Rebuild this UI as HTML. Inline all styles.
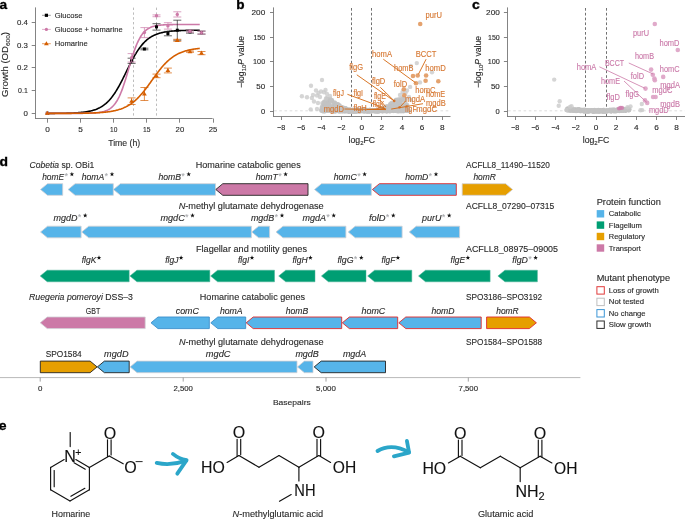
<!DOCTYPE html>
<html><head><meta charset="utf-8"><title>Figure</title>
<style>html,body{margin:0;padding:0;background:#fff;overflow:hidden}svg{display:block;will-change:transform}text{font-family:"Liberation Sans",sans-serif;stroke-width:0.12px}</style>
</head><body>
<svg width="685" height="519" viewBox="0 0 685 519">
<rect width="685" height="519" fill="#fff"/>
<text x="-0.60" y="8.90" font-size="12.2" fill="#000" stroke="#000" font-weight="bold" textLength="7.6" lengthAdjust="spacingAndGlyphs" style="stroke-width:0.3px">a</text>
<line x1="35.50" y1="7.40" x2="35.50" y2="118.90" stroke="#767676" stroke-width="0.9" />
<line x1="35.10" y1="118.50" x2="212.60" y2="118.50" stroke="#767676" stroke-width="0.9" />
<line x1="31.70" y1="113.50" x2="35.50" y2="113.50" stroke="#767676" stroke-width="0.9" />
<text x="27.80" y="115.90" font-size="7" fill="#2a2a2a" stroke="#2a2a2a" text-anchor="end" textLength="4.4" lengthAdjust="spacingAndGlyphs" >0</text>
<line x1="31.70" y1="90.50" x2="35.50" y2="90.50" stroke="#767676" stroke-width="0.9" />
<text x="27.80" y="93.10" font-size="7" fill="#2a2a2a" stroke="#2a2a2a" text-anchor="end" textLength="9.7" lengthAdjust="spacingAndGlyphs" >0.1</text>
<line x1="31.70" y1="67.50" x2="35.50" y2="67.50" stroke="#767676" stroke-width="0.9" />
<text x="27.80" y="70.30" font-size="7" fill="#2a2a2a" stroke="#2a2a2a" text-anchor="end" textLength="10.9" lengthAdjust="spacingAndGlyphs" >0.2</text>
<line x1="31.70" y1="45.50" x2="35.50" y2="45.50" stroke="#767676" stroke-width="0.9" />
<text x="27.80" y="47.50" font-size="7" fill="#2a2a2a" stroke="#2a2a2a" text-anchor="end" textLength="10.9" lengthAdjust="spacingAndGlyphs" >0.3</text>
<line x1="31.70" y1="22.50" x2="35.50" y2="22.50" stroke="#767676" stroke-width="0.9" />
<text x="27.80" y="24.70" font-size="7" fill="#2a2a2a" stroke="#2a2a2a" text-anchor="end" textLength="10.9" lengthAdjust="spacingAndGlyphs" >0.4</text>
<line x1="47.50" y1="118.50" x2="47.50" y2="122.70" stroke="#767676" stroke-width="0.9" />
<text x="47.50" y="132.10" font-size="7" fill="#2a2a2a" stroke="#2a2a2a" text-anchor="middle" textLength="4.6" lengthAdjust="spacingAndGlyphs" >0</text>
<line x1="80.50" y1="118.50" x2="80.50" y2="122.70" stroke="#767676" stroke-width="0.9" />
<text x="80.60" y="132.10" font-size="7" fill="#2a2a2a" stroke="#2a2a2a" text-anchor="middle" textLength="4.6" lengthAdjust="spacingAndGlyphs" >5</text>
<line x1="113.50" y1="118.50" x2="113.50" y2="122.70" stroke="#767676" stroke-width="0.9" />
<text x="113.70" y="132.10" font-size="7" fill="#2a2a2a" stroke="#2a2a2a" text-anchor="middle" textLength="7.3" lengthAdjust="spacingAndGlyphs" >10</text>
<line x1="146.50" y1="118.50" x2="146.50" y2="122.70" stroke="#767676" stroke-width="0.9" />
<text x="146.80" y="132.10" font-size="7" fill="#2a2a2a" stroke="#2a2a2a" text-anchor="middle" textLength="7.5" lengthAdjust="spacingAndGlyphs" >15</text>
<line x1="179.50" y1="118.50" x2="179.50" y2="122.70" stroke="#767676" stroke-width="0.9" />
<text x="179.90" y="132.10" font-size="7" fill="#2a2a2a" stroke="#2a2a2a" text-anchor="middle" textLength="8.6" lengthAdjust="spacingAndGlyphs" >20</text>
<line x1="213.50" y1="118.50" x2="213.50" y2="122.70" stroke="#767676" stroke-width="0.9" />
<text x="213.00" y="132.10" font-size="7" fill="#2a2a2a" stroke="#2a2a2a" text-anchor="middle" textLength="8.6" lengthAdjust="spacingAndGlyphs" >25</text>
<text x="124.20" y="145.90" font-size="8.7" fill="#2a2a2a" stroke="#2a2a2a" text-anchor="middle" textLength="32.1" lengthAdjust="spacingAndGlyphs" >Time (h)</text>
<text transform="translate(7.8,64.5) rotate(-90)" font-size="8.8" fill="#2a2a2a" stroke="#2a2a2a" text-anchor="middle" textLength="65" lengthAdjust="spacingAndGlyphs">Growth (OD<tspan font-size="6" dy="2.2">600</tspan><tspan dy="-2.2">)</tspan></text>
<line x1="133.50" y1="7.60" x2="133.50" y2="118.40" stroke="#a0a0a0" stroke-width="0.7" stroke-dasharray="2.4 2.4"/>
<line x1="156.50" y1="7.60" x2="156.50" y2="118.40" stroke="#a0a0a0" stroke-width="0.7" stroke-dasharray="2.4 2.4"/>
<polyline points="47.50,113.36 48.16,113.36 48.82,113.36 49.49,113.36 50.15,113.35 50.81,113.35 51.47,113.35 52.13,113.34 52.80,113.34 53.46,113.33 54.12,113.33 54.78,113.33 55.44,113.32 56.11,113.32 56.77,113.31 57.43,113.30 58.09,113.30 58.75,113.29 59.42,113.28 60.08,113.28 60.74,113.27 61.40,113.26 62.06,113.25 62.73,113.24 63.39,113.23 64.05,113.22 64.71,113.20 65.37,113.19 66.04,113.18 66.70,113.16 67.36,113.15 68.02,113.13 68.68,113.11 69.35,113.09 70.01,113.07 70.67,113.05 71.33,113.02 71.99,113.00 72.66,112.97 73.32,112.94 73.98,112.91 74.64,112.88 75.30,112.85 75.97,112.81 76.63,112.77 77.29,112.73 77.95,112.68 78.61,112.63 79.28,112.58 79.94,112.53 80.60,112.47 81.26,112.41 81.92,112.34 82.59,112.27 83.25,112.20 83.91,112.12 84.57,112.04 85.23,111.95 85.90,111.85 86.56,111.75 87.22,111.64 87.88,111.52 88.54,111.40 89.21,111.27 89.87,111.13 90.53,110.98 91.19,110.83 91.85,110.66 92.52,110.48 93.18,110.29 93.84,110.09 94.50,109.88 95.16,109.65 95.83,109.42 96.49,109.16 97.15,108.89 97.81,108.61 98.47,108.30 99.14,107.98 99.80,107.65 100.46,107.29 101.12,106.91 101.78,106.51 102.45,106.09 103.11,105.64 103.77,105.17 104.43,104.68 105.09,104.16 105.76,103.61 106.42,103.03 107.08,102.43 107.74,101.80 108.40,101.13 109.07,100.44 109.73,99.71 110.39,98.95 111.05,98.16 111.71,97.33 112.38,96.47 113.04,95.58 113.70,94.65 114.36,93.69 115.02,92.69 115.69,91.67 116.35,90.61 117.01,89.52 117.67,88.39 118.33,87.24 119.00,86.06 119.66,84.86 120.32,83.63 120.98,82.37 121.64,81.10 122.31,79.80 122.97,78.49 123.63,77.17 124.29,75.83 124.95,74.49 125.62,73.14 126.28,71.79 126.94,70.44 127.60,69.09 128.26,67.75 128.93,66.41 129.59,65.09 130.25,63.78 130.91,62.48 131.57,61.21 132.24,59.95 132.90,58.72 133.56,57.52 134.22,56.34 134.88,55.19 135.55,54.06 136.21,52.97 136.87,51.91 137.53,50.89 138.19,49.89 138.86,48.93 139.52,48.00 140.18,47.11 140.84,46.25 141.50,45.42 142.17,44.63 142.83,43.87 143.49,43.14 144.15,42.45 144.81,41.78 145.48,41.15 146.14,40.55 146.80,39.97 147.46,39.42 148.12,38.90 148.79,38.41 149.45,37.94 150.11,37.49 150.77,37.07 151.43,36.67 152.10,36.29 152.76,35.93 153.42,35.60 154.08,35.28 154.74,34.97 155.41,34.69 156.07,34.42 156.73,34.16 157.39,33.93 158.05,33.70 158.72,33.49 159.38,33.29 160.04,33.10 160.70,32.92 161.36,32.75 162.03,32.60 162.69,32.45 163.35,32.31 164.01,32.18 164.67,32.06 165.34,31.94 166.00,31.83 166.66,31.73 167.32,31.63 167.98,31.54 168.65,31.46 169.31,31.38 169.97,31.31 170.63,31.24 171.29,31.17 171.96,31.11 172.62,31.05 173.28,31.00 173.94,30.95 174.60,30.90 175.27,30.85 175.93,30.81 176.59,30.77 177.25,30.73 177.91,30.70 178.58,30.67 179.24,30.64 179.90,30.61 180.56,30.58 181.22,30.56 181.89,30.53 182.55,30.51 183.21,30.49 183.87,30.47 184.53,30.45 185.20,30.43 185.86,30.42 186.52,30.40 187.18,30.39 187.84,30.38 188.51,30.36 189.17,30.35 189.83,30.34 190.49,30.33 191.15,30.32 191.82,30.31 192.48,30.30 193.14,30.30 193.80,30.29 194.46,30.28 195.13,30.28 195.79,30.27 196.45,30.26 197.11,30.26 197.77,30.25 198.44,30.25 199.10,30.25 199.76,30.24" fill="none" stroke="#000" stroke-width="1.6" stroke-linejoin="round"/>
<polyline points="47.50,113.40 48.16,113.40 48.82,113.40 49.49,113.40 50.15,113.40 50.81,113.40 51.47,113.40 52.13,113.40 52.80,113.40 53.46,113.40 54.12,113.40 54.78,113.40 55.44,113.40 56.11,113.40 56.77,113.40 57.43,113.40 58.09,113.40 58.75,113.40 59.42,113.40 60.08,113.40 60.74,113.40 61.40,113.40 62.06,113.40 62.73,113.40 63.39,113.40 64.05,113.40 64.71,113.40 65.37,113.39 66.04,113.39 66.70,113.39 67.36,113.39 68.02,113.39 68.68,113.39 69.35,113.39 70.01,113.39 70.67,113.39 71.33,113.39 71.99,113.39 72.66,113.38 73.32,113.38 73.98,113.38 74.64,113.38 75.30,113.38 75.97,113.37 76.63,113.37 77.29,113.37 77.95,113.36 78.61,113.36 79.28,113.36 79.94,113.35 80.60,113.35 81.26,113.34 81.92,113.33 82.59,113.33 83.25,113.32 83.91,113.31 84.57,113.30 85.23,113.29 85.90,113.28 86.56,113.26 87.22,113.25 87.88,113.23 88.54,113.22 89.21,113.20 89.87,113.18 90.53,113.15 91.19,113.12 91.85,113.09 92.52,113.06 93.18,113.03 93.84,112.99 94.50,112.94 95.16,112.89 95.83,112.84 96.49,112.78 97.15,112.71 97.81,112.64 98.47,112.56 99.14,112.47 99.80,112.37 100.46,112.26 101.12,112.14 101.78,112.01 102.45,111.86 103.11,111.70 103.77,111.52 104.43,111.32 105.09,111.11 105.76,110.87 106.42,110.60 107.08,110.31 107.74,109.99 108.40,109.64 109.07,109.26 109.73,108.84 110.39,108.38 111.05,107.87 111.71,107.32 112.38,106.71 113.04,106.05 113.70,105.34 114.36,104.56 115.02,103.71 115.69,102.79 116.35,101.80 117.01,100.73 117.67,99.59 118.33,98.35 119.00,97.04 119.66,95.63 120.32,94.13 120.98,92.55 121.64,90.88 122.31,89.12 122.97,87.28 123.63,85.36 124.29,83.36 124.95,81.30 125.62,79.18 126.28,77.01 126.94,74.80 127.60,72.56 128.26,70.30 128.93,68.03 129.59,65.77 130.25,63.53 130.91,61.31 131.57,59.13 132.24,57.00 132.90,54.92 133.56,52.91 134.22,50.98 134.88,49.12 135.55,47.35 136.21,45.66 136.87,44.06 137.53,42.54 138.19,41.12 138.86,39.78 139.52,38.53 140.18,37.37 140.84,36.28 141.50,35.28 142.17,34.35 142.83,33.49 143.49,32.70 144.15,31.97 144.81,31.30 145.48,30.68 146.14,30.12 146.80,29.60 147.46,29.13 148.12,28.70 148.79,28.31 149.45,27.95 150.11,27.63 150.77,27.33 151.43,27.06 152.10,26.82 152.76,26.60 153.42,26.40 154.08,26.22 154.74,26.05 155.41,25.90 156.07,25.76 156.73,25.64 157.39,25.53 158.05,25.43 158.72,25.34 159.38,25.26 160.04,25.18 160.70,25.11 161.36,25.05 162.03,25.00 162.69,24.95 163.35,24.90 164.01,24.86 164.67,24.82 165.34,24.79 166.00,24.76 166.66,24.73 167.32,24.71 167.98,24.69 168.65,24.67 169.31,24.65 169.97,24.63 170.63,24.62 171.29,24.60 171.96,24.59 172.62,24.58 173.28,24.57 173.94,24.56 174.60,24.55 175.27,24.55 175.93,24.54 176.59,24.54 177.25,24.53 177.91,24.52 178.58,24.52 179.24,24.52 179.90,24.51 180.56,24.51 181.22,24.51 181.89,24.50 182.55,24.50 183.21,24.50 183.87,24.50 184.53,24.50 185.20,24.49 185.86,24.49 186.52,24.49 187.18,24.49 187.84,24.49 188.51,24.49 189.17,24.49 189.83,24.49 190.49,24.49 191.15,24.49 191.82,24.49 192.48,24.48 193.14,24.48 193.80,24.48 194.46,24.48 195.13,24.48 195.79,24.48 196.45,24.48 197.11,24.48 197.77,24.48 198.44,24.48 199.10,24.48 199.76,24.48" fill="none" stroke="#cc79a7" stroke-width="1.6" stroke-linejoin="round"/>
<polyline points="47.50,113.39 48.16,113.39 48.82,113.39 49.49,113.39 50.15,113.39 50.81,113.39 51.47,113.39 52.13,113.39 52.80,113.38 53.46,113.38 54.12,113.38 54.78,113.38 55.44,113.38 56.11,113.38 56.77,113.38 57.43,113.38 58.09,113.38 58.75,113.38 59.42,113.37 60.08,113.37 60.74,113.37 61.40,113.37 62.06,113.37 62.73,113.37 63.39,113.36 64.05,113.36 64.71,113.36 65.37,113.36 66.04,113.35 66.70,113.35 67.36,113.35 68.02,113.35 68.68,113.34 69.35,113.34 70.01,113.34 70.67,113.33 71.33,113.33 71.99,113.32 72.66,113.32 73.32,113.31 73.98,113.31 74.64,113.30 75.30,113.30 75.97,113.29 76.63,113.29 77.29,113.28 77.95,113.27 78.61,113.27 79.28,113.26 79.94,113.25 80.60,113.24 81.26,113.23 81.92,113.22 82.59,113.21 83.25,113.20 83.91,113.19 84.57,113.18 85.23,113.17 85.90,113.15 86.56,113.14 87.22,113.12 87.88,113.11 88.54,113.09 89.21,113.07 89.87,113.06 90.53,113.04 91.19,113.02 91.85,112.99 92.52,112.97 93.18,112.95 93.84,112.92 94.50,112.89 95.16,112.86 95.83,112.83 96.49,112.80 97.15,112.77 97.81,112.73 98.47,112.69 99.14,112.65 99.80,112.61 100.46,112.56 101.12,112.52 101.78,112.47 102.45,112.41 103.11,112.36 103.77,112.30 104.43,112.23 105.09,112.17 105.76,112.10 106.42,112.03 107.08,111.95 107.74,111.87 108.40,111.78 109.07,111.69 109.73,111.59 110.39,111.49 111.05,111.39 111.71,111.27 112.38,111.16 113.04,111.03 113.70,110.90 114.36,110.76 115.02,110.62 115.69,110.46 116.35,110.30 117.01,110.13 117.67,109.95 118.33,109.77 119.00,109.57 119.66,109.36 120.32,109.14 120.98,108.92 121.64,108.68 122.31,108.42 122.97,108.16 123.63,107.88 124.29,107.59 124.95,107.29 125.62,106.97 126.28,106.64 126.94,106.29 127.60,105.93 128.26,105.55 128.93,105.16 129.59,104.74 130.25,104.31 130.91,103.87 131.57,103.40 132.24,102.91 132.90,102.41 133.56,101.89 134.22,101.35 134.88,100.78 135.55,100.20 136.21,99.60 136.87,98.98 137.53,98.34 138.19,97.68 138.86,97.00 139.52,96.30 140.18,95.58 140.84,94.84 141.50,94.08 142.17,93.31 142.83,92.51 143.49,91.71 144.15,90.88 144.81,90.04 145.48,89.19 146.14,88.33 146.80,87.45 147.46,86.56 148.12,85.66 148.79,84.76 149.45,83.84 150.11,82.93 150.77,82.00 151.43,81.08 152.10,80.15 152.76,79.23 153.42,78.31 154.08,77.39 154.74,76.47 155.41,75.56 156.07,74.66 156.73,73.76 157.39,72.88 158.05,72.01 158.72,71.15 159.38,70.30 160.04,69.47 160.70,68.65 161.36,67.85 162.03,67.06 162.69,66.29 163.35,65.54 164.01,64.81 164.67,64.10 165.34,63.41 166.00,62.74 166.66,62.08 167.32,61.45 167.98,60.84 168.65,60.24 169.31,59.67 169.97,59.11 170.63,58.58 171.29,58.07 171.96,57.57 172.62,57.09 173.28,56.63 173.94,56.19 174.60,55.77 175.27,55.36 175.93,54.97 176.59,54.60 177.25,54.25 177.91,53.90 178.58,53.58 179.24,53.27 179.90,52.97 180.56,52.68 181.22,52.41 181.89,52.15 182.55,51.91 183.21,51.67 183.87,51.45 184.53,51.23 185.20,51.03 185.86,50.84 186.52,50.65 187.18,50.48 187.84,50.31 188.51,50.15 189.17,50.00 189.83,49.86 190.49,49.73 191.15,49.60 191.82,49.48 192.48,49.36 193.14,49.25 193.80,49.15 194.46,49.05 195.13,48.95 195.79,48.86 196.45,48.78 197.11,48.70 197.77,48.62 198.44,48.55 199.10,48.48 199.76,48.42" fill="none" stroke="#d55e00" stroke-width="1.6" stroke-linejoin="round"/>
<rect x="45.80" y="111.70" width="3" height="3" fill="#000"/>
<line x1="131.60" y1="58.20" x2="131.60" y2="63.40" stroke="#222" stroke-width="0.7" />
<line x1="127.60" y1="58.20" x2="135.60" y2="58.20" stroke="#222" stroke-width="0.7" />
<line x1="127.60" y1="63.40" x2="135.60" y2="63.40" stroke="#222" stroke-width="0.7" />
<rect x="130.10" y="59.30" width="3" height="3" fill="#000"/>
<line x1="144.40" y1="48.20" x2="144.40" y2="49.80" stroke="#222" stroke-width="0.7" />
<line x1="140.40" y1="48.20" x2="148.40" y2="48.20" stroke="#222" stroke-width="0.7" />
<line x1="140.40" y1="49.80" x2="148.40" y2="49.80" stroke="#222" stroke-width="0.7" />
<rect x="142.90" y="47.50" width="3" height="3" fill="#000"/>
<line x1="156.50" y1="23.70" x2="156.50" y2="30.10" stroke="#222" stroke-width="0.7" />
<line x1="152.50" y1="23.70" x2="160.50" y2="23.70" stroke="#222" stroke-width="0.7" />
<line x1="152.50" y1="30.10" x2="160.50" y2="30.10" stroke="#222" stroke-width="0.7" />
<rect x="155.00" y="25.40" width="3" height="3" fill="#000"/>
<line x1="167.90" y1="31.40" x2="167.90" y2="35.80" stroke="#222" stroke-width="0.7" />
<line x1="163.90" y1="31.40" x2="171.90" y2="31.40" stroke="#222" stroke-width="0.7" />
<line x1="163.90" y1="35.80" x2="171.90" y2="35.80" stroke="#222" stroke-width="0.7" />
<rect x="166.40" y="32.10" width="3" height="3" fill="#000"/>
<line x1="177.30" y1="20.20" x2="177.30" y2="40.20" stroke="#222" stroke-width="0.7" />
<line x1="173.30" y1="20.20" x2="181.30" y2="20.20" stroke="#222" stroke-width="0.7" />
<line x1="173.30" y1="40.20" x2="181.30" y2="40.20" stroke="#222" stroke-width="0.7" />
<rect x="175.80" y="28.70" width="3" height="3" fill="#000"/>
<line x1="190.00" y1="30.70" x2="190.00" y2="33.10" stroke="#222" stroke-width="0.7" />
<line x1="186.00" y1="30.70" x2="194.00" y2="30.70" stroke="#222" stroke-width="0.7" />
<line x1="186.00" y1="33.10" x2="194.00" y2="33.10" stroke="#222" stroke-width="0.7" />
<rect x="188.50" y="30.40" width="3" height="3" fill="#000"/>
<line x1="201.50" y1="31.10" x2="201.50" y2="34.10" stroke="#222" stroke-width="0.7" />
<line x1="197.50" y1="31.10" x2="205.50" y2="31.10" stroke="#222" stroke-width="0.7" />
<line x1="197.50" y1="34.10" x2="205.50" y2="34.10" stroke="#222" stroke-width="0.7" />
<rect x="200.00" y="31.10" width="3" height="3" fill="#000"/>
<circle cx="47.30" cy="113.20" r="1.7" fill="#cc79a7"/>
<line x1="131.60" y1="53.60" x2="131.60" y2="62.00" stroke="#cc79a7" stroke-width="0.7" />
<line x1="127.60" y1="53.60" x2="135.60" y2="53.60" stroke="#cc79a7" stroke-width="0.7" />
<line x1="127.60" y1="62.00" x2="135.60" y2="62.00" stroke="#cc79a7" stroke-width="0.7" />
<circle cx="131.60" cy="57.80" r="1.7" fill="#cc79a7"/>
<line x1="144.40" y1="27.60" x2="144.40" y2="37.60" stroke="#cc79a7" stroke-width="0.7" />
<line x1="140.40" y1="27.60" x2="148.40" y2="27.60" stroke="#cc79a7" stroke-width="0.7" />
<line x1="140.40" y1="37.60" x2="148.40" y2="37.60" stroke="#cc79a7" stroke-width="0.7" />
<circle cx="144.40" cy="32.60" r="1.7" fill="#cc79a7"/>
<line x1="156.50" y1="14.90" x2="156.50" y2="16.70" stroke="#cc79a7" stroke-width="0.7" />
<line x1="152.50" y1="14.90" x2="160.50" y2="14.90" stroke="#cc79a7" stroke-width="0.7" />
<line x1="152.50" y1="16.70" x2="160.50" y2="16.70" stroke="#cc79a7" stroke-width="0.7" />
<circle cx="156.50" cy="15.80" r="1.7" fill="#cc79a7"/>
<line x1="167.90" y1="22.70" x2="167.90" y2="29.10" stroke="#cc79a7" stroke-width="0.7" />
<line x1="163.90" y1="22.70" x2="171.90" y2="22.70" stroke="#cc79a7" stroke-width="0.7" />
<line x1="163.90" y1="29.10" x2="171.90" y2="29.10" stroke="#cc79a7" stroke-width="0.7" />
<circle cx="167.90" cy="25.90" r="1.7" fill="#cc79a7"/>
<line x1="177.30" y1="11.80" x2="177.30" y2="17.00" stroke="#cc79a7" stroke-width="0.7" />
<line x1="173.30" y1="11.80" x2="181.30" y2="11.80" stroke="#cc79a7" stroke-width="0.7" />
<line x1="173.30" y1="17.00" x2="181.30" y2="17.00" stroke="#cc79a7" stroke-width="0.7" />
<circle cx="177.30" cy="14.40" r="1.7" fill="#cc79a7"/>
<line x1="190.00" y1="30.20" x2="190.00" y2="32.20" stroke="#cc79a7" stroke-width="0.7" />
<line x1="186.00" y1="30.20" x2="194.00" y2="30.20" stroke="#cc79a7" stroke-width="0.7" />
<line x1="186.00" y1="32.20" x2="194.00" y2="32.20" stroke="#cc79a7" stroke-width="0.7" />
<circle cx="190.00" cy="31.20" r="1.7" fill="#cc79a7"/>
<line x1="201.50" y1="31.10" x2="201.50" y2="34.10" stroke="#cc79a7" stroke-width="0.7" />
<line x1="197.50" y1="31.10" x2="205.50" y2="31.10" stroke="#cc79a7" stroke-width="0.7" />
<line x1="197.50" y1="34.10" x2="205.50" y2="34.10" stroke="#cc79a7" stroke-width="0.7" />
<circle cx="201.50" cy="32.60" r="1.7" fill="#cc79a7"/>
<path d="M47.30,110.70 L49.70,114.80 L44.90,114.80Z" fill="#d55e00"/>
<line x1="131.60" y1="97.90" x2="131.60" y2="104.50" stroke="#d55e00" stroke-width="0.7" />
<line x1="127.60" y1="97.90" x2="135.60" y2="97.90" stroke="#d55e00" stroke-width="0.7" />
<line x1="127.60" y1="104.50" x2="135.60" y2="104.50" stroke="#d55e00" stroke-width="0.7" />
<path d="M131.60,98.70 L134.00,102.80 L129.20,102.80Z" fill="#d55e00"/>
<line x1="144.40" y1="87.50" x2="144.40" y2="100.50" stroke="#d55e00" stroke-width="0.7" />
<line x1="140.40" y1="87.50" x2="148.40" y2="87.50" stroke="#d55e00" stroke-width="0.7" />
<line x1="140.40" y1="100.50" x2="148.40" y2="100.50" stroke="#d55e00" stroke-width="0.7" />
<path d="M144.40,91.50 L146.80,95.60 L142.00,95.60Z" fill="#d55e00"/>
<line x1="156.50" y1="74.10" x2="156.50" y2="77.70" stroke="#d55e00" stroke-width="0.7" />
<line x1="152.50" y1="74.10" x2="160.50" y2="74.10" stroke="#d55e00" stroke-width="0.7" />
<line x1="152.50" y1="77.70" x2="160.50" y2="77.70" stroke="#d55e00" stroke-width="0.7" />
<path d="M156.50,73.40 L158.90,77.50 L154.10,77.50Z" fill="#d55e00"/>
<line x1="167.90" y1="68.10" x2="167.90" y2="72.90" stroke="#d55e00" stroke-width="0.7" />
<line x1="163.90" y1="68.10" x2="171.90" y2="68.10" stroke="#d55e00" stroke-width="0.7" />
<line x1="163.90" y1="72.90" x2="171.90" y2="72.90" stroke="#d55e00" stroke-width="0.7" />
<path d="M167.90,68.00 L170.30,72.10 L165.50,72.10Z" fill="#d55e00"/>
<line x1="177.30" y1="39.30" x2="177.30" y2="41.30" stroke="#d55e00" stroke-width="0.7" />
<line x1="173.30" y1="39.30" x2="181.30" y2="39.30" stroke="#d55e00" stroke-width="0.7" />
<line x1="173.30" y1="41.30" x2="181.30" y2="41.30" stroke="#d55e00" stroke-width="0.7" />
<path d="M177.30,37.80 L179.70,41.90 L174.90,41.90Z" fill="#d55e00"/>
<line x1="190.00" y1="51.10" x2="190.00" y2="52.30" stroke="#d55e00" stroke-width="0.7" />
<line x1="186.00" y1="51.10" x2="194.00" y2="51.10" stroke="#d55e00" stroke-width="0.7" />
<line x1="186.00" y1="52.30" x2="194.00" y2="52.30" stroke="#d55e00" stroke-width="0.7" />
<path d="M190.00,49.20 L192.40,53.30 L187.60,53.30Z" fill="#d55e00"/>
<line x1="201.50" y1="51.50" x2="201.50" y2="54.70" stroke="#d55e00" stroke-width="0.7" />
<line x1="197.50" y1="51.50" x2="205.50" y2="51.50" stroke="#d55e00" stroke-width="0.7" />
<line x1="197.50" y1="54.70" x2="205.50" y2="54.70" stroke="#d55e00" stroke-width="0.7" />
<path d="M201.50,50.60 L203.90,54.70 L199.10,54.70Z" fill="#d55e00"/>
<line x1="42.00" y1="15.30" x2="50.80" y2="15.30" stroke="#555" stroke-width="0.6" />
<rect x="44.8" y="13.700000000000001" width="3.2" height="3.2" fill="#000"/>
<text x="54.70" y="17.60" font-size="8.0" fill="#2a2a2a" stroke="#2a2a2a" textLength="27.9" lengthAdjust="spacingAndGlyphs" >Glucose</text>
<line x1="42.00" y1="29.40" x2="50.80" y2="29.40" stroke="#cc79a7" stroke-width="0.6" />
<circle cx="46.4" cy="29.4" r="1.6" fill="#cc79a7"/>
<text x="54.70" y="31.70" font-size="8.0" fill="#2a2a2a" stroke="#2a2a2a" textLength="68.0" lengthAdjust="spacingAndGlyphs" >Glucose + homarine</text>
<line x1="42.00" y1="43.70" x2="50.80" y2="43.70" stroke="#d55e00" stroke-width="0.6" />
<path d="M46.4,41.2 L48.8,45.300000000000004 L44.0,45.300000000000004Z" fill="#d55e00"/>
<text x="54.70" y="46.00" font-size="8.0" fill="#2a2a2a" stroke="#2a2a2a" textLength="33.1" lengthAdjust="spacingAndGlyphs" >Homarine</text>
<text x="236.30" y="9.00" font-size="12.2" fill="#000" stroke="#000" font-weight="bold" textLength="8.3" lengthAdjust="spacingAndGlyphs" style="stroke-width:0.3px">b</text>
<line x1="273.50" y1="7.40" x2="273.50" y2="116.90" stroke="#767676" stroke-width="0.9" />
<line x1="273.20" y1="116.50" x2="450.50" y2="116.50" stroke="#767676" stroke-width="0.9" />
<line x1="270.00" y1="111.50" x2="273.60" y2="111.50" stroke="#767676" stroke-width="0.9" />
<text x="265.20" y="113.80" font-size="7" fill="#2a2a2a" stroke="#2a2a2a" text-anchor="end" textLength="4.2" lengthAdjust="spacingAndGlyphs" >0</text>
<line x1="270.00" y1="86.50" x2="273.60" y2="86.50" stroke="#767676" stroke-width="0.9" />
<text x="265.20" y="89.05" font-size="7" fill="#2a2a2a" stroke="#2a2a2a" text-anchor="end" textLength="8.9" lengthAdjust="spacingAndGlyphs" >50</text>
<line x1="270.00" y1="61.50" x2="273.60" y2="61.50" stroke="#767676" stroke-width="0.9" />
<text x="265.20" y="64.30" font-size="7" fill="#2a2a2a" stroke="#2a2a2a" text-anchor="end" textLength="12.1" lengthAdjust="spacingAndGlyphs" >100</text>
<line x1="270.00" y1="37.50" x2="273.60" y2="37.50" stroke="#767676" stroke-width="0.9" />
<text x="265.20" y="39.55" font-size="7" fill="#2a2a2a" stroke="#2a2a2a" text-anchor="end" textLength="11.8" lengthAdjust="spacingAndGlyphs" >150</text>
<line x1="270.00" y1="12.50" x2="273.60" y2="12.50" stroke="#767676" stroke-width="0.9" />
<text x="265.20" y="14.80" font-size="7" fill="#2a2a2a" stroke="#2a2a2a" text-anchor="end" textLength="13.7" lengthAdjust="spacingAndGlyphs" >200</text>
<line x1="281.50" y1="116.50" x2="281.50" y2="120.00" stroke="#767676" stroke-width="0.9" />
<text x="281.10" y="129.90" font-size="7" fill="#2a2a2a" stroke="#2a2a2a" text-anchor="middle" textLength="8.2" lengthAdjust="spacingAndGlyphs" >−8</text>
<line x1="301.50" y1="116.50" x2="301.50" y2="120.00" stroke="#767676" stroke-width="0.9" />
<text x="301.20" y="129.90" font-size="7" fill="#2a2a2a" stroke="#2a2a2a" text-anchor="middle" textLength="8.2" lengthAdjust="spacingAndGlyphs" >−6</text>
<line x1="321.50" y1="116.50" x2="321.50" y2="120.00" stroke="#767676" stroke-width="0.9" />
<text x="321.30" y="129.90" font-size="7" fill="#2a2a2a" stroke="#2a2a2a" text-anchor="middle" textLength="8.2" lengthAdjust="spacingAndGlyphs" >−4</text>
<line x1="341.50" y1="116.50" x2="341.50" y2="120.00" stroke="#767676" stroke-width="0.9" />
<text x="341.40" y="129.90" font-size="7" fill="#2a2a2a" stroke="#2a2a2a" text-anchor="middle" textLength="8.2" lengthAdjust="spacingAndGlyphs" >−2</text>
<line x1="361.50" y1="116.50" x2="361.50" y2="120.00" stroke="#767676" stroke-width="0.9" />
<text x="361.80" y="129.90" font-size="7" fill="#2a2a2a" stroke="#2a2a2a" text-anchor="middle" textLength="4.6" lengthAdjust="spacingAndGlyphs" >0</text>
<line x1="381.50" y1="116.50" x2="381.50" y2="120.00" stroke="#767676" stroke-width="0.9" />
<text x="381.90" y="129.90" font-size="7" fill="#2a2a2a" stroke="#2a2a2a" text-anchor="middle" textLength="4.6" lengthAdjust="spacingAndGlyphs" >2</text>
<line x1="402.50" y1="116.50" x2="402.50" y2="120.00" stroke="#767676" stroke-width="0.9" />
<text x="402.00" y="129.90" font-size="7" fill="#2a2a2a" stroke="#2a2a2a" text-anchor="middle" textLength="4.6" lengthAdjust="spacingAndGlyphs" >4</text>
<line x1="422.50" y1="116.50" x2="422.50" y2="120.00" stroke="#767676" stroke-width="0.9" />
<text x="422.10" y="129.90" font-size="7" fill="#2a2a2a" stroke="#2a2a2a" text-anchor="middle" textLength="4.6" lengthAdjust="spacingAndGlyphs" >6</text>
<line x1="442.50" y1="116.50" x2="442.50" y2="120.00" stroke="#767676" stroke-width="0.9" />
<text x="442.20" y="129.90" font-size="7" fill="#2a2a2a" stroke="#2a2a2a" text-anchor="middle" textLength="4.6" lengthAdjust="spacingAndGlyphs" >8</text>
<text x="361.8" y="142.7" font-size="8.7" fill="#2a2a2a" stroke="#2a2a2a" text-anchor="middle" textLength="26.5" lengthAdjust="spacingAndGlyphs">log<tspan font-size="6" dy="2">2</tspan><tspan dy="-2">FC</tspan></text>
<text transform="translate(244.3,61.9) rotate(-90)" font-size="8.8" fill="#2a2a2a" stroke="#2a2a2a" text-anchor="middle" textLength="52.2" lengthAdjust="spacingAndGlyphs">−log<tspan font-size="6" dy="2">10</tspan><tspan dy="-2" font-style="italic">P</tspan> value</text>
<line x1="274.10" y1="110.80" x2="450.50" y2="110.80" stroke="#d4d4d4" stroke-width="0.8" stroke-dasharray="2.6 2.6"/>
<line x1="351.50" y1="8.00" x2="351.50" y2="116.20" stroke="#4c4c4c" stroke-width="0.8" stroke-dasharray="2.7 2.1"/>
<line x1="371.50" y1="8.00" x2="371.50" y2="116.20" stroke="#4c4c4c" stroke-width="0.8" stroke-dasharray="2.7 2.1"/>
<g>
<circle cx="349.5" cy="110.3" r="2.1" fill="#c3c3c3" fill-opacity="0.8"/>
<circle cx="327.4" cy="105.1" r="2.1" fill="#c3c3c3" fill-opacity="0.8"/>
<circle cx="353.2" cy="110.7" r="2.1" fill="#c3c3c3" fill-opacity="0.8"/>
<circle cx="324.3" cy="107.1" r="2.1" fill="#c3c3c3" fill-opacity="0.8"/>
<circle cx="327.1" cy="110.9" r="2.1" fill="#c3c3c3" fill-opacity="0.8"/>
<circle cx="358.4" cy="111.5" r="2.1" fill="#c3c3c3" fill-opacity="0.8"/>
<circle cx="340.6" cy="108.4" r="2.1" fill="#c3c3c3" fill-opacity="0.8"/>
<circle cx="404.4" cy="104.7" r="2.1" fill="#c3c3c3" fill-opacity="0.8"/>
<circle cx="355.9" cy="111.6" r="2.1" fill="#c3c3c3" fill-opacity="0.8"/>
<circle cx="396.5" cy="109.0" r="2.1" fill="#c3c3c3" fill-opacity="0.8"/>
<circle cx="333.7" cy="110.8" r="2.1" fill="#c3c3c3" fill-opacity="0.8"/>
<circle cx="348.1" cy="111.3" r="2.1" fill="#c3c3c3" fill-opacity="0.8"/>
<circle cx="372.2" cy="111.0" r="2.1" fill="#c3c3c3" fill-opacity="0.8"/>
<circle cx="369.2" cy="111.5" r="2.1" fill="#c3c3c3" fill-opacity="0.8"/>
<circle cx="339.1" cy="107.4" r="2.1" fill="#c3c3c3" fill-opacity="0.8"/>
<circle cx="358.6" cy="110.6" r="2.1" fill="#c3c3c3" fill-opacity="0.8"/>
<circle cx="360.9" cy="110.1" r="2.1" fill="#c3c3c3" fill-opacity="0.8"/>
<circle cx="382.5" cy="111.0" r="2.1" fill="#c3c3c3" fill-opacity="0.8"/>
<circle cx="371.5" cy="110.0" r="2.1" fill="#c3c3c3" fill-opacity="0.8"/>
<circle cx="385.2" cy="110.6" r="2.1" fill="#c3c3c3" fill-opacity="0.8"/>
<circle cx="407.3" cy="111.0" r="2.1" fill="#c3c3c3" fill-opacity="0.8"/>
<circle cx="357.8" cy="111.4" r="2.1" fill="#c3c3c3" fill-opacity="0.8"/>
<circle cx="364.0" cy="110.4" r="2.1" fill="#c3c3c3" fill-opacity="0.8"/>
<circle cx="388.3" cy="108.2" r="2.1" fill="#c3c3c3" fill-opacity="0.8"/>
<circle cx="398.0" cy="108.6" r="2.1" fill="#c3c3c3" fill-opacity="0.8"/>
<circle cx="382.2" cy="109.8" r="2.1" fill="#c3c3c3" fill-opacity="0.8"/>
<circle cx="372.0" cy="110.0" r="2.1" fill="#c3c3c3" fill-opacity="0.8"/>
<circle cx="404.1" cy="106.1" r="2.1" fill="#c3c3c3" fill-opacity="0.8"/>
<circle cx="379.4" cy="110.0" r="2.1" fill="#c3c3c3" fill-opacity="0.8"/>
<circle cx="377.9" cy="110.1" r="2.1" fill="#c3c3c3" fill-opacity="0.8"/>
<circle cx="346.0" cy="109.6" r="2.1" fill="#c3c3c3" fill-opacity="0.8"/>
<circle cx="323.0" cy="107.7" r="2.1" fill="#c3c3c3" fill-opacity="0.8"/>
<circle cx="335.8" cy="111.0" r="2.1" fill="#c3c3c3" fill-opacity="0.8"/>
<circle cx="326.2" cy="101.7" r="2.1" fill="#c3c3c3" fill-opacity="0.8"/>
<circle cx="332.4" cy="109.5" r="2.1" fill="#c3c3c3" fill-opacity="0.8"/>
<circle cx="355.4" cy="111.5" r="2.1" fill="#c3c3c3" fill-opacity="0.8"/>
<circle cx="360.5" cy="109.9" r="2.1" fill="#c3c3c3" fill-opacity="0.8"/>
<circle cx="393.1" cy="103.2" r="2.1" fill="#c3c3c3" fill-opacity="0.8"/>
<circle cx="345.5" cy="110.7" r="2.1" fill="#c3c3c3" fill-opacity="0.8"/>
<circle cx="398.8" cy="99.1" r="2.1" fill="#c3c3c3" fill-opacity="0.8"/>
<circle cx="334.3" cy="110.4" r="2.1" fill="#c3c3c3" fill-opacity="0.8"/>
<circle cx="341.4" cy="110.8" r="2.1" fill="#c3c3c3" fill-opacity="0.8"/>
<circle cx="363.7" cy="111.2" r="2.1" fill="#c3c3c3" fill-opacity="0.8"/>
<circle cx="321.4" cy="110.5" r="2.1" fill="#c3c3c3" fill-opacity="0.8"/>
<circle cx="353.5" cy="109.6" r="2.1" fill="#c3c3c3" fill-opacity="0.8"/>
<circle cx="381.8" cy="110.2" r="2.1" fill="#c3c3c3" fill-opacity="0.8"/>
<circle cx="375.3" cy="111.6" r="2.1" fill="#c3c3c3" fill-opacity="0.8"/>
<circle cx="400.2" cy="101.5" r="2.1" fill="#c3c3c3" fill-opacity="0.8"/>
<circle cx="398.0" cy="101.9" r="2.1" fill="#c3c3c3" fill-opacity="0.8"/>
<circle cx="355.5" cy="111.5" r="2.1" fill="#c3c3c3" fill-opacity="0.8"/>
<circle cx="376.8" cy="111.5" r="2.1" fill="#c3c3c3" fill-opacity="0.8"/>
<circle cx="339.4" cy="110.9" r="2.1" fill="#c3c3c3" fill-opacity="0.8"/>
<circle cx="350.9" cy="111.6" r="2.1" fill="#c3c3c3" fill-opacity="0.8"/>
<circle cx="334.3" cy="111.0" r="2.1" fill="#c3c3c3" fill-opacity="0.8"/>
<circle cx="353.0" cy="109.8" r="2.1" fill="#c3c3c3" fill-opacity="0.8"/>
<circle cx="375.0" cy="111.3" r="2.1" fill="#c3c3c3" fill-opacity="0.8"/>
<circle cx="351.6" cy="111.4" r="2.1" fill="#c3c3c3" fill-opacity="0.8"/>
<circle cx="395.7" cy="100.1" r="2.1" fill="#c3c3c3" fill-opacity="0.8"/>
<circle cx="362.0" cy="111.5" r="2.1" fill="#c3c3c3" fill-opacity="0.8"/>
<circle cx="330.0" cy="108.1" r="2.1" fill="#c3c3c3" fill-opacity="0.8"/>
<circle cx="344.3" cy="108.7" r="2.1" fill="#c3c3c3" fill-opacity="0.8"/>
<circle cx="335.2" cy="111.5" r="2.1" fill="#c3c3c3" fill-opacity="0.8"/>
<circle cx="404.7" cy="105.5" r="2.1" fill="#c3c3c3" fill-opacity="0.8"/>
<circle cx="333.9" cy="106.5" r="2.1" fill="#c3c3c3" fill-opacity="0.8"/>
<circle cx="323.4" cy="106.7" r="2.1" fill="#c3c3c3" fill-opacity="0.8"/>
<circle cx="407.1" cy="104.5" r="2.1" fill="#c3c3c3" fill-opacity="0.8"/>
<circle cx="382.3" cy="111.0" r="2.1" fill="#c3c3c3" fill-opacity="0.8"/>
<circle cx="353.3" cy="110.1" r="2.1" fill="#c3c3c3" fill-opacity="0.8"/>
<circle cx="367.9" cy="111.1" r="2.1" fill="#c3c3c3" fill-opacity="0.8"/>
<circle cx="340.6" cy="107.2" r="2.1" fill="#c3c3c3" fill-opacity="0.8"/>
<circle cx="407.7" cy="106.2" r="2.1" fill="#c3c3c3" fill-opacity="0.8"/>
<circle cx="391.9" cy="104.3" r="2.1" fill="#c3c3c3" fill-opacity="0.8"/>
<circle cx="386.1" cy="110.8" r="2.1" fill="#c3c3c3" fill-opacity="0.8"/>
<circle cx="366.6" cy="111.6" r="2.1" fill="#c3c3c3" fill-opacity="0.8"/>
<circle cx="323.5" cy="109.3" r="2.1" fill="#c3c3c3" fill-opacity="0.8"/>
<circle cx="343.8" cy="109.2" r="2.1" fill="#c3c3c3" fill-opacity="0.8"/>
<circle cx="405.2" cy="106.8" r="2.1" fill="#c3c3c3" fill-opacity="0.8"/>
<circle cx="403.5" cy="97.3" r="2.1" fill="#c3c3c3" fill-opacity="0.8"/>
<circle cx="405.0" cy="107.9" r="2.1" fill="#c3c3c3" fill-opacity="0.8"/>
<circle cx="340.4" cy="110.7" r="2.1" fill="#c3c3c3" fill-opacity="0.8"/>
<circle cx="338.3" cy="110.6" r="2.1" fill="#c3c3c3" fill-opacity="0.8"/>
<circle cx="375.9" cy="110.1" r="2.1" fill="#c3c3c3" fill-opacity="0.8"/>
<circle cx="363.2" cy="110.1" r="2.1" fill="#c3c3c3" fill-opacity="0.8"/>
<circle cx="328.5" cy="103.2" r="2.1" fill="#c3c3c3" fill-opacity="0.8"/>
<circle cx="401.1" cy="101.2" r="2.1" fill="#c3c3c3" fill-opacity="0.8"/>
<circle cx="387.0" cy="109.3" r="2.1" fill="#c3c3c3" fill-opacity="0.8"/>
<circle cx="336.7" cy="105.2" r="2.1" fill="#c3c3c3" fill-opacity="0.8"/>
<circle cx="350.3" cy="109.6" r="2.1" fill="#c3c3c3" fill-opacity="0.8"/>
<circle cx="355.8" cy="109.7" r="2.1" fill="#c3c3c3" fill-opacity="0.8"/>
<circle cx="384.8" cy="111.1" r="2.1" fill="#c3c3c3" fill-opacity="0.8"/>
<circle cx="332.2" cy="110.5" r="2.1" fill="#c3c3c3" fill-opacity="0.8"/>
<circle cx="400.6" cy="100.9" r="2.1" fill="#c3c3c3" fill-opacity="0.8"/>
<circle cx="333.9" cy="103.0" r="2.1" fill="#c3c3c3" fill-opacity="0.8"/>
<circle cx="407.3" cy="106.9" r="2.1" fill="#c3c3c3" fill-opacity="0.8"/>
<circle cx="351.8" cy="111.4" r="2.1" fill="#c3c3c3" fill-opacity="0.8"/>
<circle cx="322.3" cy="103.0" r="2.1" fill="#c3c3c3" fill-opacity="0.8"/>
<circle cx="378.2" cy="109.8" r="2.1" fill="#c3c3c3" fill-opacity="0.8"/>
<circle cx="359.2" cy="110.0" r="2.1" fill="#c3c3c3" fill-opacity="0.8"/>
<circle cx="339.6" cy="110.4" r="2.1" fill="#c3c3c3" fill-opacity="0.8"/>
<circle cx="346.8" cy="110.1" r="2.1" fill="#c3c3c3" fill-opacity="0.8"/>
<circle cx="343.8" cy="110.3" r="2.1" fill="#c3c3c3" fill-opacity="0.8"/>
<circle cx="332.5" cy="101.1" r="2.1" fill="#c3c3c3" fill-opacity="0.8"/>
<circle cx="352.1" cy="110.5" r="2.1" fill="#c3c3c3" fill-opacity="0.8"/>
<circle cx="400.6" cy="106.9" r="2.1" fill="#c3c3c3" fill-opacity="0.8"/>
<circle cx="401.8" cy="105.5" r="2.1" fill="#c3c3c3" fill-opacity="0.8"/>
<circle cx="367.8" cy="111.6" r="2.1" fill="#c3c3c3" fill-opacity="0.8"/>
<circle cx="359.7" cy="111.6" r="2.1" fill="#c3c3c3" fill-opacity="0.8"/>
<circle cx="391.3" cy="110.6" r="2.1" fill="#c3c3c3" fill-opacity="0.8"/>
<circle cx="362.7" cy="110.6" r="2.1" fill="#c3c3c3" fill-opacity="0.8"/>
<circle cx="349.7" cy="110.6" r="2.1" fill="#c3c3c3" fill-opacity="0.8"/>
<circle cx="390.0" cy="111.1" r="2.1" fill="#c3c3c3" fill-opacity="0.8"/>
<circle cx="370.3" cy="111.2" r="2.1" fill="#c3c3c3" fill-opacity="0.8"/>
<circle cx="389.0" cy="108.5" r="2.1" fill="#c3c3c3" fill-opacity="0.8"/>
<circle cx="370.4" cy="109.9" r="2.1" fill="#c3c3c3" fill-opacity="0.8"/>
<circle cx="360.0" cy="110.7" r="2.1" fill="#c3c3c3" fill-opacity="0.8"/>
<circle cx="366.1" cy="110.9" r="2.1" fill="#c3c3c3" fill-opacity="0.8"/>
<circle cx="367.9" cy="109.8" r="2.1" fill="#c3c3c3" fill-opacity="0.8"/>
<circle cx="382.5" cy="108.6" r="2.1" fill="#c3c3c3" fill-opacity="0.8"/>
<circle cx="403.9" cy="109.0" r="2.1" fill="#c3c3c3" fill-opacity="0.8"/>
<circle cx="370.2" cy="110.0" r="2.1" fill="#c3c3c3" fill-opacity="0.8"/>
<circle cx="333.1" cy="110.8" r="2.1" fill="#c3c3c3" fill-opacity="0.8"/>
<circle cx="359.9" cy="111.3" r="2.1" fill="#c3c3c3" fill-opacity="0.8"/>
<circle cx="327.4" cy="103.0" r="2.1" fill="#c3c3c3" fill-opacity="0.8"/>
<circle cx="390.0" cy="104.6" r="2.1" fill="#c3c3c3" fill-opacity="0.8"/>
<circle cx="334.6" cy="104.8" r="2.1" fill="#c3c3c3" fill-opacity="0.8"/>
<circle cx="379.1" cy="109.6" r="2.1" fill="#c3c3c3" fill-opacity="0.8"/>
<circle cx="406.1" cy="109.8" r="2.1" fill="#c3c3c3" fill-opacity="0.8"/>
<circle cx="404.8" cy="107.4" r="2.1" fill="#c3c3c3" fill-opacity="0.8"/>
<circle cx="363.9" cy="110.0" r="2.1" fill="#c3c3c3" fill-opacity="0.8"/>
<circle cx="335.2" cy="108.2" r="2.1" fill="#c3c3c3" fill-opacity="0.8"/>
<circle cx="366.4" cy="111.3" r="2.1" fill="#c3c3c3" fill-opacity="0.8"/>
<circle cx="349.0" cy="111.6" r="2.1" fill="#c3c3c3" fill-opacity="0.8"/>
<circle cx="369.8" cy="111.6" r="2.1" fill="#c3c3c3" fill-opacity="0.8"/>
<circle cx="350.2" cy="110.7" r="2.1" fill="#c3c3c3" fill-opacity="0.8"/>
<circle cx="326.7" cy="98.0" r="2.1" fill="#c3c3c3" fill-opacity="0.8"/>
<circle cx="390.4" cy="103.7" r="2.1" fill="#c3c3c3" fill-opacity="0.8"/>
<circle cx="330.2" cy="109.1" r="2.1" fill="#c3c3c3" fill-opacity="0.8"/>
<circle cx="324.5" cy="102.0" r="2.1" fill="#c3c3c3" fill-opacity="0.8"/>
<circle cx="344.8" cy="111.3" r="2.1" fill="#c3c3c3" fill-opacity="0.8"/>
<circle cx="358.2" cy="110.0" r="2.1" fill="#c3c3c3" fill-opacity="0.8"/>
<circle cx="343.8" cy="111.2" r="2.1" fill="#c3c3c3" fill-opacity="0.8"/>
<circle cx="401.9" cy="104.4" r="2.1" fill="#c3c3c3" fill-opacity="0.8"/>
<circle cx="382.6" cy="111.4" r="2.1" fill="#c3c3c3" fill-opacity="0.8"/>
<circle cx="326.1" cy="103.0" r="2.1" fill="#c3c3c3" fill-opacity="0.8"/>
<circle cx="358.4" cy="109.7" r="2.1" fill="#c3c3c3" fill-opacity="0.8"/>
<circle cx="376.8" cy="111.5" r="2.1" fill="#c3c3c3" fill-opacity="0.8"/>
<circle cx="396.3" cy="111.2" r="2.1" fill="#c3c3c3" fill-opacity="0.8"/>
<circle cx="396.9" cy="107.0" r="2.1" fill="#c3c3c3" fill-opacity="0.8"/>
<circle cx="350.8" cy="109.7" r="2.1" fill="#c3c3c3" fill-opacity="0.8"/>
<circle cx="344.6" cy="111.3" r="2.1" fill="#c3c3c3" fill-opacity="0.8"/>
<circle cx="367.4" cy="111.5" r="2.1" fill="#c3c3c3" fill-opacity="0.8"/>
<circle cx="335.2" cy="111.4" r="2.1" fill="#c3c3c3" fill-opacity="0.8"/>
<circle cx="338.8" cy="110.0" r="2.1" fill="#c3c3c3" fill-opacity="0.8"/>
<circle cx="347.8" cy="111.0" r="2.1" fill="#c3c3c3" fill-opacity="0.8"/>
<circle cx="365.0" cy="111.1" r="2.1" fill="#c3c3c3" fill-opacity="0.8"/>
<circle cx="322.6" cy="109.9" r="2.1" fill="#c3c3c3" fill-opacity="0.8"/>
<circle cx="322.4" cy="105.5" r="2.1" fill="#c3c3c3" fill-opacity="0.8"/>
<circle cx="369.5" cy="110.8" r="2.1" fill="#c3c3c3" fill-opacity="0.8"/>
<circle cx="403.2" cy="110.7" r="2.1" fill="#c3c3c3" fill-opacity="0.8"/>
<circle cx="393.1" cy="108.1" r="2.1" fill="#c3c3c3" fill-opacity="0.8"/>
<circle cx="364.6" cy="111.0" r="2.1" fill="#c3c3c3" fill-opacity="0.8"/>
<circle cx="365.6" cy="109.7" r="2.1" fill="#c3c3c3" fill-opacity="0.8"/>
<circle cx="351.2" cy="110.2" r="2.1" fill="#c3c3c3" fill-opacity="0.8"/>
<circle cx="377.0" cy="111.1" r="2.1" fill="#c3c3c3" fill-opacity="0.8"/>
<circle cx="325.8" cy="110.5" r="2.1" fill="#c3c3c3" fill-opacity="0.8"/>
<circle cx="327.2" cy="101.9" r="2.1" fill="#c3c3c3" fill-opacity="0.8"/>
<circle cx="343.5" cy="111.2" r="2.1" fill="#c3c3c3" fill-opacity="0.8"/>
<circle cx="328.4" cy="100.2" r="2.1" fill="#c3c3c3" fill-opacity="0.8"/>
<circle cx="397.6" cy="103.9" r="2.1" fill="#c3c3c3" fill-opacity="0.8"/>
<circle cx="345.8" cy="110.9" r="2.1" fill="#c3c3c3" fill-opacity="0.8"/>
<circle cx="361.4" cy="110.9" r="2.1" fill="#c3c3c3" fill-opacity="0.8"/>
<circle cx="344.2" cy="108.0" r="2.1" fill="#c3c3c3" fill-opacity="0.8"/>
<circle cx="406.6" cy="106.7" r="2.1" fill="#c3c3c3" fill-opacity="0.8"/>
<circle cx="342.5" cy="107.3" r="2.1" fill="#c3c3c3" fill-opacity="0.8"/>
<circle cx="348.2" cy="111.6" r="2.1" fill="#c3c3c3" fill-opacity="0.8"/>
<circle cx="354.6" cy="110.7" r="2.1" fill="#c3c3c3" fill-opacity="0.8"/>
<circle cx="338.7" cy="108.6" r="2.1" fill="#c3c3c3" fill-opacity="0.8"/>
<circle cx="321.4" cy="110.9" r="2.1" fill="#c3c3c3" fill-opacity="0.8"/>
<circle cx="328.9" cy="107.2" r="2.1" fill="#c3c3c3" fill-opacity="0.8"/>
<circle cx="324.7" cy="111.5" r="2.1" fill="#c3c3c3" fill-opacity="0.8"/>
<circle cx="347.8" cy="110.2" r="2.1" fill="#c3c3c3" fill-opacity="0.8"/>
<circle cx="367.6" cy="110.4" r="2.1" fill="#c3c3c3" fill-opacity="0.8"/>
<circle cx="384.0" cy="108.2" r="2.1" fill="#c3c3c3" fill-opacity="0.8"/>
<circle cx="355.3" cy="109.6" r="2.1" fill="#c3c3c3" fill-opacity="0.8"/>
<circle cx="334.2" cy="104.5" r="2.1" fill="#c3c3c3" fill-opacity="0.8"/>
<circle cx="377.6" cy="110.1" r="2.1" fill="#c3c3c3" fill-opacity="0.8"/>
<circle cx="399.5" cy="104.1" r="2.1" fill="#c3c3c3" fill-opacity="0.8"/>
<circle cx="385.6" cy="107.9" r="2.1" fill="#c3c3c3" fill-opacity="0.8"/>
<circle cx="333.3" cy="106.5" r="2.1" fill="#c3c3c3" fill-opacity="0.8"/>
<circle cx="365.4" cy="110.1" r="2.1" fill="#c3c3c3" fill-opacity="0.8"/>
<circle cx="393.7" cy="106.3" r="2.1" fill="#c3c3c3" fill-opacity="0.8"/>
<circle cx="399.6" cy="103.2" r="2.1" fill="#c3c3c3" fill-opacity="0.8"/>
<circle cx="382.0" cy="111.1" r="2.1" fill="#c3c3c3" fill-opacity="0.8"/>
<circle cx="323.7" cy="110.7" r="2.1" fill="#c3c3c3" fill-opacity="0.8"/>
<circle cx="352.7" cy="109.9" r="2.1" fill="#c3c3c3" fill-opacity="0.8"/>
<circle cx="370.2" cy="110.5" r="2.1" fill="#c3c3c3" fill-opacity="0.8"/>
<circle cx="380.9" cy="110.4" r="2.1" fill="#c3c3c3" fill-opacity="0.8"/>
<circle cx="321.3" cy="109.5" r="2.1" fill="#c3c3c3" fill-opacity="0.8"/>
<circle cx="386.8" cy="109.2" r="2.1" fill="#c3c3c3" fill-opacity="0.8"/>
<circle cx="368.1" cy="111.5" r="2.1" fill="#c3c3c3" fill-opacity="0.8"/>
<circle cx="385.8" cy="110.7" r="2.1" fill="#c3c3c3" fill-opacity="0.8"/>
<circle cx="327.6" cy="108.9" r="2.1" fill="#c3c3c3" fill-opacity="0.8"/>
<circle cx="385.2" cy="111.0" r="2.1" fill="#c3c3c3" fill-opacity="0.8"/>
<circle cx="386.1" cy="106.6" r="2.1" fill="#c3c3c3" fill-opacity="0.8"/>
<circle cx="364.5" cy="110.8" r="2.1" fill="#c3c3c3" fill-opacity="0.8"/>
<circle cx="381.2" cy="109.4" r="2.1" fill="#c3c3c3" fill-opacity="0.8"/>
<circle cx="375.3" cy="111.5" r="2.1" fill="#c3c3c3" fill-opacity="0.8"/>
<circle cx="334.0" cy="109.6" r="2.1" fill="#c3c3c3" fill-opacity="0.8"/>
<circle cx="386.4" cy="110.4" r="2.1" fill="#c3c3c3" fill-opacity="0.8"/>
<circle cx="371.0" cy="111.5" r="2.1" fill="#c3c3c3" fill-opacity="0.8"/>
<circle cx="344.7" cy="109.4" r="2.1" fill="#c3c3c3" fill-opacity="0.8"/>
<circle cx="381.9" cy="109.6" r="2.1" fill="#c3c3c3" fill-opacity="0.8"/>
<circle cx="346.6" cy="110.4" r="2.1" fill="#c3c3c3" fill-opacity="0.8"/>
<circle cx="362.0" cy="109.9" r="2.1" fill="#c3c3c3" fill-opacity="0.8"/>
<circle cx="338.5" cy="104.6" r="2.1" fill="#c3c3c3" fill-opacity="0.8"/>
<circle cx="403.4" cy="111.5" r="2.1" fill="#c3c3c3" fill-opacity="0.8"/>
<circle cx="361.4" cy="109.7" r="2.1" fill="#c3c3c3" fill-opacity="0.8"/>
<circle cx="360.6" cy="111.3" r="2.1" fill="#c3c3c3" fill-opacity="0.8"/>
<circle cx="404.2" cy="109.6" r="2.1" fill="#c3c3c3" fill-opacity="0.8"/>
<circle cx="372.2" cy="110.7" r="2.1" fill="#c3c3c3" fill-opacity="0.8"/>
<circle cx="404.8" cy="110.5" r="2.1" fill="#c3c3c3" fill-opacity="0.8"/>
<circle cx="393.2" cy="107.3" r="2.1" fill="#c3c3c3" fill-opacity="0.8"/>
<circle cx="399.0" cy="103.0" r="2.1" fill="#c3c3c3" fill-opacity="0.8"/>
<circle cx="341.4" cy="107.0" r="2.1" fill="#c3c3c3" fill-opacity="0.8"/>
<circle cx="363.8" cy="111.6" r="2.1" fill="#c3c3c3" fill-opacity="0.8"/>
<circle cx="364.3" cy="111.2" r="2.1" fill="#c3c3c3" fill-opacity="0.8"/>
<circle cx="333.4" cy="108.6" r="2.1" fill="#c3c3c3" fill-opacity="0.8"/>
<circle cx="348.8" cy="111.6" r="2.1" fill="#c3c3c3" fill-opacity="0.8"/>
<circle cx="387.1" cy="106.9" r="2.1" fill="#c3c3c3" fill-opacity="0.8"/>
<circle cx="331.6" cy="100.3" r="2.1" fill="#c3c3c3" fill-opacity="0.8"/>
<circle cx="383.7" cy="108.1" r="2.1" fill="#c3c3c3" fill-opacity="0.8"/>
<circle cx="346.5" cy="110.6" r="2.1" fill="#c3c3c3" fill-opacity="0.8"/>
<circle cx="408.9" cy="111.1" r="2.1" fill="#c3c3c3" fill-opacity="0.8"/>
<circle cx="352.7" cy="111.2" r="2.1" fill="#c3c3c3" fill-opacity="0.8"/>
<circle cx="325.2" cy="110.8" r="2.1" fill="#c3c3c3" fill-opacity="0.8"/>
<circle cx="394.5" cy="109.3" r="2.1" fill="#c3c3c3" fill-opacity="0.8"/>
<circle cx="403.3" cy="109.0" r="2.1" fill="#c3c3c3" fill-opacity="0.8"/>
<circle cx="344.4" cy="110.0" r="2.1" fill="#c3c3c3" fill-opacity="0.8"/>
<circle cx="337.7" cy="109.3" r="2.1" fill="#c3c3c3" fill-opacity="0.8"/>
<circle cx="405.1" cy="100.4" r="2.1" fill="#c3c3c3" fill-opacity="0.8"/>
<circle cx="392.5" cy="106.2" r="2.1" fill="#c3c3c3" fill-opacity="0.8"/>
<circle cx="401.4" cy="98.4" r="2.1" fill="#c3c3c3" fill-opacity="0.8"/>
<circle cx="369.3" cy="111.6" r="2.1" fill="#c3c3c3" fill-opacity="0.8"/>
<circle cx="385.4" cy="109.9" r="2.1" fill="#c3c3c3" fill-opacity="0.8"/>
<circle cx="387.2" cy="108.1" r="2.1" fill="#c3c3c3" fill-opacity="0.8"/>
<circle cx="346.2" cy="108.7" r="2.1" fill="#c3c3c3" fill-opacity="0.8"/>
<circle cx="332.2" cy="106.9" r="2.1" fill="#c3c3c3" fill-opacity="0.8"/>
<circle cx="351.2" cy="110.2" r="2.1" fill="#c3c3c3" fill-opacity="0.8"/>
<circle cx="406.9" cy="109.9" r="2.1" fill="#c3c3c3" fill-opacity="0.8"/>
<circle cx="378.7" cy="110.6" r="2.1" fill="#c3c3c3" fill-opacity="0.8"/>
<circle cx="355.7" cy="111.4" r="2.1" fill="#c3c3c3" fill-opacity="0.8"/>
<circle cx="339.3" cy="105.7" r="2.1" fill="#c3c3c3" fill-opacity="0.8"/>
<circle cx="364.7" cy="109.8" r="2.1" fill="#c3c3c3" fill-opacity="0.8"/>
<circle cx="408.7" cy="110.9" r="2.1" fill="#c3c3c3" fill-opacity="0.8"/>
<circle cx="333.3" cy="110.2" r="2.1" fill="#c3c3c3" fill-opacity="0.8"/>
<circle cx="329.0" cy="108.0" r="2.1" fill="#c3c3c3" fill-opacity="0.8"/>
<circle cx="329.0" cy="109.3" r="2.1" fill="#c3c3c3" fill-opacity="0.8"/>
<circle cx="343.7" cy="109.7" r="2.1" fill="#c3c3c3" fill-opacity="0.8"/>
<circle cx="399.1" cy="102.3" r="2.1" fill="#c3c3c3" fill-opacity="0.8"/>
<circle cx="357.3" cy="110.7" r="2.1" fill="#c3c3c3" fill-opacity="0.8"/>
<circle cx="354.2" cy="111.5" r="2.1" fill="#c3c3c3" fill-opacity="0.8"/>
<circle cx="345.4" cy="111.3" r="2.1" fill="#c3c3c3" fill-opacity="0.8"/>
<circle cx="365.3" cy="109.9" r="2.1" fill="#c3c3c3" fill-opacity="0.8"/>
<circle cx="340.0" cy="110.4" r="2.1" fill="#c3c3c3" fill-opacity="0.8"/>
<circle cx="342.9" cy="110.3" r="2.1" fill="#c3c3c3" fill-opacity="0.8"/>
<circle cx="360.2" cy="109.9" r="2.1" fill="#c3c3c3" fill-opacity="0.8"/>
<circle cx="397.8" cy="111.5" r="2.1" fill="#c3c3c3" fill-opacity="0.8"/>
<circle cx="323.8" cy="103.9" r="2.1" fill="#c3c3c3" fill-opacity="0.8"/>
<circle cx="399.8" cy="106.3" r="2.1" fill="#c3c3c3" fill-opacity="0.8"/>
<circle cx="372.7" cy="111.0" r="2.1" fill="#c3c3c3" fill-opacity="0.8"/>
<circle cx="402.6" cy="100.0" r="2.1" fill="#c3c3c3" fill-opacity="0.8"/>
<circle cx="396.3" cy="100.1" r="2.1" fill="#c3c3c3" fill-opacity="0.8"/>
<circle cx="342.9" cy="111.3" r="2.1" fill="#c3c3c3" fill-opacity="0.8"/>
<circle cx="334.6" cy="107.0" r="2.1" fill="#c3c3c3" fill-opacity="0.8"/>
<circle cx="381.0" cy="108.8" r="2.1" fill="#c3c3c3" fill-opacity="0.8"/>
<circle cx="384.5" cy="109.1" r="2.1" fill="#c3c3c3" fill-opacity="0.8"/>
<circle cx="388.3" cy="109.1" r="2.1" fill="#c3c3c3" fill-opacity="0.8"/>
<circle cx="369.5" cy="110.2" r="2.1" fill="#c3c3c3" fill-opacity="0.8"/>
<circle cx="341.5" cy="106.9" r="2.1" fill="#c3c3c3" fill-opacity="0.8"/>
<circle cx="377.8" cy="111.5" r="2.1" fill="#c3c3c3" fill-opacity="0.8"/>
<circle cx="343.2" cy="109.3" r="2.1" fill="#c3c3c3" fill-opacity="0.8"/>
<circle cx="382.5" cy="111.4" r="2.1" fill="#c3c3c3" fill-opacity="0.8"/>
<circle cx="327.2" cy="105.3" r="2.1" fill="#c3c3c3" fill-opacity="0.8"/>
<circle cx="372.3" cy="111.3" r="2.1" fill="#c3c3c3" fill-opacity="0.8"/>
<circle cx="373.9" cy="111.2" r="2.1" fill="#c3c3c3" fill-opacity="0.8"/>
<circle cx="361.5" cy="110.4" r="2.1" fill="#c3c3c3" fill-opacity="0.8"/>
<circle cx="398.8" cy="106.4" r="2.1" fill="#c3c3c3" fill-opacity="0.8"/>
<circle cx="341.7" cy="110.7" r="2.1" fill="#c3c3c3" fill-opacity="0.8"/>
<circle cx="405.5" cy="103.3" r="2.1" fill="#c3c3c3" fill-opacity="0.8"/>
<circle cx="348.1" cy="110.5" r="2.1" fill="#c3c3c3" fill-opacity="0.8"/>
<circle cx="380.4" cy="110.7" r="2.1" fill="#c3c3c3" fill-opacity="0.8"/>
<circle cx="343.6" cy="109.2" r="2.1" fill="#c3c3c3" fill-opacity="0.8"/>
<circle cx="402.4" cy="109.3" r="2.1" fill="#c3c3c3" fill-opacity="0.8"/>
<circle cx="324.0" cy="108.5" r="2.1" fill="#c3c3c3" fill-opacity="0.8"/>
<circle cx="358.0" cy="111.3" r="2.1" fill="#c3c3c3" fill-opacity="0.8"/>
<circle cx="391.1" cy="105.6" r="2.1" fill="#c3c3c3" fill-opacity="0.8"/>
<circle cx="365.4" cy="109.7" r="2.1" fill="#c3c3c3" fill-opacity="0.8"/>
<circle cx="348.4" cy="111.2" r="2.1" fill="#c3c3c3" fill-opacity="0.8"/>
<circle cx="340.5" cy="107.4" r="2.1" fill="#c3c3c3" fill-opacity="0.8"/>
<circle cx="347.0" cy="110.4" r="2.1" fill="#c3c3c3" fill-opacity="0.8"/>
<circle cx="337.5" cy="110.4" r="2.1" fill="#c3c3c3" fill-opacity="0.8"/>
<circle cx="357.7" cy="109.7" r="2.1" fill="#c3c3c3" fill-opacity="0.8"/>
<circle cx="333.9" cy="108.2" r="2.1" fill="#c3c3c3" fill-opacity="0.8"/>
<circle cx="339.7" cy="105.4" r="2.1" fill="#c3c3c3" fill-opacity="0.8"/>
<circle cx="333.5" cy="111.3" r="2.1" fill="#c3c3c3" fill-opacity="0.8"/>
<circle cx="326.3" cy="107.3" r="2.1" fill="#c3c3c3" fill-opacity="0.8"/>
<circle cx="400.0" cy="99.9" r="2.1" fill="#c3c3c3" fill-opacity="0.8"/>
<circle cx="385.5" cy="106.9" r="2.1" fill="#c3c3c3" fill-opacity="0.8"/>
<circle cx="403.0" cy="107.9" r="2.1" fill="#c3c3c3" fill-opacity="0.8"/>
<circle cx="337.3" cy="104.1" r="2.1" fill="#c3c3c3" fill-opacity="0.8"/>
<circle cx="386.7" cy="111.5" r="2.1" fill="#c3c3c3" fill-opacity="0.8"/>
<circle cx="379.5" cy="110.9" r="2.1" fill="#c3c3c3" fill-opacity="0.8"/>
<circle cx="350.2" cy="111.6" r="2.1" fill="#c3c3c3" fill-opacity="0.8"/>
<circle cx="345.6" cy="108.4" r="2.1" fill="#c3c3c3" fill-opacity="0.8"/>
<circle cx="331.9" cy="99.9" r="2.1" fill="#c3c3c3" fill-opacity="0.8"/>
<circle cx="339.3" cy="109.7" r="2.1" fill="#c3c3c3" fill-opacity="0.8"/>
<circle cx="393.3" cy="103.6" r="2.1" fill="#c3c3c3" fill-opacity="0.8"/>
<circle cx="359.1" cy="110.8" r="2.1" fill="#c3c3c3" fill-opacity="0.8"/>
<circle cx="353.8" cy="111.3" r="2.1" fill="#c3c3c3" fill-opacity="0.8"/>
<circle cx="353.1" cy="111.6" r="2.1" fill="#c3c3c3" fill-opacity="0.8"/>
<circle cx="357.2" cy="110.1" r="2.1" fill="#c3c3c3" fill-opacity="0.8"/>
<circle cx="324.6" cy="111.4" r="2.1" fill="#c3c3c3" fill-opacity="0.8"/>
<circle cx="326.5" cy="99.1" r="2.1" fill="#c3c3c3" fill-opacity="0.8"/>
<circle cx="343.6" cy="108.9" r="2.1" fill="#c3c3c3" fill-opacity="0.8"/>
<circle cx="400.1" cy="108.0" r="2.1" fill="#c3c3c3" fill-opacity="0.8"/>
<circle cx="345.0" cy="108.2" r="2.1" fill="#c3c3c3" fill-opacity="0.8"/>
<circle cx="375.3" cy="110.3" r="2.1" fill="#c3c3c3" fill-opacity="0.8"/>
<circle cx="348.9" cy="111.6" r="2.1" fill="#c3c3c3" fill-opacity="0.8"/>
<circle cx="387.5" cy="106.1" r="2.1" fill="#c3c3c3" fill-opacity="0.8"/>
<circle cx="376.8" cy="111.6" r="2.1" fill="#c3c3c3" fill-opacity="0.8"/>
<circle cx="341.6" cy="109.6" r="2.1" fill="#c3c3c3" fill-opacity="0.8"/>
<circle cx="405.2" cy="99.3" r="2.1" fill="#c3c3c3" fill-opacity="0.8"/>
<circle cx="355.0" cy="110.9" r="2.1" fill="#c3c3c3" fill-opacity="0.8"/>
<circle cx="364.4" cy="111.4" r="2.1" fill="#c3c3c3" fill-opacity="0.8"/>
<circle cx="391.6" cy="105.3" r="2.1" fill="#c3c3c3" fill-opacity="0.8"/>
<circle cx="393.4" cy="104.2" r="2.1" fill="#c3c3c3" fill-opacity="0.8"/>
<circle cx="374.4" cy="111.1" r="2.1" fill="#c3c3c3" fill-opacity="0.8"/>
<circle cx="352.8" cy="111.5" r="2.1" fill="#c3c3c3" fill-opacity="0.8"/>
<circle cx="338.4" cy="106.4" r="2.1" fill="#c3c3c3" fill-opacity="0.8"/>
<circle cx="342.8" cy="111.5" r="2.1" fill="#c3c3c3" fill-opacity="0.8"/>
<circle cx="324.0" cy="105.8" r="2.1" fill="#c3c3c3" fill-opacity="0.8"/>
<circle cx="349.7" cy="109.7" r="2.1" fill="#c3c3c3" fill-opacity="0.8"/>
<circle cx="407.9" cy="110.5" r="2.1" fill="#c3c3c3" fill-opacity="0.8"/>
<circle cx="328.4" cy="110.8" r="2.1" fill="#c3c3c3" fill-opacity="0.8"/>
<circle cx="364.9" cy="110.9" r="2.1" fill="#c3c3c3" fill-opacity="0.8"/>
<circle cx="341.6" cy="109.9" r="2.1" fill="#c3c3c3" fill-opacity="0.8"/>
<circle cx="375.6" cy="110.3" r="2.1" fill="#c3c3c3" fill-opacity="0.8"/>
<circle cx="395.5" cy="104.7" r="2.1" fill="#c3c3c3" fill-opacity="0.8"/>
<circle cx="331.7" cy="101.7" r="2.1" fill="#c3c3c3" fill-opacity="0.8"/>
<circle cx="346.9" cy="110.7" r="2.1" fill="#c3c3c3" fill-opacity="0.8"/>
<circle cx="385.9" cy="110.9" r="2.1" fill="#c3c3c3" fill-opacity="0.8"/>
<circle cx="342.8" cy="110.9" r="2.1" fill="#c3c3c3" fill-opacity="0.8"/>
<circle cx="334.5" cy="102.7" r="2.1" fill="#c3c3c3" fill-opacity="0.8"/>
<circle cx="371.9" cy="111.0" r="2.1" fill="#c3c3c3" fill-opacity="0.8"/>
<circle cx="408.3" cy="110.0" r="2.1" fill="#c3c3c3" fill-opacity="0.8"/>
<circle cx="341.4" cy="107.6" r="2.1" fill="#c3c3c3" fill-opacity="0.8"/>
<circle cx="378.5" cy="111.5" r="2.1" fill="#c3c3c3" fill-opacity="0.8"/>
<circle cx="362.8" cy="110.0" r="2.1" fill="#c3c3c3" fill-opacity="0.8"/>
<circle cx="401.5" cy="111.3" r="2.1" fill="#c3c3c3" fill-opacity="0.8"/>
<circle cx="346.8" cy="111.2" r="2.1" fill="#c3c3c3" fill-opacity="0.8"/>
<circle cx="406.6" cy="106.4" r="2.1" fill="#c3c3c3" fill-opacity="0.8"/>
<circle cx="402.9" cy="107.3" r="2.1" fill="#c3c3c3" fill-opacity="0.8"/>
<circle cx="397.2" cy="107.0" r="2.1" fill="#c3c3c3" fill-opacity="0.8"/>
<circle cx="343.9" cy="108.8" r="2.1" fill="#c3c3c3" fill-opacity="0.8"/>
<circle cx="404.2" cy="110.8" r="2.1" fill="#c3c3c3" fill-opacity="0.8"/>
<circle cx="373.5" cy="111.3" r="2.1" fill="#c3c3c3" fill-opacity="0.8"/>
<circle cx="353.4" cy="111.3" r="2.1" fill="#c3c3c3" fill-opacity="0.8"/>
<circle cx="343.4" cy="109.5" r="2.1" fill="#c3c3c3" fill-opacity="0.8"/>
<circle cx="378.3" cy="111.6" r="2.1" fill="#c3c3c3" fill-opacity="0.8"/>
<circle cx="349.8" cy="111.3" r="2.1" fill="#c3c3c3" fill-opacity="0.8"/>
<circle cx="348.5" cy="109.7" r="2.1" fill="#c3c3c3" fill-opacity="0.8"/>
<circle cx="369.2" cy="111.5" r="2.1" fill="#c3c3c3" fill-opacity="0.8"/>
<circle cx="355.8" cy="110.4" r="2.1" fill="#c3c3c3" fill-opacity="0.8"/>
<circle cx="329.0" cy="110.2" r="2.1" fill="#c3c3c3" fill-opacity="0.8"/>
<circle cx="382.2" cy="110.5" r="2.1" fill="#c3c3c3" fill-opacity="0.8"/>
<circle cx="345.9" cy="108.5" r="2.1" fill="#c3c3c3" fill-opacity="0.8"/>
<circle cx="348.5" cy="110.9" r="2.1" fill="#c3c3c3" fill-opacity="0.8"/>
<circle cx="357.6" cy="109.6" r="2.1" fill="#c3c3c3" fill-opacity="0.8"/>
<circle cx="353.0" cy="110.2" r="2.1" fill="#c3c3c3" fill-opacity="0.8"/>
<circle cx="338.9" cy="111.6" r="2.1" fill="#c3c3c3" fill-opacity="0.8"/>
<circle cx="400.3" cy="106.9" r="2.1" fill="#c3c3c3" fill-opacity="0.8"/>
<circle cx="393.2" cy="108.3" r="2.1" fill="#c3c3c3" fill-opacity="0.8"/>
<circle cx="398.7" cy="106.6" r="2.1" fill="#c3c3c3" fill-opacity="0.8"/>
<circle cx="335.3" cy="111.5" r="2.1" fill="#c3c3c3" fill-opacity="0.8"/>
<circle cx="369.5" cy="109.9" r="2.1" fill="#c3c3c3" fill-opacity="0.8"/>
<circle cx="328.8" cy="103.9" r="2.1" fill="#c3c3c3" fill-opacity="0.8"/>
<circle cx="353.6" cy="111.4" r="2.1" fill="#c3c3c3" fill-opacity="0.8"/>
<circle cx="345.9" cy="108.6" r="2.1" fill="#c3c3c3" fill-opacity="0.8"/>
<circle cx="330.6" cy="106.3" r="2.1" fill="#c3c3c3" fill-opacity="0.8"/>
<circle cx="391.8" cy="102.7" r="2.1" fill="#c3c3c3" fill-opacity="0.8"/>
<circle cx="338.4" cy="111.0" r="2.1" fill="#c3c3c3" fill-opacity="0.8"/>
<circle cx="404.0" cy="98.0" r="2.1" fill="#c3c3c3" fill-opacity="0.8"/>
<circle cx="363.5" cy="109.8" r="2.1" fill="#c3c3c3" fill-opacity="0.8"/>
<circle cx="355.1" cy="110.5" r="2.1" fill="#c3c3c3" fill-opacity="0.8"/>
<circle cx="393.6" cy="110.6" r="2.1" fill="#c3c3c3" fill-opacity="0.8"/>
<circle cx="390.2" cy="110.4" r="2.1" fill="#c3c3c3" fill-opacity="0.8"/>
<circle cx="356.6" cy="110.0" r="2.1" fill="#c3c3c3" fill-opacity="0.8"/>
<circle cx="337.1" cy="110.4" r="2.1" fill="#c3c3c3" fill-opacity="0.8"/>
<circle cx="356.2" cy="111.0" r="2.1" fill="#c3c3c3" fill-opacity="0.8"/>
<circle cx="331.8" cy="109.5" r="2.1" fill="#c3c3c3" fill-opacity="0.8"/>
<circle cx="384.8" cy="107.8" r="2.1" fill="#c3c3c3" fill-opacity="0.8"/>
<circle cx="324.6" cy="105.2" r="2.1" fill="#c3c3c3" fill-opacity="0.8"/>
<circle cx="387.7" cy="111.5" r="2.1" fill="#c3c3c3" fill-opacity="0.8"/>
<circle cx="394.8" cy="110.8" r="2.1" fill="#c3c3c3" fill-opacity="0.8"/>
<circle cx="373.8" cy="110.5" r="2.1" fill="#c3c3c3" fill-opacity="0.8"/>
<circle cx="347.9" cy="110.2" r="2.1" fill="#c3c3c3" fill-opacity="0.8"/>
<circle cx="358.5" cy="110.9" r="2.1" fill="#c3c3c3" fill-opacity="0.8"/>
<circle cx="359.6" cy="110.5" r="2.1" fill="#c3c3c3" fill-opacity="0.8"/>
<circle cx="364.1" cy="110.2" r="2.1" fill="#c3c3c3" fill-opacity="0.8"/>
<circle cx="389.6" cy="108.7" r="2.1" fill="#c3c3c3" fill-opacity="0.8"/>
<circle cx="336.8" cy="108.2" r="2.1" fill="#c3c3c3" fill-opacity="0.8"/>
<circle cx="330.4" cy="110.6" r="2.1" fill="#c3c3c3" fill-opacity="0.8"/>
<circle cx="358.9" cy="110.9" r="2.1" fill="#c3c3c3" fill-opacity="0.8"/>
<circle cx="365.9" cy="110.5" r="2.1" fill="#c3c3c3" fill-opacity="0.8"/>
<circle cx="328.2" cy="101.9" r="2.1" fill="#c3c3c3" fill-opacity="0.8"/>
<circle cx="389.4" cy="108.3" r="2.1" fill="#c3c3c3" fill-opacity="0.8"/>
<circle cx="325.8" cy="105.8" r="2.1" fill="#c3c3c3" fill-opacity="0.8"/>
<circle cx="354.3" cy="111.4" r="2.1" fill="#c3c3c3" fill-opacity="0.8"/>
<circle cx="396.4" cy="99.7" r="2.1" fill="#c3c3c3" fill-opacity="0.8"/>
<circle cx="385.4" cy="108.0" r="2.1" fill="#c3c3c3" fill-opacity="0.8"/>
<circle cx="338.0" cy="104.2" r="2.1" fill="#c3c3c3" fill-opacity="0.8"/>
<circle cx="364.3" cy="109.8" r="2.1" fill="#c3c3c3" fill-opacity="0.8"/>
<circle cx="335.5" cy="104.5" r="2.1" fill="#c3c3c3" fill-opacity="0.8"/>
<circle cx="402.9" cy="111.1" r="2.1" fill="#c3c3c3" fill-opacity="0.8"/>
<circle cx="351.9" cy="111.4" r="2.1" fill="#c3c3c3" fill-opacity="0.8"/>
<circle cx="399.9" cy="108.9" r="2.1" fill="#c3c3c3" fill-opacity="0.8"/>
<circle cx="392.8" cy="110.7" r="2.1" fill="#c3c3c3" fill-opacity="0.8"/>
<circle cx="365.2" cy="111.3" r="2.1" fill="#c3c3c3" fill-opacity="0.8"/>
<circle cx="344.1" cy="110.0" r="2.1" fill="#c3c3c3" fill-opacity="0.8"/>
<circle cx="349.1" cy="111.3" r="2.1" fill="#c3c3c3" fill-opacity="0.8"/>
<circle cx="335.2" cy="102.5" r="2.1" fill="#c3c3c3" fill-opacity="0.8"/>
<circle cx="380.8" cy="109.1" r="2.1" fill="#c3c3c3" fill-opacity="0.8"/>
<circle cx="335.8" cy="104.7" r="2.1" fill="#c3c3c3" fill-opacity="0.8"/>
<circle cx="331.1" cy="105.9" r="2.1" fill="#c3c3c3" fill-opacity="0.8"/>
<circle cx="377.0" cy="110.0" r="2.1" fill="#c3c3c3" fill-opacity="0.8"/>
<circle cx="369.9" cy="109.9" r="2.1" fill="#c3c3c3" fill-opacity="0.8"/>
<circle cx="330.2" cy="98.6" r="2.1" fill="#c3c3c3" fill-opacity="0.8"/>
<circle cx="376.4" cy="110.2" r="2.1" fill="#c3c3c3" fill-opacity="0.8"/>
<circle cx="344.3" cy="107.9" r="2.1" fill="#c3c3c3" fill-opacity="0.8"/>
<circle cx="371.8" cy="110.2" r="2.1" fill="#c3c3c3" fill-opacity="0.8"/>
<circle cx="359.9" cy="110.2" r="2.1" fill="#c3c3c3" fill-opacity="0.8"/>
<circle cx="325.2" cy="101.2" r="2.1" fill="#c3c3c3" fill-opacity="0.8"/>
<circle cx="343.3" cy="109.3" r="2.1" fill="#c3c3c3" fill-opacity="0.8"/>
<circle cx="407.6" cy="108.1" r="2.1" fill="#c3c3c3" fill-opacity="0.8"/>
<circle cx="379.4" cy="111.6" r="2.1" fill="#c3c3c3" fill-opacity="0.8"/>
<circle cx="324.0" cy="110.5" r="2.1" fill="#c3c3c3" fill-opacity="0.8"/>
<circle cx="375.2" cy="110.8" r="2.1" fill="#c3c3c3" fill-opacity="0.8"/>
<circle cx="399.8" cy="110.5" r="2.1" fill="#c3c3c3" fill-opacity="0.8"/>
<circle cx="341.0" cy="108.4" r="2.1" fill="#c3c3c3" fill-opacity="0.8"/>
<circle cx="323.0" cy="111.6" r="2.1" fill="#c3c3c3" fill-opacity="0.8"/>
<circle cx="352.2" cy="111.0" r="2.1" fill="#c3c3c3" fill-opacity="0.8"/>
<circle cx="340.7" cy="108.7" r="2.1" fill="#c3c3c3" fill-opacity="0.8"/>
<circle cx="372.8" cy="110.5" r="2.1" fill="#c3c3c3" fill-opacity="0.8"/>
<circle cx="362.8" cy="109.7" r="2.1" fill="#c3c3c3" fill-opacity="0.8"/>
<circle cx="342.4" cy="111.2" r="2.1" fill="#c3c3c3" fill-opacity="0.8"/>
<circle cx="329.4" cy="103.8" r="2.1" fill="#c3c3c3" fill-opacity="0.8"/>
<circle cx="397.7" cy="102.3" r="2.1" fill="#c3c3c3" fill-opacity="0.8"/>
<circle cx="356.4" cy="111.6" r="2.1" fill="#c3c3c3" fill-opacity="0.8"/>
<circle cx="377.8" cy="111.1" r="2.1" fill="#c3c3c3" fill-opacity="0.8"/>
<circle cx="377.8" cy="109.8" r="2.1" fill="#c3c3c3" fill-opacity="0.8"/>
<circle cx="385.5" cy="110.8" r="2.1" fill="#c3c3c3" fill-opacity="0.8"/>
<circle cx="400.5" cy="111.3" r="2.1" fill="#c3c3c3" fill-opacity="0.8"/>
<circle cx="367.8" cy="111.3" r="2.1" fill="#c3c3c3" fill-opacity="0.8"/>
<circle cx="326.1" cy="101.6" r="2.1" fill="#c3c3c3" fill-opacity="0.8"/>
<circle cx="322.1" cy="107.5" r="2.1" fill="#c3c3c3" fill-opacity="0.8"/>
<circle cx="403.8" cy="110.4" r="2.1" fill="#c3c3c3" fill-opacity="0.8"/>
<circle cx="338.6" cy="107.7" r="2.1" fill="#c3c3c3" fill-opacity="0.8"/>
<circle cx="365.6" cy="110.1" r="2.1" fill="#c3c3c3" fill-opacity="0.8"/>
<circle cx="336.4" cy="109.5" r="2.1" fill="#c3c3c3" fill-opacity="0.8"/>
<circle cx="347.4" cy="109.2" r="2.1" fill="#c3c3c3" fill-opacity="0.8"/>
<circle cx="389.9" cy="106.4" r="2.1" fill="#c3c3c3" fill-opacity="0.8"/>
<circle cx="321.6" cy="107.7" r="2.1" fill="#c3c3c3" fill-opacity="0.8"/>
<circle cx="386.6" cy="109.5" r="2.1" fill="#c3c3c3" fill-opacity="0.8"/>
<circle cx="386.3" cy="109.6" r="2.1" fill="#c3c3c3" fill-opacity="0.8"/>
<circle cx="340.9" cy="111.3" r="2.1" fill="#c3c3c3" fill-opacity="0.8"/>
<circle cx="341.4" cy="111.5" r="2.1" fill="#c3c3c3" fill-opacity="0.8"/>
<circle cx="350.5" cy="110.3" r="2.1" fill="#c3c3c3" fill-opacity="0.8"/>
<circle cx="395.4" cy="104.2" r="2.1" fill="#c3c3c3" fill-opacity="0.8"/>
<circle cx="344.4" cy="109.8" r="2.1" fill="#c3c3c3" fill-opacity="0.8"/>
<circle cx="359.4" cy="110.7" r="2.1" fill="#c3c3c3" fill-opacity="0.8"/>
<circle cx="344.3" cy="109.5" r="2.1" fill="#c3c3c3" fill-opacity="0.8"/>
<circle cx="405.9" cy="109.8" r="2.1" fill="#c3c3c3" fill-opacity="0.8"/>
<circle cx="398.4" cy="111.5" r="2.1" fill="#c3c3c3" fill-opacity="0.8"/>
<circle cx="343.9" cy="111.0" r="2.1" fill="#c3c3c3" fill-opacity="0.8"/>
<circle cx="386.5" cy="106.5" r="2.1" fill="#c3c3c3" fill-opacity="0.8"/>
<circle cx="386.7" cy="110.2" r="2.1" fill="#c3c3c3" fill-opacity="0.8"/>
<circle cx="398.5" cy="108.3" r="2.1" fill="#c3c3c3" fill-opacity="0.8"/>
<circle cx="342.0" cy="107.4" r="2.1" fill="#c3c3c3" fill-opacity="0.8"/>
<circle cx="376.5" cy="110.5" r="2.1" fill="#c3c3c3" fill-opacity="0.8"/>
<circle cx="407.2" cy="108.3" r="2.1" fill="#c3c3c3" fill-opacity="0.8"/>
<circle cx="394.9" cy="104.5" r="2.1" fill="#c3c3c3" fill-opacity="0.8"/>
<circle cx="396.5" cy="107.3" r="2.1" fill="#c3c3c3" fill-opacity="0.8"/>
<circle cx="384.8" cy="109.5" r="2.1" fill="#c3c3c3" fill-opacity="0.8"/>
<circle cx="348.1" cy="110.1" r="2.1" fill="#c3c3c3" fill-opacity="0.8"/>
<circle cx="327.8" cy="98.8" r="2.1" fill="#c3c3c3" fill-opacity="0.8"/>
<circle cx="333.7" cy="111.5" r="2.1" fill="#c3c3c3" fill-opacity="0.8"/>
<circle cx="330.4" cy="99.7" r="2.1" fill="#c3c3c3" fill-opacity="0.8"/>
<circle cx="351.3" cy="111.6" r="2.1" fill="#c3c3c3" fill-opacity="0.8"/>
<circle cx="324.7" cy="103.3" r="2.1" fill="#c3c3c3" fill-opacity="0.8"/>
<circle cx="376.8" cy="110.3" r="2.1" fill="#c3c3c3" fill-opacity="0.8"/>
<circle cx="326.8" cy="104.4" r="2.1" fill="#c3c3c3" fill-opacity="0.8"/>
<circle cx="353.0" cy="110.0" r="2.1" fill="#c3c3c3" fill-opacity="0.8"/>
<circle cx="399.4" cy="111.1" r="2.1" fill="#c3c3c3" fill-opacity="0.8"/>
<circle cx="397.4" cy="100.4" r="2.1" fill="#c3c3c3" fill-opacity="0.8"/>
<circle cx="404.1" cy="110.7" r="2.1" fill="#c3c3c3" fill-opacity="0.8"/>
<circle cx="339.1" cy="111.2" r="2.1" fill="#c3c3c3" fill-opacity="0.8"/>
<circle cx="324.0" cy="101.7" r="2.1" fill="#c3c3c3" fill-opacity="0.8"/>
<circle cx="392.5" cy="106.1" r="2.1" fill="#c3c3c3" fill-opacity="0.8"/>
<circle cx="393.6" cy="105.8" r="2.1" fill="#c3c3c3" fill-opacity="0.8"/>
<circle cx="346.3" cy="111.4" r="2.1" fill="#c3c3c3" fill-opacity="0.8"/>
<circle cx="387.6" cy="110.7" r="2.1" fill="#c3c3c3" fill-opacity="0.8"/>
<circle cx="349.1" cy="111.6" r="2.1" fill="#c3c3c3" fill-opacity="0.8"/>
<circle cx="343.6" cy="110.8" r="2.1" fill="#c3c3c3" fill-opacity="0.8"/>
<circle cx="384.0" cy="110.4" r="2.1" fill="#c3c3c3" fill-opacity="0.8"/>
<circle cx="349.2" cy="110.6" r="2.1" fill="#c3c3c3" fill-opacity="0.8"/>
<circle cx="395.9" cy="105.2" r="2.1" fill="#c3c3c3" fill-opacity="0.8"/>
<circle cx="323.7" cy="107.7" r="2.1" fill="#c3c3c3" fill-opacity="0.8"/>
<circle cx="359.4" cy="111.1" r="2.1" fill="#c3c3c3" fill-opacity="0.8"/>
<circle cx="383.0" cy="109.9" r="2.1" fill="#c3c3c3" fill-opacity="0.8"/>
<circle cx="340.1" cy="106.5" r="2.1" fill="#c3c3c3" fill-opacity="0.8"/>
<circle cx="331.6" cy="111.1" r="2.1" fill="#c3c3c3" fill-opacity="0.8"/>
<circle cx="338.3" cy="109.8" r="2.1" fill="#c3c3c3" fill-opacity="0.8"/>
<circle cx="341.0" cy="111.0" r="2.1" fill="#c3c3c3" fill-opacity="0.8"/>
<circle cx="406.1" cy="109.8" r="2.1" fill="#c3c3c3" fill-opacity="0.8"/>
<circle cx="365.2" cy="110.6" r="2.1" fill="#c3c3c3" fill-opacity="0.8"/>
<circle cx="390.9" cy="110.1" r="2.1" fill="#c3c3c3" fill-opacity="0.8"/>
<circle cx="365.5" cy="110.4" r="2.1" fill="#c3c3c3" fill-opacity="0.8"/>
<circle cx="393.9" cy="110.2" r="2.1" fill="#c3c3c3" fill-opacity="0.8"/>
<circle cx="403.3" cy="110.3" r="2.1" fill="#c3c3c3" fill-opacity="0.8"/>
<circle cx="342.0" cy="110.9" r="2.1" fill="#c3c3c3" fill-opacity="0.8"/>
<circle cx="365.9" cy="110.0" r="2.1" fill="#c3c3c3" fill-opacity="0.8"/>
<circle cx="377.5" cy="109.9" r="2.1" fill="#c3c3c3" fill-opacity="0.8"/>
<circle cx="390.2" cy="110.9" r="2.1" fill="#c3c3c3" fill-opacity="0.8"/>
<circle cx="390.1" cy="110.8" r="2.1" fill="#c3c3c3" fill-opacity="0.8"/>
<circle cx="353.9" cy="110.4" r="2.1" fill="#c3c3c3" fill-opacity="0.8"/>
<circle cx="357.1" cy="111.2" r="2.1" fill="#c3c3c3" fill-opacity="0.8"/>
<circle cx="331.2" cy="111.2" r="2.1" fill="#c3c3c3" fill-opacity="0.8"/>
<circle cx="326.1" cy="110.1" r="2.1" fill="#c3c3c3" fill-opacity="0.8"/>
<circle cx="346.1" cy="111.2" r="2.1" fill="#c3c3c3" fill-opacity="0.8"/>
<circle cx="366.1" cy="110.4" r="2.1" fill="#c3c3c3" fill-opacity="0.8"/>
<circle cx="398.3" cy="110.2" r="2.1" fill="#c3c3c3" fill-opacity="0.8"/>
<circle cx="362.7" cy="110.7" r="2.1" fill="#c3c3c3" fill-opacity="0.8"/>
<circle cx="387.4" cy="111.0" r="2.1" fill="#c3c3c3" fill-opacity="0.8"/>
<circle cx="378.3" cy="110.4" r="2.1" fill="#c3c3c3" fill-opacity="0.8"/>
<circle cx="351.4" cy="110.0" r="2.1" fill="#c3c3c3" fill-opacity="0.8"/>
<circle cx="394.8" cy="110.9" r="2.1" fill="#c3c3c3" fill-opacity="0.8"/>
<circle cx="386.3" cy="110.1" r="2.1" fill="#c3c3c3" fill-opacity="0.8"/>
<circle cx="360.9" cy="111.0" r="2.1" fill="#c3c3c3" fill-opacity="0.8"/>
<circle cx="372.7" cy="110.0" r="2.1" fill="#c3c3c3" fill-opacity="0.8"/>
<circle cx="362.8" cy="111.2" r="2.1" fill="#c3c3c3" fill-opacity="0.8"/>
<circle cx="344.0" cy="110.1" r="2.1" fill="#c3c3c3" fill-opacity="0.8"/>
<circle cx="349.3" cy="110.9" r="2.1" fill="#c3c3c3" fill-opacity="0.8"/>
<circle cx="394.9" cy="110.0" r="2.1" fill="#c3c3c3" fill-opacity="0.8"/>
<circle cx="337.1" cy="110.2" r="2.1" fill="#c3c3c3" fill-opacity="0.8"/>
<circle cx="351.4" cy="110.6" r="2.1" fill="#c3c3c3" fill-opacity="0.8"/>
<circle cx="337.5" cy="110.3" r="2.1" fill="#c3c3c3" fill-opacity="0.8"/>
<circle cx="339.9" cy="111.4" r="2.1" fill="#c3c3c3" fill-opacity="0.8"/>
<circle cx="385.2" cy="110.0" r="2.1" fill="#c3c3c3" fill-opacity="0.8"/>
<circle cx="404.8" cy="110.0" r="2.1" fill="#c3c3c3" fill-opacity="0.8"/>
<circle cx="356.3" cy="111.4" r="2.1" fill="#c3c3c3" fill-opacity="0.8"/>
<circle cx="390.8" cy="111.0" r="2.1" fill="#c3c3c3" fill-opacity="0.8"/>
<circle cx="360.5" cy="110.1" r="2.1" fill="#c3c3c3" fill-opacity="0.8"/>
<circle cx="377.6" cy="110.0" r="2.1" fill="#c3c3c3" fill-opacity="0.8"/>
<circle cx="341.3" cy="110.4" r="2.1" fill="#c3c3c3" fill-opacity="0.8"/>
<circle cx="326.9" cy="110.4" r="2.1" fill="#c3c3c3" fill-opacity="0.8"/>
<circle cx="390.4" cy="110.9" r="2.1" fill="#c3c3c3" fill-opacity="0.8"/>
<circle cx="366.0" cy="110.8" r="2.1" fill="#c3c3c3" fill-opacity="0.8"/>
<circle cx="362.9" cy="110.0" r="2.1" fill="#c3c3c3" fill-opacity="0.8"/>
<circle cx="374.7" cy="110.4" r="2.1" fill="#c3c3c3" fill-opacity="0.8"/>
<circle cx="386.2" cy="111.3" r="2.1" fill="#c3c3c3" fill-opacity="0.8"/>
<circle cx="360.1" cy="110.7" r="2.1" fill="#c3c3c3" fill-opacity="0.8"/>
<circle cx="386.9" cy="110.5" r="2.1" fill="#c3c3c3" fill-opacity="0.8"/>
<circle cx="343.2" cy="111.0" r="2.1" fill="#c3c3c3" fill-opacity="0.8"/>
<circle cx="397.9" cy="111.0" r="2.1" fill="#c3c3c3" fill-opacity="0.8"/>
<circle cx="382.8" cy="111.2" r="2.1" fill="#c3c3c3" fill-opacity="0.8"/>
<circle cx="381.1" cy="110.8" r="2.1" fill="#c3c3c3" fill-opacity="0.8"/>
<circle cx="362.1" cy="110.3" r="2.1" fill="#c3c3c3" fill-opacity="0.8"/>
<circle cx="376.8" cy="110.0" r="2.1" fill="#c3c3c3" fill-opacity="0.8"/>
<circle cx="359.2" cy="111.1" r="2.1" fill="#c3c3c3" fill-opacity="0.8"/>
<circle cx="383.9" cy="110.8" r="2.1" fill="#c3c3c3" fill-opacity="0.8"/>
<circle cx="345.0" cy="110.5" r="2.1" fill="#c3c3c3" fill-opacity="0.8"/>
<circle cx="362.2" cy="110.8" r="2.1" fill="#c3c3c3" fill-opacity="0.8"/>
<circle cx="358.4" cy="110.9" r="2.1" fill="#c3c3c3" fill-opacity="0.8"/>
<circle cx="402.1" cy="110.1" r="2.1" fill="#c3c3c3" fill-opacity="0.8"/>
<circle cx="379.0" cy="111.0" r="2.1" fill="#c3c3c3" fill-opacity="0.8"/>
<circle cx="356.7" cy="110.6" r="2.1" fill="#c3c3c3" fill-opacity="0.8"/>
<circle cx="405.9" cy="109.9" r="2.1" fill="#c3c3c3" fill-opacity="0.8"/>
<circle cx="369.6" cy="110.1" r="2.1" fill="#c3c3c3" fill-opacity="0.8"/>
<circle cx="389.7" cy="111.3" r="2.1" fill="#c3c3c3" fill-opacity="0.8"/>
<circle cx="367.6" cy="110.0" r="2.1" fill="#c3c3c3" fill-opacity="0.8"/>
<circle cx="372.3" cy="110.7" r="2.1" fill="#c3c3c3" fill-opacity="0.8"/>
<circle cx="384.3" cy="110.6" r="2.1" fill="#c3c3c3" fill-opacity="0.8"/>
<circle cx="377.7" cy="111.1" r="2.1" fill="#c3c3c3" fill-opacity="0.8"/>
<circle cx="367.8" cy="110.5" r="2.1" fill="#c3c3c3" fill-opacity="0.8"/>
<circle cx="403.6" cy="110.1" r="2.1" fill="#c3c3c3" fill-opacity="0.8"/>
<circle cx="381.5" cy="110.4" r="2.1" fill="#c3c3c3" fill-opacity="0.8"/>
<circle cx="388.1" cy="110.0" r="2.1" fill="#c3c3c3" fill-opacity="0.8"/>
<circle cx="406.7" cy="110.4" r="2.1" fill="#c3c3c3" fill-opacity="0.8"/>
<circle cx="328.8" cy="110.2" r="2.1" fill="#c3c3c3" fill-opacity="0.8"/>
<circle cx="357.6" cy="109.8" r="2.1" fill="#c3c3c3" fill-opacity="0.8"/>
<circle cx="359.2" cy="110.5" r="2.1" fill="#c3c3c3" fill-opacity="0.8"/>
<circle cx="382.7" cy="110.4" r="2.1" fill="#c3c3c3" fill-opacity="0.8"/>
<circle cx="346.3" cy="110.2" r="2.1" fill="#c3c3c3" fill-opacity="0.8"/>
<circle cx="386.3" cy="111.3" r="2.1" fill="#c3c3c3" fill-opacity="0.8"/>
<circle cx="368.3" cy="110.2" r="2.1" fill="#c3c3c3" fill-opacity="0.8"/>
<circle cx="391.3" cy="110.4" r="2.1" fill="#c3c3c3" fill-opacity="0.8"/>
<circle cx="341.8" cy="110.0" r="2.1" fill="#c3c3c3" fill-opacity="0.8"/>
<circle cx="389.2" cy="111.1" r="2.1" fill="#c3c3c3" fill-opacity="0.8"/>
<circle cx="377.3" cy="110.6" r="2.1" fill="#c3c3c3" fill-opacity="0.8"/>
<circle cx="371.2" cy="110.2" r="2.1" fill="#c3c3c3" fill-opacity="0.8"/>
<circle cx="405.0" cy="110.4" r="2.1" fill="#c3c3c3" fill-opacity="0.8"/>
<circle cx="377.7" cy="111.1" r="2.1" fill="#c3c3c3" fill-opacity="0.8"/>
<circle cx="392.6" cy="110.5" r="2.1" fill="#c3c3c3" fill-opacity="0.8"/>
<circle cx="348.7" cy="110.7" r="2.1" fill="#c3c3c3" fill-opacity="0.8"/>
<circle cx="334.5" cy="111.1" r="2.1" fill="#c3c3c3" fill-opacity="0.8"/>
<circle cx="353.8" cy="111.2" r="2.1" fill="#c3c3c3" fill-opacity="0.8"/>
<circle cx="346.5" cy="110.4" r="2.1" fill="#c3c3c3" fill-opacity="0.8"/>
<circle cx="345.3" cy="110.5" r="2.1" fill="#c3c3c3" fill-opacity="0.8"/>
<circle cx="339.6" cy="109.8" r="2.1" fill="#c3c3c3" fill-opacity="0.8"/>
<circle cx="384.6" cy="110.2" r="2.1" fill="#c3c3c3" fill-opacity="0.8"/>
<circle cx="344.6" cy="110.3" r="2.1" fill="#c3c3c3" fill-opacity="0.8"/>
<circle cx="364.3" cy="110.5" r="2.1" fill="#c3c3c3" fill-opacity="0.8"/>
<circle cx="377.5" cy="110.9" r="2.1" fill="#c3c3c3" fill-opacity="0.8"/>
<circle cx="354.4" cy="111.3" r="2.1" fill="#c3c3c3" fill-opacity="0.8"/>
<circle cx="395.8" cy="109.9" r="2.1" fill="#c3c3c3" fill-opacity="0.8"/>
<circle cx="393.5" cy="111.2" r="2.1" fill="#c3c3c3" fill-opacity="0.8"/>
<circle cx="389.9" cy="110.0" r="2.1" fill="#c3c3c3" fill-opacity="0.8"/>
<circle cx="393.8" cy="110.8" r="2.1" fill="#c3c3c3" fill-opacity="0.8"/>
<circle cx="325.3" cy="109.8" r="2.1" fill="#c3c3c3" fill-opacity="0.8"/>
<circle cx="403.9" cy="110.8" r="2.1" fill="#c3c3c3" fill-opacity="0.8"/>
<circle cx="345.0" cy="110.0" r="2.1" fill="#c3c3c3" fill-opacity="0.8"/>
<circle cx="336.0" cy="110.2" r="2.1" fill="#c3c3c3" fill-opacity="0.8"/>
<circle cx="389.2" cy="110.4" r="2.1" fill="#c3c3c3" fill-opacity="0.8"/>
<circle cx="336.8" cy="111.2" r="2.1" fill="#c3c3c3" fill-opacity="0.8"/>
<circle cx="390.5" cy="110.1" r="2.1" fill="#c3c3c3" fill-opacity="0.8"/>
<circle cx="398.9" cy="110.8" r="2.1" fill="#c3c3c3" fill-opacity="0.8"/>
<circle cx="389.6" cy="110.9" r="2.1" fill="#c3c3c3" fill-opacity="0.8"/>
<circle cx="399.1" cy="111.1" r="2.1" fill="#c3c3c3" fill-opacity="0.8"/>
<circle cx="394.5" cy="110.1" r="2.1" fill="#c3c3c3" fill-opacity="0.8"/>
<circle cx="382.2" cy="110.6" r="2.1" fill="#c3c3c3" fill-opacity="0.8"/>
<circle cx="386.3" cy="110.5" r="2.1" fill="#c3c3c3" fill-opacity="0.8"/>
<circle cx="398.1" cy="110.7" r="2.1" fill="#c3c3c3" fill-opacity="0.8"/>
<circle cx="346.2" cy="110.2" r="2.1" fill="#c3c3c3" fill-opacity="0.8"/>
<circle cx="335.7" cy="110.6" r="2.1" fill="#c3c3c3" fill-opacity="0.8"/>
<circle cx="328.9" cy="110.5" r="2.1" fill="#c3c3c3" fill-opacity="0.8"/>
<circle cx="336.1" cy="110.6" r="2.1" fill="#c3c3c3" fill-opacity="0.8"/>
<circle cx="365.8" cy="110.7" r="2.1" fill="#c3c3c3" fill-opacity="0.8"/>
<circle cx="396.5" cy="109.8" r="2.1" fill="#c3c3c3" fill-opacity="0.8"/>
<circle cx="394.6" cy="110.5" r="2.1" fill="#c3c3c3" fill-opacity="0.8"/>
<circle cx="371.3" cy="110.9" r="2.1" fill="#c3c3c3" fill-opacity="0.8"/>
<circle cx="394.6" cy="110.4" r="2.1" fill="#c3c3c3" fill-opacity="0.8"/>
<circle cx="359.2" cy="111.3" r="2.1" fill="#c3c3c3" fill-opacity="0.8"/>
<circle cx="330.3" cy="110.8" r="2.1" fill="#c3c3c3" fill-opacity="0.8"/>
<circle cx="377.4" cy="109.8" r="2.1" fill="#c3c3c3" fill-opacity="0.8"/>
<circle cx="375.2" cy="110.9" r="2.1" fill="#c3c3c3" fill-opacity="0.8"/>
<circle cx="402.2" cy="110.3" r="2.1" fill="#c3c3c3" fill-opacity="0.8"/>
<circle cx="406.5" cy="110.6" r="2.1" fill="#c3c3c3" fill-opacity="0.8"/>
<circle cx="364.7" cy="111.2" r="2.1" fill="#c3c3c3" fill-opacity="0.8"/>
<circle cx="326.8" cy="110.9" r="2.1" fill="#c3c3c3" fill-opacity="0.8"/>
<circle cx="376.5" cy="110.3" r="2.1" fill="#c3c3c3" fill-opacity="0.8"/>
<circle cx="396.4" cy="110.4" r="2.1" fill="#c3c3c3" fill-opacity="0.8"/>
<circle cx="363.9" cy="110.6" r="2.1" fill="#c3c3c3" fill-opacity="0.8"/>
<circle cx="388.7" cy="110.1" r="2.1" fill="#c3c3c3" fill-opacity="0.8"/>
<circle cx="360.6" cy="110.5" r="2.1" fill="#c3c3c3" fill-opacity="0.8"/>
<circle cx="370.5" cy="111.1" r="2.1" fill="#c3c3c3" fill-opacity="0.8"/>
<circle cx="348.6" cy="111.1" r="2.1" fill="#c3c3c3" fill-opacity="0.8"/>
<circle cx="357.9" cy="110.6" r="2.1" fill="#c3c3c3" fill-opacity="0.8"/>
<circle cx="346.8" cy="110.6" r="2.1" fill="#c3c3c3" fill-opacity="0.8"/>
<circle cx="405.9" cy="110.8" r="2.1" fill="#c3c3c3" fill-opacity="0.8"/>
<circle cx="390.5" cy="110.3" r="2.1" fill="#c3c3c3" fill-opacity="0.8"/>
<circle cx="350.6" cy="110.3" r="2.1" fill="#c3c3c3" fill-opacity="0.8"/>
<circle cx="373.3" cy="110.8" r="2.1" fill="#c3c3c3" fill-opacity="0.8"/>
<circle cx="389.9" cy="109.9" r="2.1" fill="#c3c3c3" fill-opacity="0.8"/>
<circle cx="384.7" cy="111.2" r="2.1" fill="#c3c3c3" fill-opacity="0.8"/>
<circle cx="369.8" cy="109.9" r="2.1" fill="#c3c3c3" fill-opacity="0.8"/>
<circle cx="349.2" cy="109.8" r="2.1" fill="#c3c3c3" fill-opacity="0.8"/>
<circle cx="340.0" cy="111.3" r="2.1" fill="#c3c3c3" fill-opacity="0.8"/>
<circle cx="375.1" cy="110.9" r="2.1" fill="#c3c3c3" fill-opacity="0.8"/>
<circle cx="390.3" cy="111.3" r="2.1" fill="#c3c3c3" fill-opacity="0.8"/>
<circle cx="375.4" cy="110.8" r="2.1" fill="#c3c3c3" fill-opacity="0.8"/>
<circle cx="322.0" cy="80.0" r="2.2" fill="#cbcbcb" fill-opacity="0.8"/>
<circle cx="311.0" cy="85.8" r="2.2" fill="#cbcbcb" fill-opacity="0.8"/>
<circle cx="301.9" cy="96.3" r="2.2" fill="#cbcbcb" fill-opacity="0.8"/>
<circle cx="307.0" cy="97.2" r="2.2" fill="#cbcbcb" fill-opacity="0.8"/>
<circle cx="316.0" cy="90.5" r="2.2" fill="#cbcbcb" fill-opacity="0.8"/>
<circle cx="318.5" cy="93.0" r="2.2" fill="#cbcbcb" fill-opacity="0.8"/>
<circle cx="321.0" cy="91.5" r="2.2" fill="#cbcbcb" fill-opacity="0.8"/>
<circle cx="324.0" cy="92.3" r="2.2" fill="#cbcbcb" fill-opacity="0.8"/>
<circle cx="325.5" cy="90.0" r="2.2" fill="#cbcbcb" fill-opacity="0.8"/>
<circle cx="317.0" cy="95.5" r="2.2" fill="#cbcbcb" fill-opacity="0.8"/>
<circle cx="320.0" cy="97.0" r="2.2" fill="#cbcbcb" fill-opacity="0.8"/>
<circle cx="311.9" cy="98.0" r="2.2" fill="#cbcbcb" fill-opacity="0.8"/>
<circle cx="314.0" cy="101.5" r="2.2" fill="#cbcbcb" fill-opacity="0.8"/>
<circle cx="318.0" cy="103.0" r="2.2" fill="#cbcbcb" fill-opacity="0.8"/>
<circle cx="310.7" cy="109.4" r="2.2" fill="#cbcbcb" fill-opacity="0.8"/>
<circle cx="317.0" cy="108.9" r="2.2" fill="#cbcbcb" fill-opacity="0.8"/>
<circle cx="313.0" cy="95.0" r="2.2" fill="#cbcbcb" fill-opacity="0.8"/>
<circle cx="327.0" cy="94.0" r="2.2" fill="#cbcbcb" fill-opacity="0.8"/>
<circle cx="330.0" cy="96.0" r="2.2" fill="#cbcbcb" fill-opacity="0.8"/>
<circle cx="326.0" cy="98.5" r="2.2" fill="#cbcbcb" fill-opacity="0.8"/>
<circle cx="416.8" cy="63.1" r="2.2" fill="#cbcbcb" fill-opacity="0.8"/>
<circle cx="410.8" cy="66.0" r="2.2" fill="#cbcbcb" fill-opacity="0.8"/>
<circle cx="432.0" cy="72.2" r="2.2" fill="#cbcbcb" fill-opacity="0.8"/>
<circle cx="420.0" cy="82.4" r="2.2" fill="#cbcbcb" fill-opacity="0.8"/>
<circle cx="410.1" cy="86.9" r="2.2" fill="#cbcbcb" fill-opacity="0.8"/>
<circle cx="407.0" cy="90.5" r="2.2" fill="#cbcbcb" fill-opacity="0.8"/>
<circle cx="405.5" cy="93.0" r="2.2" fill="#cbcbcb" fill-opacity="0.8"/>
<circle cx="402.5" cy="92.0" r="2.2" fill="#cbcbcb" fill-opacity="0.8"/>
<circle cx="400.0" cy="95.0" r="2.2" fill="#cbcbcb" fill-opacity="0.8"/>
<circle cx="409.0" cy="97.0" r="2.2" fill="#cbcbcb" fill-opacity="0.8"/>
<circle cx="411.0" cy="100.0" r="2.2" fill="#cbcbcb" fill-opacity="0.8"/>
</g>
<circle cx="420.2" cy="24" r="2.3" fill="#e29a62" fill-opacity="0.92"/>
<circle cx="413" cy="76" r="2.3" fill="#e29a62" fill-opacity="0.92"/>
<circle cx="417.7" cy="75.5" r="2.3" fill="#e29a62" fill-opacity="0.92"/>
<circle cx="426.1" cy="75.5" r="2.3" fill="#e29a62" fill-opacity="0.92"/>
<circle cx="425.6" cy="80.7" r="2.3" fill="#e29a62" fill-opacity="0.92"/>
<circle cx="438.3" cy="81.2" r="2.3" fill="#e29a62" fill-opacity="0.92"/>
<circle cx="416" cy="83.2" r="2.3" fill="#e29a62" fill-opacity="0.92"/>
<circle cx="403.8" cy="89.3" r="2.3" fill="#e29a62" fill-opacity="0.92"/>
<circle cx="404.3" cy="95.3" r="2.3" fill="#e29a62" fill-opacity="0.92"/>
<circle cx="399.6" cy="107.2" r="1.3" fill="#d4702a" fill-opacity="0.9"/>
<circle cx="394.2" cy="100.9" r="1.3" fill="#d4702a" fill-opacity="0.9"/>
<line x1="383.30" y1="59.20" x2="415.50" y2="82.70" stroke="#d4660f" stroke-width="0.9" />
<line x1="426.10" y1="59.20" x2="418.40" y2="74.30" stroke="#d4660f" stroke-width="0.9" />
<line x1="356.80" y1="74.80" x2="394.50" y2="101.20" stroke="#d4660f" stroke-width="0.9" />
<line x1="380.30" y1="87.30" x2="393.70" y2="100.40" stroke="#d4660f" stroke-width="0.9" />
<line x1="347.40" y1="94.30" x2="384.40" y2="107.90" stroke="#d4660f" stroke-width="0.9" />
<line x1="344.50" y1="109.00" x2="386.00" y2="109.60" stroke="#d4660f" stroke-width="0.9" />
<line x1="423.00" y1="103.70" x2="391.20" y2="109.10" stroke="#d4660f" stroke-width="0.9" />
<line x1="380.00" y1="100.00" x2="386.00" y2="107.00" stroke="#d4660f" stroke-width="0.9" />
<line x1="405.50" y1="101.00" x2="400.50" y2="106.50" stroke="#d4660f" stroke-width="0.9" />
<line x1="367.00" y1="109.50" x2="385.00" y2="108.80" stroke="#d4660f" stroke-width="0.9" />
<line x1="378.00" y1="107.00" x2="386.00" y2="109.00" stroke="#d4660f" stroke-width="0.9" />
<text x="425.60" y="18.20" font-size="8.2" fill="#d67630" stroke="#d67630" textLength="16.4" lengthAdjust="spacingAndGlyphs" >purU</text>
<text x="372.00" y="57.30" font-size="8.2" fill="#d67630" stroke="#d67630" textLength="20.0" lengthAdjust="spacingAndGlyphs" >homA</text>
<text x="415.80" y="57.30" font-size="8.2" fill="#d67630" stroke="#d67630" textLength="20.7" lengthAdjust="spacingAndGlyphs" >BCCT</text>
<text x="394.00" y="70.90" font-size="8.2" fill="#d67630" stroke="#d67630" textLength="19.5" lengthAdjust="spacingAndGlyphs" >homB</text>
<text x="425.20" y="70.90" font-size="8.2" fill="#d67630" stroke="#d67630" textLength="20.5" lengthAdjust="spacingAndGlyphs" >homD</text>
<text x="349.20" y="70.40" font-size="8.2" fill="#d67630" stroke="#d67630" textLength="13.8" lengthAdjust="spacingAndGlyphs" >flgG</text>
<text x="371.90" y="83.50" font-size="8.2" fill="#d67630" stroke="#d67630" textLength="13.4" lengthAdjust="spacingAndGlyphs" >flgD</text>
<text x="393.70" y="87.20" font-size="8.2" fill="#d67630" stroke="#d67630" textLength="13.4" lengthAdjust="spacingAndGlyphs" >folD</text>
<text x="415.20" y="92.80" font-size="8.2" fill="#d67630" stroke="#d67630" textLength="20.4" lengthAdjust="spacingAndGlyphs" >homC</text>
<text x="426.00" y="97.30" font-size="8.2" fill="#d67630" stroke="#d67630" textLength="19.2" lengthAdjust="spacingAndGlyphs" >homE</text>
<text x="353.40" y="96.10" font-size="8.2" fill="#d67630" stroke="#d67630" textLength="9.6" lengthAdjust="spacingAndGlyphs" >flgI</text>
<text x="373.90" y="99.00" font-size="8.2" fill="#d67630" stroke="#d67630" textLength="11.9" lengthAdjust="spacingAndGlyphs" >flgE</text>
<text x="405.10" y="101.50" font-size="8.2" fill="#d67630" stroke="#d67630" textLength="20.1" lengthAdjust="spacingAndGlyphs" >mgdA</text>
<text x="426.00" y="105.70" font-size="8.2" fill="#d67630" stroke="#d67630" textLength="19.7" lengthAdjust="spacingAndGlyphs" >mgdB</text>
<text x="372.70" y="107.40" font-size="8.2" fill="#d67630" stroke="#d67630" textLength="11.7" lengthAdjust="spacingAndGlyphs" >flgK</text>
<text x="353.40" y="110.70" font-size="8.2" fill="#d67630" stroke="#d67630" textLength="13.4" lengthAdjust="spacingAndGlyphs" >flgH</text>
<text x="405.10" y="111.60" font-size="8.2" fill="#d67630" stroke="#d67630" textLength="11.5" lengthAdjust="spacingAndGlyphs" >flgF</text>
<text x="416.30" y="111.60" font-size="8.2" fill="#d67630" stroke="#d67630" textLength="20.7" lengthAdjust="spacingAndGlyphs" >mgdC</text>
<text x="333.00" y="96.00" font-size="8.2" fill="#d67630" stroke="#d67630" textLength="10.9" lengthAdjust="spacingAndGlyphs" >flgJ</text>
<text x="323.70" y="111.50" font-size="8.2" fill="#d67630" stroke="#d67630" textLength="20.2" lengthAdjust="spacingAndGlyphs" >mgdD</text>
<text x="471.90" y="9.00" font-size="12.2" fill="#000" stroke="#000" font-weight="bold" textLength="7.8" lengthAdjust="spacingAndGlyphs" style="stroke-width:0.3px">c</text>
<line x1="507.50" y1="7.40" x2="507.50" y2="116.90" stroke="#767676" stroke-width="0.9" />
<line x1="507.10" y1="116.50" x2="685.00" y2="116.50" stroke="#767676" stroke-width="0.9" />
<line x1="503.90" y1="111.50" x2="507.50" y2="111.50" stroke="#767676" stroke-width="0.9" />
<text x="499.80" y="113.80" font-size="7" fill="#2a2a2a" stroke="#2a2a2a" text-anchor="end" textLength="4.2" lengthAdjust="spacingAndGlyphs" >0</text>
<line x1="503.90" y1="86.50" x2="507.50" y2="86.50" stroke="#767676" stroke-width="0.9" />
<text x="499.80" y="89.05" font-size="7" fill="#2a2a2a" stroke="#2a2a2a" text-anchor="end" textLength="8.9" lengthAdjust="spacingAndGlyphs" >50</text>
<line x1="503.90" y1="61.50" x2="507.50" y2="61.50" stroke="#767676" stroke-width="0.9" />
<text x="499.80" y="64.30" font-size="7" fill="#2a2a2a" stroke="#2a2a2a" text-anchor="end" textLength="12.1" lengthAdjust="spacingAndGlyphs" >100</text>
<line x1="503.90" y1="37.50" x2="507.50" y2="37.50" stroke="#767676" stroke-width="0.9" />
<text x="499.80" y="39.55" font-size="7" fill="#2a2a2a" stroke="#2a2a2a" text-anchor="end" textLength="11.8" lengthAdjust="spacingAndGlyphs" >150</text>
<line x1="503.90" y1="12.50" x2="507.50" y2="12.50" stroke="#767676" stroke-width="0.9" />
<text x="499.80" y="14.80" font-size="7" fill="#2a2a2a" stroke="#2a2a2a" text-anchor="end" textLength="13.7" lengthAdjust="spacingAndGlyphs" >200</text>
<line x1="515.50" y1="116.50" x2="515.50" y2="120.00" stroke="#767676" stroke-width="0.9" />
<text x="515.10" y="129.90" font-size="7" fill="#2a2a2a" stroke="#2a2a2a" text-anchor="middle" textLength="8.2" lengthAdjust="spacingAndGlyphs" >−8</text>
<line x1="535.50" y1="116.50" x2="535.50" y2="120.00" stroke="#767676" stroke-width="0.9" />
<text x="535.25" y="129.90" font-size="7" fill="#2a2a2a" stroke="#2a2a2a" text-anchor="middle" textLength="8.2" lengthAdjust="spacingAndGlyphs" >−6</text>
<line x1="555.50" y1="116.50" x2="555.50" y2="120.00" stroke="#767676" stroke-width="0.9" />
<text x="555.40" y="129.90" font-size="7" fill="#2a2a2a" stroke="#2a2a2a" text-anchor="middle" textLength="8.2" lengthAdjust="spacingAndGlyphs" >−4</text>
<line x1="575.50" y1="116.50" x2="575.50" y2="120.00" stroke="#767676" stroke-width="0.9" />
<text x="575.55" y="129.90" font-size="7" fill="#2a2a2a" stroke="#2a2a2a" text-anchor="middle" textLength="8.2" lengthAdjust="spacingAndGlyphs" >−2</text>
<line x1="596.50" y1="116.50" x2="596.50" y2="120.00" stroke="#767676" stroke-width="0.9" />
<text x="596.00" y="129.90" font-size="7" fill="#2a2a2a" stroke="#2a2a2a" text-anchor="middle" textLength="4.6" lengthAdjust="spacingAndGlyphs" >0</text>
<line x1="616.50" y1="116.50" x2="616.50" y2="120.00" stroke="#767676" stroke-width="0.9" />
<text x="616.15" y="129.90" font-size="7" fill="#2a2a2a" stroke="#2a2a2a" text-anchor="middle" textLength="4.6" lengthAdjust="spacingAndGlyphs" >2</text>
<line x1="636.50" y1="116.50" x2="636.50" y2="120.00" stroke="#767676" stroke-width="0.9" />
<text x="636.30" y="129.90" font-size="7" fill="#2a2a2a" stroke="#2a2a2a" text-anchor="middle" textLength="4.6" lengthAdjust="spacingAndGlyphs" >4</text>
<line x1="656.50" y1="116.50" x2="656.50" y2="120.00" stroke="#767676" stroke-width="0.9" />
<text x="656.45" y="129.90" font-size="7" fill="#2a2a2a" stroke="#2a2a2a" text-anchor="middle" textLength="4.6" lengthAdjust="spacingAndGlyphs" >6</text>
<line x1="676.50" y1="116.50" x2="676.50" y2="120.00" stroke="#767676" stroke-width="0.9" />
<text x="676.60" y="129.90" font-size="7" fill="#2a2a2a" stroke="#2a2a2a" text-anchor="middle" textLength="4.6" lengthAdjust="spacingAndGlyphs" >8</text>
<text x="596.0" y="142.7" font-size="8.7" fill="#2a2a2a" stroke="#2a2a2a" text-anchor="middle" textLength="26.5" lengthAdjust="spacingAndGlyphs">log<tspan font-size="6" dy="2">2</tspan><tspan dy="-2">FC</tspan></text>
<text transform="translate(480.8,61.9) rotate(-90)" font-size="8.8" fill="#2a2a2a" stroke="#2a2a2a" text-anchor="middle" textLength="52.2" lengthAdjust="spacingAndGlyphs">−log<tspan font-size="6" dy="2">10</tspan><tspan dy="-2" font-style="italic">P</tspan> value</text>
<line x1="508.00" y1="110.80" x2="685.00" y2="110.80" stroke="#d4d4d4" stroke-width="0.8" stroke-dasharray="2.6 2.6"/>
<line x1="585.50" y1="8.00" x2="585.50" y2="116.20" stroke="#4c4c4c" stroke-width="0.8" stroke-dasharray="2.7 2.1"/>
<line x1="606.50" y1="8.00" x2="606.50" y2="116.20" stroke="#4c4c4c" stroke-width="0.8" stroke-dasharray="2.7 2.1"/>
<g>
<circle cx="606.0" cy="111.3" r="2.1" fill="#c3c3c3" fill-opacity="0.8"/>
<circle cx="604.1" cy="111.3" r="2.1" fill="#c3c3c3" fill-opacity="0.8"/>
<circle cx="579.9" cy="110.8" r="2.1" fill="#c3c3c3" fill-opacity="0.8"/>
<circle cx="595.3" cy="111.5" r="2.1" fill="#c3c3c3" fill-opacity="0.8"/>
<circle cx="572.9" cy="109.3" r="2.1" fill="#c3c3c3" fill-opacity="0.8"/>
<circle cx="568.8" cy="110.2" r="2.1" fill="#c3c3c3" fill-opacity="0.8"/>
<circle cx="624.1" cy="110.2" r="2.1" fill="#c3c3c3" fill-opacity="0.8"/>
<circle cx="589.7" cy="111.5" r="2.1" fill="#c3c3c3" fill-opacity="0.8"/>
<circle cx="616.1" cy="110.6" r="2.1" fill="#c3c3c3" fill-opacity="0.8"/>
<circle cx="582.8" cy="110.2" r="2.1" fill="#c3c3c3" fill-opacity="0.8"/>
<circle cx="593.1" cy="110.5" r="2.1" fill="#c3c3c3" fill-opacity="0.8"/>
<circle cx="593.6" cy="111.2" r="2.1" fill="#c3c3c3" fill-opacity="0.8"/>
<circle cx="625.3" cy="108.8" r="2.1" fill="#c3c3c3" fill-opacity="0.8"/>
<circle cx="602.3" cy="110.0" r="2.1" fill="#c3c3c3" fill-opacity="0.8"/>
<circle cx="574.0" cy="110.7" r="2.1" fill="#c3c3c3" fill-opacity="0.8"/>
<circle cx="602.7" cy="111.8" r="2.1" fill="#c3c3c3" fill-opacity="0.8"/>
<circle cx="594.6" cy="109.9" r="2.1" fill="#c3c3c3" fill-opacity="0.8"/>
<circle cx="590.9" cy="111.1" r="2.1" fill="#c3c3c3" fill-opacity="0.8"/>
<circle cx="625.6" cy="110.8" r="2.1" fill="#c3c3c3" fill-opacity="0.8"/>
<circle cx="596.5" cy="110.8" r="2.1" fill="#c3c3c3" fill-opacity="0.8"/>
<circle cx="572.9" cy="110.3" r="2.1" fill="#c3c3c3" fill-opacity="0.8"/>
<circle cx="579.9" cy="109.7" r="2.1" fill="#c3c3c3" fill-opacity="0.8"/>
<circle cx="567.5" cy="108.5" r="2.1" fill="#c3c3c3" fill-opacity="0.8"/>
<circle cx="609.6" cy="109.9" r="2.1" fill="#c3c3c3" fill-opacity="0.8"/>
<circle cx="627.4" cy="108.7" r="2.1" fill="#c3c3c3" fill-opacity="0.8"/>
<circle cx="621.3" cy="109.3" r="2.1" fill="#c3c3c3" fill-opacity="0.8"/>
<circle cx="567.6" cy="110.0" r="2.1" fill="#c3c3c3" fill-opacity="0.8"/>
<circle cx="581.8" cy="111.0" r="2.1" fill="#c3c3c3" fill-opacity="0.8"/>
<circle cx="578.3" cy="109.4" r="2.1" fill="#c3c3c3" fill-opacity="0.8"/>
<circle cx="615.3" cy="110.9" r="2.1" fill="#c3c3c3" fill-opacity="0.8"/>
<circle cx="620.4" cy="110.6" r="2.1" fill="#c3c3c3" fill-opacity="0.8"/>
<circle cx="571.8" cy="110.1" r="2.1" fill="#c3c3c3" fill-opacity="0.8"/>
<circle cx="611.2" cy="110.6" r="2.1" fill="#c3c3c3" fill-opacity="0.8"/>
<circle cx="625.2" cy="109.3" r="2.1" fill="#c3c3c3" fill-opacity="0.8"/>
<circle cx="627.3" cy="110.1" r="2.1" fill="#c3c3c3" fill-opacity="0.8"/>
<circle cx="567.2" cy="108.5" r="2.1" fill="#c3c3c3" fill-opacity="0.8"/>
<circle cx="607.5" cy="111.5" r="2.1" fill="#c3c3c3" fill-opacity="0.8"/>
<circle cx="571.5" cy="109.5" r="2.1" fill="#c3c3c3" fill-opacity="0.8"/>
<circle cx="612.5" cy="109.9" r="2.1" fill="#c3c3c3" fill-opacity="0.8"/>
<circle cx="620.7" cy="110.1" r="2.1" fill="#c3c3c3" fill-opacity="0.8"/>
<circle cx="570.3" cy="109.5" r="2.1" fill="#c3c3c3" fill-opacity="0.8"/>
<circle cx="602.7" cy="110.8" r="2.1" fill="#c3c3c3" fill-opacity="0.8"/>
<circle cx="609.1" cy="110.0" r="2.1" fill="#c3c3c3" fill-opacity="0.8"/>
<circle cx="616.7" cy="110.1" r="2.1" fill="#c3c3c3" fill-opacity="0.8"/>
<circle cx="607.1" cy="111.1" r="2.1" fill="#c3c3c3" fill-opacity="0.8"/>
<circle cx="592.8" cy="110.7" r="2.1" fill="#c3c3c3" fill-opacity="0.8"/>
<circle cx="616.0" cy="111.4" r="2.1" fill="#c3c3c3" fill-opacity="0.8"/>
<circle cx="615.9" cy="110.6" r="2.1" fill="#c3c3c3" fill-opacity="0.8"/>
<circle cx="584.9" cy="109.8" r="2.1" fill="#c3c3c3" fill-opacity="0.8"/>
<circle cx="627.9" cy="110.0" r="2.1" fill="#c3c3c3" fill-opacity="0.8"/>
<circle cx="618.6" cy="109.9" r="2.1" fill="#c3c3c3" fill-opacity="0.8"/>
<circle cx="604.7" cy="111.9" r="2.1" fill="#c3c3c3" fill-opacity="0.8"/>
<circle cx="618.9" cy="110.5" r="2.1" fill="#c3c3c3" fill-opacity="0.8"/>
<circle cx="585.9" cy="110.6" r="2.1" fill="#c3c3c3" fill-opacity="0.8"/>
<circle cx="622.5" cy="109.8" r="2.1" fill="#c3c3c3" fill-opacity="0.8"/>
<circle cx="609.6" cy="111.0" r="2.1" fill="#c3c3c3" fill-opacity="0.8"/>
<circle cx="623.0" cy="110.6" r="2.1" fill="#c3c3c3" fill-opacity="0.8"/>
<circle cx="584.3" cy="109.6" r="2.1" fill="#c3c3c3" fill-opacity="0.8"/>
<circle cx="583.1" cy="110.4" r="2.1" fill="#c3c3c3" fill-opacity="0.8"/>
<circle cx="603.5" cy="111.6" r="2.1" fill="#c3c3c3" fill-opacity="0.8"/>
<circle cx="622.4" cy="109.1" r="2.1" fill="#c3c3c3" fill-opacity="0.8"/>
<circle cx="619.0" cy="110.9" r="2.1" fill="#c3c3c3" fill-opacity="0.8"/>
<circle cx="621.1" cy="110.3" r="2.1" fill="#c3c3c3" fill-opacity="0.8"/>
<circle cx="583.8" cy="111.4" r="2.1" fill="#c3c3c3" fill-opacity="0.8"/>
<circle cx="617.3" cy="110.8" r="2.1" fill="#c3c3c3" fill-opacity="0.8"/>
<circle cx="624.1" cy="109.6" r="2.1" fill="#c3c3c3" fill-opacity="0.8"/>
<circle cx="571.9" cy="110.0" r="2.1" fill="#c3c3c3" fill-opacity="0.8"/>
<circle cx="616.7" cy="109.8" r="2.1" fill="#c3c3c3" fill-opacity="0.8"/>
<circle cx="613.8" cy="111.5" r="2.1" fill="#c3c3c3" fill-opacity="0.8"/>
<circle cx="581.2" cy="110.7" r="2.1" fill="#c3c3c3" fill-opacity="0.8"/>
<circle cx="609.2" cy="110.7" r="2.1" fill="#c3c3c3" fill-opacity="0.8"/>
<circle cx="579.5" cy="109.9" r="2.1" fill="#c3c3c3" fill-opacity="0.8"/>
<circle cx="613.8" cy="111.2" r="2.1" fill="#c3c3c3" fill-opacity="0.8"/>
<circle cx="595.5" cy="110.1" r="2.1" fill="#c3c3c3" fill-opacity="0.8"/>
<circle cx="617.3" cy="110.9" r="2.1" fill="#c3c3c3" fill-opacity="0.8"/>
<circle cx="581.2" cy="110.7" r="2.1" fill="#c3c3c3" fill-opacity="0.8"/>
<circle cx="623.0" cy="110.8" r="2.1" fill="#c3c3c3" fill-opacity="0.8"/>
<circle cx="599.4" cy="110.9" r="2.1" fill="#c3c3c3" fill-opacity="0.8"/>
<circle cx="603.6" cy="110.2" r="2.1" fill="#c3c3c3" fill-opacity="0.8"/>
<circle cx="578.6" cy="109.7" r="2.1" fill="#c3c3c3" fill-opacity="0.8"/>
<circle cx="610.7" cy="110.4" r="2.1" fill="#c3c3c3" fill-opacity="0.8"/>
<circle cx="602.1" cy="110.7" r="2.1" fill="#c3c3c3" fill-opacity="0.8"/>
<circle cx="599.1" cy="110.2" r="2.1" fill="#c3c3c3" fill-opacity="0.8"/>
<circle cx="569.3" cy="110.7" r="2.1" fill="#c3c3c3" fill-opacity="0.8"/>
<circle cx="590.1" cy="110.0" r="2.1" fill="#c3c3c3" fill-opacity="0.8"/>
<circle cx="606.4" cy="111.4" r="2.1" fill="#c3c3c3" fill-opacity="0.8"/>
<circle cx="576.3" cy="110.4" r="2.1" fill="#c3c3c3" fill-opacity="0.8"/>
<circle cx="588.2" cy="110.8" r="2.1" fill="#c3c3c3" fill-opacity="0.8"/>
<circle cx="567.8" cy="108.5" r="2.1" fill="#c3c3c3" fill-opacity="0.8"/>
<circle cx="628.9" cy="110.2" r="2.1" fill="#c3c3c3" fill-opacity="0.8"/>
<circle cx="597.1" cy="111.1" r="2.1" fill="#c3c3c3" fill-opacity="0.8"/>
<circle cx="583.0" cy="111.2" r="2.1" fill="#c3c3c3" fill-opacity="0.8"/>
<circle cx="593.3" cy="111.9" r="2.1" fill="#c3c3c3" fill-opacity="0.8"/>
<circle cx="614.8" cy="111.2" r="2.1" fill="#c3c3c3" fill-opacity="0.8"/>
<circle cx="627.2" cy="109.1" r="2.1" fill="#c3c3c3" fill-opacity="0.8"/>
<circle cx="568.9" cy="109.0" r="2.1" fill="#c3c3c3" fill-opacity="0.8"/>
<circle cx="577.9" cy="109.4" r="2.1" fill="#c3c3c3" fill-opacity="0.8"/>
<circle cx="569.7" cy="109.8" r="2.1" fill="#c3c3c3" fill-opacity="0.8"/>
<circle cx="621.4" cy="110.0" r="2.1" fill="#c3c3c3" fill-opacity="0.8"/>
<circle cx="626.2" cy="110.6" r="2.1" fill="#c3c3c3" fill-opacity="0.8"/>
<circle cx="570.5" cy="110.0" r="2.1" fill="#c3c3c3" fill-opacity="0.8"/>
<circle cx="591.5" cy="110.1" r="2.1" fill="#c3c3c3" fill-opacity="0.8"/>
<circle cx="626.9" cy="109.1" r="2.1" fill="#c3c3c3" fill-opacity="0.8"/>
<circle cx="602.1" cy="111.2" r="2.1" fill="#c3c3c3" fill-opacity="0.8"/>
<circle cx="626.8" cy="110.0" r="2.1" fill="#c3c3c3" fill-opacity="0.8"/>
<circle cx="591.3" cy="110.8" r="2.1" fill="#c3c3c3" fill-opacity="0.8"/>
<circle cx="576.6" cy="111.2" r="2.1" fill="#c3c3c3" fill-opacity="0.8"/>
<circle cx="629.0" cy="108.9" r="2.1" fill="#c3c3c3" fill-opacity="0.8"/>
<circle cx="568.9" cy="109.1" r="2.1" fill="#c3c3c3" fill-opacity="0.8"/>
<circle cx="588.7" cy="111.7" r="2.1" fill="#c3c3c3" fill-opacity="0.8"/>
<circle cx="623.5" cy="110.6" r="2.1" fill="#c3c3c3" fill-opacity="0.8"/>
<circle cx="569.5" cy="110.3" r="2.1" fill="#c3c3c3" fill-opacity="0.8"/>
<circle cx="611.2" cy="111.0" r="2.1" fill="#c3c3c3" fill-opacity="0.8"/>
<circle cx="628.6" cy="108.6" r="2.1" fill="#c3c3c3" fill-opacity="0.8"/>
<circle cx="575.6" cy="110.7" r="2.1" fill="#c3c3c3" fill-opacity="0.8"/>
<circle cx="625.7" cy="110.1" r="2.1" fill="#c3c3c3" fill-opacity="0.8"/>
<circle cx="585.3" cy="110.9" r="2.1" fill="#c3c3c3" fill-opacity="0.8"/>
<circle cx="614.2" cy="109.7" r="2.1" fill="#c3c3c3" fill-opacity="0.8"/>
<circle cx="586.9" cy="110.2" r="2.1" fill="#c3c3c3" fill-opacity="0.8"/>
<circle cx="574.3" cy="110.0" r="2.1" fill="#c3c3c3" fill-opacity="0.8"/>
<circle cx="577.1" cy="109.7" r="2.1" fill="#c3c3c3" fill-opacity="0.8"/>
<circle cx="575.5" cy="110.5" r="2.1" fill="#c3c3c3" fill-opacity="0.8"/>
<circle cx="567.3" cy="109.9" r="2.1" fill="#c3c3c3" fill-opacity="0.8"/>
<circle cx="578.8" cy="109.4" r="2.1" fill="#c3c3c3" fill-opacity="0.8"/>
<circle cx="624.9" cy="109.2" r="2.1" fill="#c3c3c3" fill-opacity="0.8"/>
<circle cx="625.3" cy="110.6" r="2.1" fill="#c3c3c3" fill-opacity="0.8"/>
<circle cx="622.5" cy="109.3" r="2.1" fill="#c3c3c3" fill-opacity="0.8"/>
<circle cx="594.7" cy="110.1" r="2.1" fill="#c3c3c3" fill-opacity="0.8"/>
<circle cx="625.0" cy="110.5" r="2.1" fill="#c3c3c3" fill-opacity="0.8"/>
<circle cx="606.1" cy="110.7" r="2.1" fill="#c3c3c3" fill-opacity="0.8"/>
<circle cx="587.9" cy="111.5" r="2.1" fill="#c3c3c3" fill-opacity="0.8"/>
<circle cx="596.6" cy="111.2" r="2.1" fill="#c3c3c3" fill-opacity="0.8"/>
<circle cx="575.5" cy="109.6" r="2.1" fill="#c3c3c3" fill-opacity="0.8"/>
<circle cx="570.1" cy="110.2" r="2.1" fill="#c3c3c3" fill-opacity="0.8"/>
<circle cx="601.4" cy="110.2" r="2.1" fill="#c3c3c3" fill-opacity="0.8"/>
<circle cx="621.4" cy="109.6" r="2.1" fill="#c3c3c3" fill-opacity="0.8"/>
<circle cx="592.4" cy="110.2" r="2.1" fill="#c3c3c3" fill-opacity="0.8"/>
<circle cx="583.6" cy="111.3" r="2.1" fill="#c3c3c3" fill-opacity="0.8"/>
<circle cx="587.6" cy="110.1" r="2.1" fill="#c3c3c3" fill-opacity="0.8"/>
<circle cx="597.4" cy="110.6" r="2.1" fill="#c3c3c3" fill-opacity="0.8"/>
<circle cx="623.4" cy="109.1" r="2.1" fill="#c3c3c3" fill-opacity="0.8"/>
<circle cx="628.2" cy="108.6" r="2.1" fill="#c3c3c3" fill-opacity="0.8"/>
<circle cx="622.9" cy="110.3" r="2.1" fill="#c3c3c3" fill-opacity="0.8"/>
<circle cx="579.8" cy="110.4" r="2.1" fill="#c3c3c3" fill-opacity="0.8"/>
<circle cx="584.5" cy="110.2" r="2.1" fill="#c3c3c3" fill-opacity="0.8"/>
<circle cx="579.2" cy="110.1" r="2.1" fill="#c3c3c3" fill-opacity="0.8"/>
<circle cx="628.9" cy="110.5" r="2.1" fill="#c3c3c3" fill-opacity="0.8"/>
<circle cx="624.8" cy="109.0" r="2.1" fill="#c3c3c3" fill-opacity="0.8"/>
<circle cx="584.7" cy="111.5" r="2.1" fill="#c3c3c3" fill-opacity="0.8"/>
<circle cx="570.1" cy="110.2" r="2.1" fill="#c3c3c3" fill-opacity="0.8"/>
<circle cx="585.0" cy="111.7" r="2.1" fill="#c3c3c3" fill-opacity="0.8"/>
<circle cx="567.5" cy="110.1" r="2.1" fill="#c3c3c3" fill-opacity="0.8"/>
<circle cx="588.0" cy="110.0" r="2.1" fill="#c3c3c3" fill-opacity="0.8"/>
<circle cx="566.6" cy="110.1" r="2.1" fill="#c3c3c3" fill-opacity="0.8"/>
<circle cx="599.7" cy="110.3" r="2.1" fill="#c3c3c3" fill-opacity="0.8"/>
<circle cx="593.9" cy="111.8" r="2.1" fill="#c3c3c3" fill-opacity="0.8"/>
<circle cx="580.3" cy="110.6" r="2.1" fill="#c3c3c3" fill-opacity="0.8"/>
<circle cx="575.2" cy="109.5" r="2.1" fill="#c3c3c3" fill-opacity="0.8"/>
<circle cx="615.0" cy="110.9" r="2.1" fill="#c3c3c3" fill-opacity="0.8"/>
<circle cx="578.9" cy="109.5" r="2.1" fill="#c3c3c3" fill-opacity="0.8"/>
<circle cx="572.0" cy="110.1" r="2.1" fill="#c3c3c3" fill-opacity="0.8"/>
<circle cx="597.7" cy="110.5" r="2.1" fill="#c3c3c3" fill-opacity="0.8"/>
<circle cx="579.5" cy="110.7" r="2.1" fill="#c3c3c3" fill-opacity="0.8"/>
<circle cx="611.1" cy="111.3" r="2.1" fill="#c3c3c3" fill-opacity="0.8"/>
<circle cx="603.2" cy="110.3" r="2.1" fill="#c3c3c3" fill-opacity="0.8"/>
<circle cx="570.6" cy="110.3" r="2.1" fill="#c3c3c3" fill-opacity="0.8"/>
<circle cx="592.2" cy="111.4" r="2.1" fill="#c3c3c3" fill-opacity="0.8"/>
<circle cx="570.0" cy="110.4" r="2.1" fill="#c3c3c3" fill-opacity="0.8"/>
<circle cx="587.6" cy="111.5" r="2.1" fill="#c3c3c3" fill-opacity="0.8"/>
<circle cx="621.0" cy="110.1" r="2.1" fill="#c3c3c3" fill-opacity="0.8"/>
<circle cx="567.5" cy="110.4" r="2.1" fill="#c3c3c3" fill-opacity="0.8"/>
<circle cx="596.5" cy="111.7" r="2.1" fill="#c3c3c3" fill-opacity="0.8"/>
<circle cx="583.3" cy="110.0" r="2.1" fill="#c3c3c3" fill-opacity="0.8"/>
<circle cx="618.9" cy="110.0" r="2.1" fill="#c3c3c3" fill-opacity="0.8"/>
<circle cx="576.8" cy="110.0" r="2.1" fill="#c3c3c3" fill-opacity="0.8"/>
<circle cx="604.0" cy="109.9" r="2.1" fill="#c3c3c3" fill-opacity="0.8"/>
<circle cx="599.2" cy="110.8" r="2.1" fill="#c3c3c3" fill-opacity="0.8"/>
<circle cx="599.0" cy="110.2" r="2.1" fill="#c3c3c3" fill-opacity="0.8"/>
<circle cx="611.5" cy="111.3" r="2.1" fill="#c3c3c3" fill-opacity="0.8"/>
<circle cx="621.0" cy="109.7" r="2.1" fill="#c3c3c3" fill-opacity="0.8"/>
<circle cx="611.3" cy="110.4" r="2.1" fill="#c3c3c3" fill-opacity="0.8"/>
<circle cx="613.8" cy="109.6" r="2.1" fill="#c3c3c3" fill-opacity="0.8"/>
<circle cx="621.5" cy="111.0" r="2.1" fill="#c3c3c3" fill-opacity="0.8"/>
<circle cx="597.7" cy="111.0" r="2.1" fill="#c3c3c3" fill-opacity="0.8"/>
<circle cx="599.9" cy="111.0" r="2.1" fill="#c3c3c3" fill-opacity="0.8"/>
<circle cx="567.8" cy="110.5" r="2.1" fill="#c3c3c3" fill-opacity="0.8"/>
<circle cx="580.6" cy="109.8" r="2.1" fill="#c3c3c3" fill-opacity="0.8"/>
<circle cx="573.0" cy="109.4" r="2.1" fill="#c3c3c3" fill-opacity="0.8"/>
<circle cx="618.0" cy="109.3" r="2.1" fill="#c3c3c3" fill-opacity="0.8"/>
<circle cx="572.6" cy="110.4" r="2.1" fill="#c3c3c3" fill-opacity="0.8"/>
<circle cx="578.8" cy="109.4" r="2.1" fill="#c3c3c3" fill-opacity="0.8"/>
<circle cx="604.3" cy="111.0" r="2.1" fill="#c3c3c3" fill-opacity="0.8"/>
<circle cx="599.4" cy="111.4" r="2.1" fill="#c3c3c3" fill-opacity="0.8"/>
<circle cx="573.0" cy="110.7" r="2.1" fill="#c3c3c3" fill-opacity="0.8"/>
<circle cx="611.7" cy="109.7" r="2.1" fill="#c3c3c3" fill-opacity="0.8"/>
<circle cx="574.3" cy="110.1" r="2.1" fill="#c3c3c3" fill-opacity="0.8"/>
<circle cx="598.0" cy="110.5" r="2.1" fill="#c3c3c3" fill-opacity="0.8"/>
<circle cx="574.2" cy="109.9" r="2.1" fill="#c3c3c3" fill-opacity="0.8"/>
<circle cx="575.1" cy="110.3" r="2.1" fill="#c3c3c3" fill-opacity="0.8"/>
<circle cx="620.7" cy="109.4" r="2.1" fill="#c3c3c3" fill-opacity="0.8"/>
<circle cx="602.6" cy="111.4" r="2.1" fill="#c3c3c3" fill-opacity="0.8"/>
<circle cx="576.9" cy="110.9" r="2.1" fill="#c3c3c3" fill-opacity="0.8"/>
<circle cx="625.6" cy="109.5" r="2.1" fill="#c3c3c3" fill-opacity="0.8"/>
<circle cx="593.0" cy="111.6" r="2.1" fill="#c3c3c3" fill-opacity="0.8"/>
<circle cx="599.6" cy="110.7" r="2.1" fill="#c3c3c3" fill-opacity="0.8"/>
<circle cx="625.8" cy="110.3" r="2.1" fill="#c3c3c3" fill-opacity="0.8"/>
<circle cx="587.8" cy="110.2" r="2.1" fill="#c3c3c3" fill-opacity="0.8"/>
<circle cx="587.6" cy="110.6" r="2.1" fill="#c3c3c3" fill-opacity="0.8"/>
<circle cx="628.3" cy="110.2" r="2.1" fill="#c3c3c3" fill-opacity="0.8"/>
<circle cx="624.0" cy="110.6" r="2.1" fill="#c3c3c3" fill-opacity="0.8"/>
<circle cx="619.9" cy="109.3" r="2.1" fill="#c3c3c3" fill-opacity="0.8"/>
<circle cx="599.1" cy="111.9" r="2.1" fill="#c3c3c3" fill-opacity="0.8"/>
<circle cx="625.4" cy="109.3" r="2.1" fill="#c3c3c3" fill-opacity="0.8"/>
<circle cx="593.1" cy="111.2" r="2.1" fill="#c3c3c3" fill-opacity="0.8"/>
<circle cx="589.5" cy="110.9" r="2.1" fill="#c3c3c3" fill-opacity="0.8"/>
<circle cx="570.9" cy="109.7" r="2.1" fill="#c3c3c3" fill-opacity="0.8"/>
<circle cx="598.3" cy="109.9" r="2.1" fill="#c3c3c3" fill-opacity="0.8"/>
<circle cx="575.3" cy="111.1" r="2.1" fill="#c3c3c3" fill-opacity="0.8"/>
<circle cx="615.4" cy="111.4" r="2.1" fill="#c3c3c3" fill-opacity="0.8"/>
<circle cx="606.4" cy="111.5" r="2.1" fill="#c3c3c3" fill-opacity="0.8"/>
<circle cx="622.2" cy="110.8" r="2.1" fill="#c3c3c3" fill-opacity="0.8"/>
<circle cx="568.7" cy="109.9" r="2.1" fill="#c3c3c3" fill-opacity="0.8"/>
<circle cx="583.2" cy="111.0" r="2.1" fill="#c3c3c3" fill-opacity="0.8"/>
<circle cx="583.7" cy="110.7" r="2.1" fill="#c3c3c3" fill-opacity="0.8"/>
<circle cx="624.7" cy="110.1" r="2.1" fill="#c3c3c3" fill-opacity="0.8"/>
<circle cx="582.3" cy="110.6" r="2.1" fill="#c3c3c3" fill-opacity="0.8"/>
<circle cx="593.8" cy="111.9" r="2.1" fill="#c3c3c3" fill-opacity="0.8"/>
<circle cx="584.6" cy="110.3" r="2.1" fill="#c3c3c3" fill-opacity="0.8"/>
<circle cx="607.3" cy="110.0" r="2.1" fill="#c3c3c3" fill-opacity="0.8"/>
<circle cx="603.9" cy="111.9" r="2.1" fill="#c3c3c3" fill-opacity="0.8"/>
<circle cx="598.9" cy="110.5" r="2.1" fill="#c3c3c3" fill-opacity="0.8"/>
<circle cx="595.9" cy="111.0" r="2.1" fill="#c3c3c3" fill-opacity="0.8"/>
<circle cx="575.8" cy="109.4" r="2.1" fill="#c3c3c3" fill-opacity="0.8"/>
<circle cx="574.8" cy="109.7" r="2.1" fill="#c3c3c3" fill-opacity="0.8"/>
<circle cx="592.1" cy="110.5" r="2.1" fill="#c3c3c3" fill-opacity="0.8"/>
<circle cx="581.8" cy="109.7" r="2.1" fill="#c3c3c3" fill-opacity="0.8"/>
<circle cx="600.9" cy="111.7" r="2.1" fill="#c3c3c3" fill-opacity="0.8"/>
<circle cx="604.9" cy="111.0" r="2.1" fill="#c3c3c3" fill-opacity="0.8"/>
<circle cx="607.5" cy="110.2" r="2.1" fill="#c3c3c3" fill-opacity="0.8"/>
<circle cx="611.3" cy="110.6" r="2.1" fill="#c3c3c3" fill-opacity="0.8"/>
<circle cx="601.0" cy="111.2" r="2.1" fill="#c3c3c3" fill-opacity="0.8"/>
<circle cx="596.0" cy="110.5" r="2.1" fill="#c3c3c3" fill-opacity="0.8"/>
<circle cx="581.8" cy="110.0" r="2.1" fill="#c3c3c3" fill-opacity="0.8"/>
<circle cx="598.8" cy="110.7" r="2.1" fill="#c3c3c3" fill-opacity="0.8"/>
<circle cx="603.4" cy="109.9" r="2.1" fill="#c3c3c3" fill-opacity="0.8"/>
<circle cx="588.7" cy="111.6" r="2.1" fill="#c3c3c3" fill-opacity="0.8"/>
<circle cx="581.5" cy="110.6" r="2.1" fill="#c3c3c3" fill-opacity="0.8"/>
<circle cx="597.5" cy="110.5" r="2.1" fill="#c3c3c3" fill-opacity="0.8"/>
<circle cx="628.7" cy="109.0" r="2.1" fill="#c3c3c3" fill-opacity="0.8"/>
<circle cx="615.1" cy="109.8" r="2.1" fill="#c3c3c3" fill-opacity="0.8"/>
<circle cx="570.7" cy="110.6" r="2.1" fill="#c3c3c3" fill-opacity="0.8"/>
<circle cx="594.2" cy="110.0" r="2.1" fill="#c3c3c3" fill-opacity="0.8"/>
<circle cx="590.9" cy="110.7" r="2.1" fill="#c3c3c3" fill-opacity="0.8"/>
<circle cx="612.8" cy="109.8" r="2.1" fill="#c3c3c3" fill-opacity="0.8"/>
<circle cx="580.7" cy="111.4" r="2.1" fill="#c3c3c3" fill-opacity="0.8"/>
<circle cx="613.0" cy="109.9" r="2.1" fill="#c3c3c3" fill-opacity="0.8"/>
<circle cx="587.7" cy="110.5" r="2.1" fill="#c3c3c3" fill-opacity="0.8"/>
<circle cx="609.0" cy="111.0" r="2.1" fill="#c3c3c3" fill-opacity="0.8"/>
<circle cx="620.0" cy="110.9" r="2.1" fill="#c3c3c3" fill-opacity="0.8"/>
<circle cx="599.1" cy="111.4" r="2.1" fill="#c3c3c3" fill-opacity="0.8"/>
<circle cx="613.3" cy="111.1" r="2.1" fill="#c3c3c3" fill-opacity="0.8"/>
<circle cx="596.4" cy="111.5" r="2.1" fill="#c3c3c3" fill-opacity="0.8"/>
<circle cx="611.1" cy="111.6" r="2.1" fill="#c3c3c3" fill-opacity="0.8"/>
<circle cx="574.5" cy="110.9" r="2.1" fill="#c3c3c3" fill-opacity="0.8"/>
<circle cx="566.8" cy="110.0" r="2.1" fill="#c3c3c3" fill-opacity="0.8"/>
<circle cx="603.4" cy="110.9" r="2.1" fill="#c3c3c3" fill-opacity="0.8"/>
<circle cx="627.2" cy="109.8" r="2.1" fill="#c3c3c3" fill-opacity="0.8"/>
<circle cx="592.8" cy="111.5" r="2.1" fill="#c3c3c3" fill-opacity="0.8"/>
<circle cx="621.5" cy="110.3" r="2.1" fill="#c3c3c3" fill-opacity="0.8"/>
<circle cx="590.4" cy="110.8" r="2.1" fill="#c3c3c3" fill-opacity="0.8"/>
<circle cx="595.3" cy="111.4" r="2.1" fill="#c3c3c3" fill-opacity="0.8"/>
<circle cx="585.0" cy="110.5" r="2.1" fill="#c3c3c3" fill-opacity="0.8"/>
<circle cx="601.5" cy="110.7" r="2.1" fill="#c3c3c3" fill-opacity="0.8"/>
<circle cx="586.8" cy="111.4" r="2.1" fill="#c3c3c3" fill-opacity="0.8"/>
<circle cx="620.0" cy="110.2" r="2.1" fill="#c3c3c3" fill-opacity="0.8"/>
<circle cx="594.5" cy="110.3" r="2.1" fill="#c3c3c3" fill-opacity="0.8"/>
<circle cx="585.7" cy="110.0" r="2.1" fill="#c3c3c3" fill-opacity="0.8"/>
<circle cx="602.8" cy="111.1" r="2.1" fill="#c3c3c3" fill-opacity="0.8"/>
<circle cx="572.0" cy="110.8" r="2.1" fill="#c3c3c3" fill-opacity="0.8"/>
<circle cx="586.9" cy="111.5" r="2.1" fill="#c3c3c3" fill-opacity="0.8"/>
<circle cx="619.3" cy="111.2" r="2.1" fill="#c3c3c3" fill-opacity="0.8"/>
<circle cx="579.4" cy="110.3" r="2.1" fill="#c3c3c3" fill-opacity="0.8"/>
<circle cx="623.9" cy="108.9" r="2.1" fill="#c3c3c3" fill-opacity="0.8"/>
<circle cx="569.5" cy="109.8" r="2.1" fill="#c3c3c3" fill-opacity="0.8"/>
<circle cx="597.8" cy="111.8" r="2.1" fill="#c3c3c3" fill-opacity="0.8"/>
<circle cx="615.2" cy="110.6" r="2.1" fill="#c3c3c3" fill-opacity="0.8"/>
<circle cx="629.4" cy="109.4" r="2.1" fill="#c3c3c3" fill-opacity="0.8"/>
<circle cx="599.1" cy="111.3" r="2.1" fill="#c3c3c3" fill-opacity="0.8"/>
<circle cx="591.0" cy="110.6" r="2.1" fill="#c3c3c3" fill-opacity="0.8"/>
<circle cx="604.0" cy="110.6" r="2.1" fill="#c3c3c3" fill-opacity="0.8"/>
<circle cx="626.2" cy="110.1" r="2.1" fill="#c3c3c3" fill-opacity="0.8"/>
<circle cx="599.6" cy="110.1" r="2.1" fill="#c3c3c3" fill-opacity="0.8"/>
<circle cx="590.1" cy="110.6" r="2.1" fill="#c3c3c3" fill-opacity="0.8"/>
<circle cx="601.9" cy="111.1" r="2.1" fill="#c3c3c3" fill-opacity="0.8"/>
<circle cx="621.9" cy="111.0" r="2.1" fill="#c3c3c3" fill-opacity="0.8"/>
<circle cx="597.2" cy="110.8" r="2.1" fill="#c3c3c3" fill-opacity="0.8"/>
<circle cx="605.9" cy="111.9" r="2.1" fill="#c3c3c3" fill-opacity="0.8"/>
<circle cx="588.1" cy="110.9" r="2.1" fill="#c3c3c3" fill-opacity="0.8"/>
<circle cx="617.9" cy="109.6" r="2.1" fill="#c3c3c3" fill-opacity="0.8"/>
<circle cx="586.5" cy="111.7" r="2.1" fill="#c3c3c3" fill-opacity="0.8"/>
<circle cx="618.5" cy="110.3" r="2.1" fill="#c3c3c3" fill-opacity="0.8"/>
<circle cx="573.5" cy="110.8" r="2.1" fill="#c3c3c3" fill-opacity="0.8"/>
<circle cx="610.0" cy="111.4" r="2.1" fill="#c3c3c3" fill-opacity="0.8"/>
<circle cx="628.9" cy="110.3" r="2.1" fill="#c3c3c3" fill-opacity="0.8"/>
<circle cx="593.0" cy="110.2" r="2.1" fill="#c3c3c3" fill-opacity="0.8"/>
<circle cx="584.8" cy="110.7" r="2.1" fill="#c3c3c3" fill-opacity="0.8"/>
<circle cx="598.3" cy="110.3" r="2.1" fill="#c3c3c3" fill-opacity="0.8"/>
<circle cx="578.0" cy="110.6" r="2.1" fill="#c3c3c3" fill-opacity="0.8"/>
<circle cx="604.5" cy="110.6" r="2.1" fill="#c3c3c3" fill-opacity="0.8"/>
<circle cx="629.1" cy="109.7" r="2.1" fill="#c3c3c3" fill-opacity="0.8"/>
<circle cx="569.2" cy="109.5" r="2.1" fill="#c3c3c3" fill-opacity="0.8"/>
<circle cx="616.1" cy="110.0" r="2.1" fill="#c3c3c3" fill-opacity="0.8"/>
<circle cx="610.0" cy="109.7" r="2.1" fill="#c3c3c3" fill-opacity="0.8"/>
<circle cx="585.7" cy="111.4" r="2.1" fill="#c3c3c3" fill-opacity="0.8"/>
<circle cx="603.4" cy="111.3" r="2.1" fill="#c3c3c3" fill-opacity="0.8"/>
<circle cx="578.9" cy="110.4" r="2.1" fill="#c3c3c3" fill-opacity="0.8"/>
<circle cx="601.4" cy="110.4" r="2.1" fill="#c3c3c3" fill-opacity="0.8"/>
<circle cx="607.2" cy="110.9" r="2.1" fill="#c3c3c3" fill-opacity="0.8"/>
<circle cx="629.3" cy="109.6" r="2.1" fill="#c3c3c3" fill-opacity="0.8"/>
<circle cx="592.4" cy="110.1" r="2.1" fill="#c3c3c3" fill-opacity="0.8"/>
<circle cx="576.4" cy="110.8" r="2.1" fill="#c3c3c3" fill-opacity="0.8"/>
<circle cx="573.2" cy="109.2" r="2.1" fill="#c3c3c3" fill-opacity="0.8"/>
<circle cx="577.2" cy="110.3" r="2.1" fill="#c3c3c3" fill-opacity="0.8"/>
<circle cx="618.4" cy="110.5" r="2.1" fill="#c3c3c3" fill-opacity="0.8"/>
<circle cx="617.3" cy="109.4" r="2.1" fill="#c3c3c3" fill-opacity="0.8"/>
<circle cx="567.3" cy="110.0" r="2.1" fill="#c3c3c3" fill-opacity="0.8"/>
<circle cx="586.8" cy="111.2" r="2.1" fill="#c3c3c3" fill-opacity="0.8"/>
<circle cx="588.8" cy="110.1" r="2.1" fill="#c3c3c3" fill-opacity="0.8"/>
<circle cx="583.3" cy="109.8" r="2.1" fill="#c3c3c3" fill-opacity="0.8"/>
<circle cx="623.4" cy="110.1" r="2.1" fill="#c3c3c3" fill-opacity="0.8"/>
<circle cx="554.2" cy="79.6" r="2.2" fill="#cbcbcb" fill-opacity="0.8"/>
<circle cx="559.7" cy="101.3" r="2.2" fill="#cbcbcb" fill-opacity="0.8"/>
<circle cx="558.7" cy="105.8" r="2.2" fill="#cbcbcb" fill-opacity="0.8"/>
<circle cx="641.8" cy="104.0" r="2.2" fill="#cbcbcb" fill-opacity="0.8"/>
<circle cx="642.2" cy="110.1" r="2.2" fill="#cbcbcb" fill-opacity="0.8"/>
<circle cx="640.5" cy="110.3" r="2.2" fill="#cbcbcb" fill-opacity="0.8"/>
<circle cx="570.0" cy="107.0" r="2.2" fill="#cbcbcb" fill-opacity="0.8"/>
<circle cx="571.5" cy="106.3" r="2.2" fill="#cbcbcb" fill-opacity="0.8"/>
<circle cx="627.5" cy="107.2" r="2.2" fill="#cbcbcb" fill-opacity="0.8"/>
<circle cx="630.5" cy="106.5" r="2.2" fill="#cbcbcb" fill-opacity="0.8"/>
<circle cx="566.5" cy="110.0" r="2.2" fill="#cbcbcb" fill-opacity="0.8"/>
</g>
<circle cx="654.8" cy="24" r="2.3" fill="#dda3c6" fill-opacity="0.92"/>
<circle cx="677.8" cy="50" r="2.3" fill="#dda3c6" fill-opacity="0.92"/>
<circle cx="651.1" cy="69.6" r="2.3" fill="#dda3c6" fill-opacity="0.92"/>
<circle cx="652.8" cy="74.8" r="2.3" fill="#dda3c6" fill-opacity="0.92"/>
<circle cx="654.4" cy="78.5" r="2.3" fill="#dda3c6" fill-opacity="0.92"/>
<circle cx="654.8" cy="80.2" r="2.3" fill="#dda3c6" fill-opacity="0.92"/>
<circle cx="663.2" cy="76.9" r="2.3" fill="#dda3c6" fill-opacity="0.92"/>
<circle cx="645.5" cy="88.6" r="2.3" fill="#dda3c6" fill-opacity="0.92"/>
<circle cx="653.1" cy="97" r="2.3" fill="#dda3c6" fill-opacity="0.92"/>
<circle cx="655.6" cy="97" r="2.3" fill="#dda3c6" fill-opacity="0.92"/>
<circle cx="645" cy="100.4" r="2.3" fill="#dda3c6" fill-opacity="0.92"/>
<circle cx="647.2" cy="102.9" r="2.3" fill="#dda3c6" fill-opacity="0.92"/>
<circle cx="620.4" cy="107.9" r="2.1" fill="#cf7fae" fill-opacity="0.85"/>
<circle cx="622" cy="107.9" r="2.1" fill="#cf7fae" fill-opacity="0.85"/>
<circle cx="619" cy="108.5" r="2.1" fill="#cf7fae" fill-opacity="0.85"/>
<line x1="628.80" y1="63.00" x2="653.10" y2="74.00" stroke="#cc79a7" stroke-width="0.8" />
<line x1="599.40" y1="66.80" x2="645.00" y2="88.30" stroke="#cc79a7" stroke-width="0.8" />
<line x1="624.00" y1="81.00" x2="646.70" y2="102.40" stroke="#cc79a7" stroke-width="0.8" />
<text x="633.00" y="35.50" font-size="8.2" fill="#ca78a8" stroke="#ca78a8" textLength="16.0" lengthAdjust="spacingAndGlyphs" >purU</text>
<text x="659.50" y="45.60" font-size="8.2" fill="#ca78a8" stroke="#ca78a8" textLength="20.0" lengthAdjust="spacingAndGlyphs" >homD</text>
<text x="635.00" y="58.70" font-size="8.2" fill="#ca78a8" stroke="#ca78a8" textLength="19.0" lengthAdjust="spacingAndGlyphs" >homB</text>
<text x="604.90" y="65.70" font-size="8.2" fill="#ca78a8" stroke="#ca78a8" textLength="19.2" lengthAdjust="spacingAndGlyphs" >BCCT</text>
<text x="576.70" y="70.20" font-size="8.2" fill="#ca78a8" stroke="#ca78a8" textLength="19.7" lengthAdjust="spacingAndGlyphs" >homA</text>
<text x="659.80" y="72.40" font-size="8.2" fill="#ca78a8" stroke="#ca78a8" textLength="19.7" lengthAdjust="spacingAndGlyphs" >homC</text>
<text x="630.80" y="79.30" font-size="8.2" fill="#ca78a8" stroke="#ca78a8" textLength="13.2" lengthAdjust="spacingAndGlyphs" >folD</text>
<text x="601.00" y="83.80" font-size="8.2" fill="#ca78a8" stroke="#ca78a8" textLength="19.0" lengthAdjust="spacingAndGlyphs" >homE</text>
<text x="660.30" y="88.10" font-size="8.2" fill="#ca78a8" stroke="#ca78a8" textLength="19.7" lengthAdjust="spacingAndGlyphs" >mgdA</text>
<text x="652.30" y="92.80" font-size="8.2" fill="#ca78a8" stroke="#ca78a8" textLength="20.1" lengthAdjust="spacingAndGlyphs" >mgdC</text>
<text x="625.40" y="96.80" font-size="8.2" fill="#ca78a8" stroke="#ca78a8" textLength="13.8" lengthAdjust="spacingAndGlyphs" >flgG</text>
<text x="606.60" y="100.10" font-size="8.2" fill="#ca78a8" stroke="#ca78a8" textLength="13.3" lengthAdjust="spacingAndGlyphs" >flgD</text>
<text x="660.30" y="106.50" font-size="8.2" fill="#ca78a8" stroke="#ca78a8" textLength="19.7" lengthAdjust="spacingAndGlyphs" >mgdB</text>
<text x="648.90" y="112.90" font-size="8.2" fill="#ca78a8" stroke="#ca78a8" textLength="19.8" lengthAdjust="spacingAndGlyphs" >mgdD</text>
<text x="-0.50" y="165.80" font-size="12.2" fill="#000" stroke="#000" font-weight="bold" textLength="8.5" lengthAdjust="spacingAndGlyphs" style="stroke-width:0.3px">d</text>
<text x="29.60" y="168.20" font-size="9" fill="#2a2a2a" stroke="#2a2a2a" textLength="64.8" lengthAdjust="spacingAndGlyphs" ><tspan font-style="italic">Cobetia</tspan> sp. OBi1</text>
<text x="195.70" y="168.00" font-size="9" fill="#2a2a2a" stroke="#2a2a2a" textLength="105.0" lengthAdjust="spacingAndGlyphs" >Homarine catabolic genes</text>
<text x="466.00" y="168.00" font-size="9" fill="#2a2a2a" stroke="#2a2a2a" textLength="83.9" lengthAdjust="spacingAndGlyphs" >ACFLL8_11490–11520</text>
<polygon points="40.50,189.50 47.50,183.70 62.70,183.70 62.70,195.30 47.50,195.30" fill="#56b4e9" stroke="#cfcfd4" stroke-width="0.8" stroke-linejoin="miter"/>
<polygon points="68.10,189.50 75.10,183.70 113.30,183.70 113.30,195.30 75.10,195.30" fill="#56b4e9" stroke="#cfcfd4" stroke-width="0.8" stroke-linejoin="miter"/>
<polygon points="113.40,189.50 120.40,183.70 215.50,183.70 215.50,195.30 120.40,195.30" fill="#56b4e9" stroke="#cfcfd4" stroke-width="0.8" stroke-linejoin="miter"/>
<polygon points="215.80,189.50 222.80,183.70 308.00,183.70 308.00,195.30 222.80,195.30" fill="#cc79a7" stroke="#222" stroke-width="0.9" stroke-linejoin="miter"/>
<polygon points="314.50,189.50 321.50,183.70 371.30,183.70 371.30,195.30 321.50,195.30" fill="#56b4e9" stroke="#cfcfd4" stroke-width="0.8" stroke-linejoin="miter"/>
<polygon points="372.40,189.50 379.40,183.70 456.30,183.70 456.30,195.30 379.40,195.30" fill="#56b4e9" stroke="#e0292b" stroke-width="0.9" stroke-linejoin="miter"/>
<polygon points="512.60,189.50 505.60,183.70 462.20,183.70 462.20,195.30 505.60,195.30" fill="#e69f00" stroke="#cfcfd4" stroke-width="0.8" stroke-linejoin="miter"/>
<text x="42.20" y="179.80" font-size="9" fill="#2a2a2a" stroke="#2a2a2a" font-style="italic" textLength="22.0" lengthAdjust="spacingAndGlyphs" >homE</text>
<text x="64.70" y="178.80" font-size="8.2" fill="#a6a8ac" stroke="#a6a8ac" >*</text>
<polygon points="71.90,171.80 72.49,173.38 74.18,173.46 72.86,174.51 73.31,176.14 71.90,175.21 70.49,176.14 70.94,174.51 69.62,173.46 71.31,173.38" fill="#111"/>
<text x="81.70" y="179.80" font-size="9" fill="#2a2a2a" stroke="#2a2a2a" font-style="italic" textLength="22.6" lengthAdjust="spacingAndGlyphs" >homA</text>
<text x="104.80" y="178.80" font-size="8.2" fill="#a6a8ac" stroke="#a6a8ac" >*</text>
<polygon points="112.00,171.80 112.59,173.38 114.28,173.46 112.96,174.51 113.41,176.14 112.00,175.21 110.59,176.14 111.04,174.51 109.72,173.46 111.41,173.38" fill="#111"/>
<text x="158.40" y="179.80" font-size="9" fill="#2a2a2a" stroke="#2a2a2a" font-style="italic" textLength="22.6" lengthAdjust="spacingAndGlyphs" >homB</text>
<text x="181.50" y="178.80" font-size="8.2" fill="#a6a8ac" stroke="#a6a8ac" >*</text>
<polygon points="188.70,171.80 189.29,173.38 190.98,173.46 189.66,174.51 190.11,176.14 188.70,175.21 187.29,176.14 187.74,174.51 186.42,173.46 188.11,173.38" fill="#111"/>
<text x="255.70" y="179.80" font-size="9" fill="#2a2a2a" stroke="#2a2a2a" font-style="italic" textLength="22.2" lengthAdjust="spacingAndGlyphs" >homT</text>
<text x="278.40" y="178.80" font-size="8.2" fill="#a6a8ac" stroke="#a6a8ac" >*</text>
<polygon points="285.60,171.80 286.19,173.38 287.88,173.46 286.56,174.51 287.01,176.14 285.60,175.21 284.19,176.14 284.64,174.51 283.32,173.46 285.01,173.38" fill="#111"/>
<text x="333.70" y="179.80" font-size="9" fill="#2a2a2a" stroke="#2a2a2a" font-style="italic" textLength="23.2" lengthAdjust="spacingAndGlyphs" >homC</text>
<text x="357.40" y="178.80" font-size="8.2" fill="#a6a8ac" stroke="#a6a8ac" >*</text>
<polygon points="364.60,171.80 365.19,173.38 366.88,173.46 365.56,174.51 366.01,176.14 364.60,175.21 363.19,176.14 363.64,174.51 362.32,173.46 364.01,173.38" fill="#111"/>
<text x="405.30" y="179.80" font-size="9" fill="#2a2a2a" stroke="#2a2a2a" font-style="italic" textLength="23.0" lengthAdjust="spacingAndGlyphs" >homD</text>
<text x="428.80" y="178.80" font-size="8.2" fill="#a6a8ac" stroke="#a6a8ac" >*</text>
<polygon points="436.00,171.80 436.59,173.38 438.28,173.46 436.96,174.51 437.41,176.14 436.00,175.21 434.59,176.14 435.04,174.51 433.72,173.46 435.41,173.38" fill="#111"/>
<text x="473.40" y="179.80" font-size="9" fill="#2a2a2a" stroke="#2a2a2a" font-style="italic" textLength="22.5" lengthAdjust="spacingAndGlyphs" >homR</text>
<text x="178.70" y="209.00" font-size="9" fill="#2a2a2a" stroke="#2a2a2a" textLength="145.0" lengthAdjust="spacingAndGlyphs" ><tspan font-style="italic">N</tspan>-methyl glutamate dehydrogenase</text>
<text x="466.00" y="208.70" font-size="9" fill="#2a2a2a" stroke="#2a2a2a" textLength="88.2" lengthAdjust="spacingAndGlyphs" >ACFLL8_07290–07315</text>
<polygon points="40.50,232.00 47.50,226.20 81.10,226.20 81.10,237.80 47.50,237.80" fill="#56b4e9" stroke="#cfcfd4" stroke-width="0.8" stroke-linejoin="miter"/>
<polygon points="81.70,232.00 88.70,226.20 251.40,226.20 251.40,237.80 88.70,237.80" fill="#56b4e9" stroke="#cfcfd4" stroke-width="0.8" stroke-linejoin="miter"/>
<polygon points="251.70,232.00 258.70,226.20 269.60,226.20 269.60,237.80 258.70,237.80" fill="#56b4e9" stroke="#cfcfd4" stroke-width="0.8" stroke-linejoin="miter"/>
<polygon points="276.00,232.00 283.00,226.20 345.90,226.20 345.90,237.80 283.00,237.80" fill="#56b4e9" stroke="#cfcfd4" stroke-width="0.8" stroke-linejoin="miter"/>
<polygon points="348.20,232.00 355.20,226.20 402.10,226.20 402.10,237.80 355.20,237.80" fill="#56b4e9" stroke="#cfcfd4" stroke-width="0.8" stroke-linejoin="miter"/>
<polygon points="409.20,232.00 416.20,226.20 459.60,226.20 459.60,237.80 416.20,237.80" fill="#56b4e9" stroke="#cfcfd4" stroke-width="0.8" stroke-linejoin="miter"/>
<text x="53.50" y="221.10" font-size="9" fill="#2a2a2a" stroke="#2a2a2a" font-style="italic" textLength="24.0" lengthAdjust="spacingAndGlyphs" >mgdD</text>
<text x="78.00" y="220.10" font-size="8.2" fill="#a6a8ac" stroke="#a6a8ac" >*</text>
<polygon points="85.20,213.10 85.79,214.68 87.48,214.76 86.16,215.81 86.61,217.44 85.20,216.51 83.79,217.44 84.24,215.81 82.92,214.76 84.61,214.68" fill="#111"/>
<text x="160.40" y="221.10" font-size="9" fill="#2a2a2a" stroke="#2a2a2a" font-style="italic" textLength="24.4" lengthAdjust="spacingAndGlyphs" >mgdC</text>
<text x="185.30" y="220.10" font-size="8.2" fill="#a6a8ac" stroke="#a6a8ac" >*</text>
<polygon points="192.50,213.10 193.09,214.68 194.78,214.76 193.46,215.81 193.91,217.44 192.50,216.51 191.09,217.44 191.54,215.81 190.22,214.76 191.91,214.68" fill="#111"/>
<text x="250.90" y="221.10" font-size="9" fill="#2a2a2a" stroke="#2a2a2a" font-style="italic" textLength="23.4" lengthAdjust="spacingAndGlyphs" >mgdB</text>
<text x="274.80" y="220.10" font-size="8.2" fill="#a6a8ac" stroke="#a6a8ac" >*</text>
<polygon points="282.00,213.10 282.59,214.68 284.28,214.76 282.96,215.81 283.41,217.44 282.00,216.51 280.59,217.44 281.04,215.81 279.72,214.76 281.41,214.68" fill="#111"/>
<text x="302.60" y="221.10" font-size="9" fill="#2a2a2a" stroke="#2a2a2a" font-style="italic" textLength="23.4" lengthAdjust="spacingAndGlyphs" >mgdA</text>
<text x="326.50" y="220.10" font-size="8.2" fill="#a6a8ac" stroke="#a6a8ac" >*</text>
<polygon points="333.70,213.10 334.29,214.68 335.98,214.76 334.66,215.81 335.11,217.44 333.70,216.51 332.29,217.44 332.74,215.81 331.42,214.76 333.11,214.68" fill="#111"/>
<text x="369.00" y="221.10" font-size="9" fill="#2a2a2a" stroke="#2a2a2a" font-style="italic" textLength="16.6" lengthAdjust="spacingAndGlyphs" >folD</text>
<text x="386.10" y="220.10" font-size="8.2" fill="#a6a8ac" stroke="#a6a8ac" >*</text>
<polygon points="393.30,213.10 393.89,214.68 395.58,214.76 394.26,215.81 394.71,217.44 393.30,216.51 391.89,217.44 392.34,215.81 391.02,214.76 392.71,214.68" fill="#111"/>
<text x="422.00" y="221.10" font-size="9" fill="#2a2a2a" stroke="#2a2a2a" font-style="italic" textLength="19.5" lengthAdjust="spacingAndGlyphs" >purU</text>
<text x="442.00" y="220.10" font-size="8.2" fill="#a6a8ac" stroke="#a6a8ac" >*</text>
<polygon points="449.20,213.10 449.79,214.68 451.48,214.76 450.16,215.81 450.61,217.44 449.20,216.51 447.79,217.44 448.24,215.81 446.92,214.76 448.61,214.68" fill="#111"/>
<text x="196.00" y="251.80" font-size="9" fill="#2a2a2a" stroke="#2a2a2a" textLength="111.0" lengthAdjust="spacingAndGlyphs" >Flagellar and motility genes</text>
<text x="466.00" y="251.80" font-size="9" fill="#2a2a2a" stroke="#2a2a2a" textLength="92.0" lengthAdjust="spacingAndGlyphs" >ACFLL8_08975–09005</text>
<polygon points="40.20,276.00 47.20,270.20 129.20,270.20 129.20,281.80 47.20,281.80" fill="#009e73" stroke="#4fb398" stroke-width="0.5" stroke-linejoin="miter"/>
<polygon points="129.90,276.00 136.90,270.20 209.80,270.20 209.80,281.80 136.90,281.80" fill="#009e73" stroke="#4fb398" stroke-width="0.5" stroke-linejoin="miter"/>
<polygon points="210.60,276.00 217.60,270.20 274.50,270.20 274.50,281.80 217.60,281.80" fill="#009e73" stroke="#4fb398" stroke-width="0.5" stroke-linejoin="miter"/>
<polygon points="278.70,276.00 285.70,270.20 315.00,270.20 315.00,281.80 285.70,281.80" fill="#009e73" stroke="#4fb398" stroke-width="0.5" stroke-linejoin="miter"/>
<polygon points="321.40,276.00 328.40,270.20 366.00,270.20 366.00,281.80 328.40,281.80" fill="#009e73" stroke="#4fb398" stroke-width="0.5" stroke-linejoin="miter"/>
<polygon points="367.60,276.00 374.60,270.20 411.80,270.20 411.80,281.80 374.60,281.80" fill="#009e73" stroke="#4fb398" stroke-width="0.5" stroke-linejoin="miter"/>
<polygon points="418.50,276.00 425.50,270.20 490.10,270.20 490.10,281.80 425.50,281.80" fill="#009e73" stroke="#4fb398" stroke-width="0.5" stroke-linejoin="miter"/>
<polygon points="497.90,276.00 504.90,270.20 537.40,270.20 537.40,281.80 504.90,281.80" fill="#009e73" stroke="#4fb398" stroke-width="0.5" stroke-linejoin="miter"/>
<text x="81.70" y="263.30" font-size="9" fill="#2a2a2a" stroke="#2a2a2a" font-style="italic" textLength="14.6" lengthAdjust="spacingAndGlyphs" >flgK</text>
<polygon points="99.00,255.30 99.59,256.88 101.28,256.96 99.96,258.01 100.41,259.64 99.00,258.71 97.59,259.64 98.04,258.01 96.72,256.96 98.41,256.88" fill="#111"/>
<text x="165.20" y="263.30" font-size="9" fill="#2a2a2a" stroke="#2a2a2a" font-style="italic" textLength="13.2" lengthAdjust="spacingAndGlyphs" >flgJ</text>
<polygon points="181.10,255.30 181.69,256.88 183.38,256.96 182.06,258.01 182.51,259.64 181.10,258.71 179.69,259.64 180.14,258.01 178.82,256.96 180.51,256.88" fill="#111"/>
<text x="237.90" y="263.30" font-size="9" fill="#2a2a2a" stroke="#2a2a2a" font-style="italic" textLength="11.4" lengthAdjust="spacingAndGlyphs" >flgI</text>
<polygon points="252.00,255.30 252.59,256.88 254.28,256.96 252.96,258.01 253.41,259.64 252.00,258.71 250.59,259.64 251.04,258.01 249.72,256.96 251.41,256.88" fill="#111"/>
<text x="292.50" y="263.30" font-size="9" fill="#2a2a2a" stroke="#2a2a2a" font-style="italic" textLength="15.2" lengthAdjust="spacingAndGlyphs" >flgH</text>
<polygon points="310.40,255.30 310.99,256.88 312.68,256.96 311.36,258.01 311.81,259.64 310.40,258.71 308.99,259.64 309.44,258.01 308.12,256.96 309.81,256.88" fill="#111"/>
<text x="337.40" y="263.30" font-size="9" fill="#2a2a2a" stroke="#2a2a2a" font-style="italic" textLength="16.2" lengthAdjust="spacingAndGlyphs" >flgG</text>
<text x="354.10" y="262.30" font-size="8.2" fill="#a6a8ac" stroke="#a6a8ac" >*</text>
<polygon points="361.30,255.30 361.89,256.88 363.58,256.96 362.26,258.01 362.71,259.64 361.30,258.71 359.89,259.64 360.34,258.01 359.02,256.96 360.71,256.88" fill="#111"/>
<text x="381.40" y="263.30" font-size="9" fill="#2a2a2a" stroke="#2a2a2a" font-style="italic" textLength="13.8" lengthAdjust="spacingAndGlyphs" >flgF</text>
<polygon points="397.90,255.30 398.49,256.88 400.18,256.96 398.86,258.01 399.31,259.64 397.90,258.71 396.49,259.64 396.94,258.01 395.62,256.96 397.31,256.88" fill="#111"/>
<text x="450.60" y="263.30" font-size="9" fill="#2a2a2a" stroke="#2a2a2a" font-style="italic" textLength="14.6" lengthAdjust="spacingAndGlyphs" >flgE</text>
<polygon points="467.90,255.30 468.49,256.88 470.18,256.96 468.86,258.01 469.31,259.64 467.90,258.71 466.49,259.64 466.94,258.01 465.62,256.96 467.31,256.88" fill="#111"/>
<text x="512.30" y="263.30" font-size="9" fill="#2a2a2a" stroke="#2a2a2a" font-style="italic" textLength="15.6" lengthAdjust="spacingAndGlyphs" >flgD</text>
<text x="528.40" y="262.30" font-size="8.2" fill="#a6a8ac" stroke="#a6a8ac" >*</text>
<polygon points="535.60,255.30 536.19,256.88 537.88,256.96 536.56,258.01 537.01,259.64 535.60,258.71 534.19,259.64 534.64,258.01 533.32,256.96 535.01,256.88" fill="#111"/>
<text x="29.00" y="299.90" font-size="9" fill="#2a2a2a" stroke="#2a2a2a" textLength="104.0" lengthAdjust="spacingAndGlyphs" ><tspan font-style="italic">Ruegeria pomeroyi</tspan> DSS–3</text>
<text x="199.80" y="300.20" font-size="9" fill="#2a2a2a" stroke="#2a2a2a" textLength="105.2" lengthAdjust="spacingAndGlyphs" >Homarine catabolic genes</text>
<text x="466.00" y="300.20" font-size="9" fill="#2a2a2a" stroke="#2a2a2a" textLength="76.2" lengthAdjust="spacingAndGlyphs" >SPO3186–SPO3192</text>
<polygon points="40.20,322.80 47.20,317.00 145.20,317.00 145.20,328.60 47.20,328.60" fill="#cc79a7" stroke="#cfcfd4" stroke-width="0.8" stroke-linejoin="miter"/>
<polygon points="151.00,322.80 158.00,317.00 209.30,317.00 209.30,328.60 158.00,328.60" fill="#56b4e9" stroke="#3b8fcc" stroke-width="0.9" stroke-linejoin="miter"/>
<polygon points="210.80,322.80 217.80,317.00 245.70,317.00 245.70,328.60 217.80,328.60" fill="#56b4e9" stroke="#3b8fcc" stroke-width="0.9" stroke-linejoin="miter"/>
<polygon points="246.20,322.80 253.20,317.00 341.70,317.00 341.70,328.60 253.20,328.60" fill="#56b4e9" stroke="#e0292b" stroke-width="0.9" stroke-linejoin="miter"/>
<polygon points="342.30,322.80 349.30,317.00 397.70,317.00 397.70,328.60 349.30,328.60" fill="#56b4e9" stroke="#e0292b" stroke-width="0.9" stroke-linejoin="miter"/>
<polygon points="398.80,322.80 405.80,317.00 481.20,317.00 481.20,328.60 405.80,328.60" fill="#56b4e9" stroke="#e0292b" stroke-width="0.9" stroke-linejoin="miter"/>
<polygon points="536.40,322.80 529.40,317.00 486.60,317.00 486.60,328.60 529.40,328.60" fill="#e69f00" stroke="#e0292b" stroke-width="0.9" stroke-linejoin="miter"/>
<text x="85.80" y="313.90" font-size="9" fill="#2a2a2a" stroke="#2a2a2a" textLength="14.5" lengthAdjust="spacingAndGlyphs" >GBT</text>
<text x="175.70" y="314.30" font-size="9" fill="#2a2a2a" stroke="#2a2a2a" font-style="italic" textLength="23.2" lengthAdjust="spacingAndGlyphs" >comC</text>
<text x="219.90" y="314.30" font-size="9" fill="#2a2a2a" stroke="#2a2a2a" font-style="italic" textLength="22.8" lengthAdjust="spacingAndGlyphs" >homA</text>
<text x="285.70" y="314.30" font-size="9" fill="#2a2a2a" stroke="#2a2a2a" font-style="italic" textLength="22.5" lengthAdjust="spacingAndGlyphs" >homB</text>
<text x="361.50" y="314.30" font-size="9" fill="#2a2a2a" stroke="#2a2a2a" font-style="italic" textLength="23.8" lengthAdjust="spacingAndGlyphs" >homC</text>
<text x="431.40" y="314.30" font-size="9" fill="#2a2a2a" stroke="#2a2a2a" font-style="italic" textLength="23.1" lengthAdjust="spacingAndGlyphs" >homD</text>
<text x="496.20" y="314.30" font-size="9" fill="#2a2a2a" stroke="#2a2a2a" font-style="italic" textLength="22.5" lengthAdjust="spacingAndGlyphs" >homR</text>
<text x="179.00" y="344.60" font-size="9" fill="#2a2a2a" stroke="#2a2a2a" textLength="144.6" lengthAdjust="spacingAndGlyphs" ><tspan font-style="italic">N</tspan>-methyl glutamate dehydrogenase</text>
<text x="466.00" y="344.60" font-size="9" fill="#2a2a2a" stroke="#2a2a2a" textLength="76.2" lengthAdjust="spacingAndGlyphs" >SPO1584–SPO1588</text>
<polygon points="130.10,366.90 137.10,361.10 297.00,361.10 297.00,372.70 137.10,372.70" fill="#56b4e9" stroke="#cfcfd4" stroke-width="0.8" stroke-linejoin="miter"/>
<polygon points="297.40,366.90 304.40,361.10 313.00,361.10 313.00,372.70 304.40,372.70" fill="#56b4e9" stroke="#cfcfd4" stroke-width="0.8" stroke-linejoin="miter"/>
<polygon points="97.10,366.90 90.10,361.10 40.30,361.10 40.30,372.70 90.10,372.70" fill="#e69f00" stroke="#222" stroke-width="0.9" stroke-linejoin="miter"/>
<polygon points="97.40,366.90 104.40,361.10 129.20,361.10 129.20,372.70 104.40,372.70" fill="#56b4e9" stroke="#222" stroke-width="0.9" stroke-linejoin="miter"/>
<polygon points="314.20,366.90 321.20,361.10 385.50,361.10 385.50,372.70 321.20,372.70" fill="#56b4e9" stroke="#222" stroke-width="0.9" stroke-linejoin="miter"/>
<text x="45.70" y="357.00" font-size="9" fill="#2a2a2a" stroke="#2a2a2a" textLength="36.0" lengthAdjust="spacingAndGlyphs" >SPO1584</text>
<text x="104.10" y="357.00" font-size="9" fill="#2a2a2a" stroke="#2a2a2a" font-style="italic" textLength="24.4" lengthAdjust="spacingAndGlyphs" >mgdD</text>
<text x="205.80" y="357.00" font-size="9" fill="#2a2a2a" stroke="#2a2a2a" font-style="italic" textLength="24.7" lengthAdjust="spacingAndGlyphs" >mgdC</text>
<text x="295.40" y="357.00" font-size="9" fill="#2a2a2a" stroke="#2a2a2a" font-style="italic" textLength="23.4" lengthAdjust="spacingAndGlyphs" >mgdB</text>
<text x="342.90" y="357.00" font-size="9" fill="#2a2a2a" stroke="#2a2a2a" font-style="italic" textLength="23.4" lengthAdjust="spacingAndGlyphs" >mgdA</text>
<line x1="0.00" y1="377.60" x2="580.40" y2="377.60" stroke="#b9b9b9" stroke-width="1.0" />
<line x1="40.20" y1="377.60" x2="40.20" y2="381.60" stroke="#8a8a8a" stroke-width="0.8" />
<text x="40.20" y="391.20" font-size="6.8" fill="#2a2a2a" stroke="#2a2a2a" text-anchor="middle" textLength="4.4" lengthAdjust="spacingAndGlyphs" >0</text>
<line x1="183.20" y1="377.60" x2="183.20" y2="381.60" stroke="#8a8a8a" stroke-width="0.8" />
<text x="183.20" y="391.20" font-size="6.8" fill="#2a2a2a" stroke="#2a2a2a" text-anchor="middle" textLength="19.5" lengthAdjust="spacingAndGlyphs" >2,500</text>
<line x1="326.00" y1="377.60" x2="326.00" y2="381.60" stroke="#8a8a8a" stroke-width="0.8" />
<text x="326.00" y="391.20" font-size="6.8" fill="#2a2a2a" stroke="#2a2a2a" text-anchor="middle" textLength="19.8" lengthAdjust="spacingAndGlyphs" >5,000</text>
<line x1="468.30" y1="377.60" x2="468.30" y2="381.60" stroke="#8a8a8a" stroke-width="0.8" />
<text x="468.30" y="391.20" font-size="6.8" fill="#2a2a2a" stroke="#2a2a2a" text-anchor="middle" textLength="19.5" lengthAdjust="spacingAndGlyphs" >7,500</text>
<text x="272.90" y="405.00" font-size="7.6" fill="#2a2a2a" stroke="#2a2a2a" textLength="37.9" lengthAdjust="spacingAndGlyphs" >Basepairs</text>
<text x="596.70" y="204.60" font-size="8.2" fill="#2a2a2a" stroke="#2a2a2a" textLength="64.2" lengthAdjust="spacingAndGlyphs" >Protein function</text>
<rect x="596.7" y="210.1" width="7.5" height="7.4" fill="#56b4e9"/>
<text x="608.80" y="216.30" font-size="6.8" fill="#2a2a2a" stroke="#2a2a2a" textLength="32.0" lengthAdjust="spacingAndGlyphs" >Catabolic</text>
<rect x="596.7" y="221.4" width="7.5" height="7.4" fill="#009e73"/>
<text x="608.80" y="227.60" font-size="6.8" fill="#2a2a2a" stroke="#2a2a2a" textLength="33.1" lengthAdjust="spacingAndGlyphs" >Flagellum</text>
<rect x="596.7" y="232.8" width="7.5" height="7.4" fill="#e69f00"/>
<text x="608.80" y="239.00" font-size="6.8" fill="#2a2a2a" stroke="#2a2a2a" textLength="36.1" lengthAdjust="spacingAndGlyphs" >Regulatory</text>
<rect x="596.7" y="244.3" width="7.5" height="7.4" fill="#cc79a7"/>
<text x="608.80" y="250.50" font-size="6.8" fill="#2a2a2a" stroke="#2a2a2a" textLength="32.0" lengthAdjust="spacingAndGlyphs" >Transport</text>
<text x="596.70" y="280.70" font-size="8.2" fill="#2a2a2a" stroke="#2a2a2a" textLength="73.4" lengthAdjust="spacingAndGlyphs" >Mutant phenotype</text>
<rect x="596.9" y="286.7" width="7.4" height="7.4" fill="#fff" stroke="#e03a3a" stroke-width="1.0"/>
<text x="608.80" y="292.90" font-size="6.8" fill="#2a2a2a" stroke="#2a2a2a" textLength="49.9" lengthAdjust="spacingAndGlyphs" >Loss of growth</text>
<rect x="596.9" y="298.2" width="7.4" height="7.4" fill="#fff" stroke="#bfbfbf" stroke-width="1.0"/>
<text x="608.80" y="304.40" font-size="6.8" fill="#2a2a2a" stroke="#2a2a2a" textLength="35.3" lengthAdjust="spacingAndGlyphs" >Not tested</text>
<rect x="596.9" y="309.6" width="7.4" height="7.4" fill="#fff" stroke="#3a95d6" stroke-width="1.0"/>
<text x="608.80" y="315.80" font-size="6.8" fill="#2a2a2a" stroke="#2a2a2a" textLength="36.8" lengthAdjust="spacingAndGlyphs" >No change</text>
<rect x="596.9" y="321.0" width="7.4" height="7.4" fill="#fff" stroke="#2d2d2d" stroke-width="1.0"/>
<text x="608.80" y="327.20" font-size="6.8" fill="#2a2a2a" stroke="#2a2a2a" textLength="42.3" lengthAdjust="spacingAndGlyphs" >Slow growth</text>
<text x="-1.20" y="429.50" font-size="12.2" fill="#000" stroke="#000" font-weight="bold" textLength="7.8" lengthAdjust="spacingAndGlyphs" style="stroke-width:0.3px">e</text>
<line x1="75.82" y1="459.56" x2="89.40" y2="467.40" stroke="#111" stroke-width="1.15" stroke-linecap="round"/>
<line x1="89.40" y1="467.40" x2="89.40" y2="489.80" stroke="#111" stroke-width="1.15" stroke-linecap="round"/>
<line x1="89.40" y1="489.80" x2="70.00" y2="501.00" stroke="#111" stroke-width="1.15" stroke-linecap="round"/>
<line x1="70.00" y1="501.00" x2="50.60" y2="489.80" stroke="#111" stroke-width="1.15" stroke-linecap="round"/>
<line x1="50.60" y1="489.80" x2="50.60" y2="467.40" stroke="#111" stroke-width="1.15" stroke-linecap="round"/>
<line x1="50.60" y1="467.40" x2="64.18" y2="459.56" stroke="#111" stroke-width="1.15" stroke-linecap="round"/>
<line x1="74.02" y1="462.68" x2="85.27" y2="469.17" stroke="#111" stroke-width="1.15" stroke-linecap="round"/>
<line x1="84.88" y1="488.25" x2="70.92" y2="496.31" stroke="#111" stroke-width="1.15" stroke-linecap="round"/>
<line x1="54.20" y1="486.66" x2="54.20" y2="470.54" stroke="#111" stroke-width="1.15" stroke-linecap="round"/>
<text x="70.00" y="461.60" font-size="16" fill="#111" stroke="#111" text-anchor="middle" >N</text>
<text x="75.20" y="455.80" font-size="10.5" fill="#111" stroke="#111" >+</text>
<line x1="70.20" y1="432.60" x2="70.20" y2="446.60" stroke="#111" stroke-width="1.15" stroke-linecap="round"/>
<line x1="89.40" y1="467.40" x2="109.20" y2="456.00" stroke="#111" stroke-width="1.15" stroke-linecap="round"/>
<line x1="107.50" y1="456.60" x2="107.50" y2="439.80" stroke="#111" stroke-width="1.15" stroke-linecap="round"/>
<line x1="111.10" y1="455.00" x2="111.10" y2="439.80" stroke="#111" stroke-width="1.15" stroke-linecap="round"/>
<text x="110.00" y="438.60" font-size="16" fill="#111" stroke="#111" text-anchor="middle" >O</text>
<line x1="109.20" y1="456.00" x2="123.20" y2="463.80" stroke="#111" stroke-width="1.15" stroke-linecap="round"/>
<text x="130.40" y="472.80" font-size="16" fill="#111" stroke="#111" text-anchor="middle" >O</text>
<line x1="135.60" y1="461.60" x2="142.60" y2="461.60" stroke="#111" stroke-width="0.9" />
<text x="51.50" y="517.10" font-size="9" fill="#2a2a2a" stroke="#2a2a2a" textLength="38.7" lengthAdjust="spacingAndGlyphs" >Homarine</text>
<path d="M156.7,462.9 Q171,466 186.2,460.6" fill="none" stroke="#2ba6c9" stroke-width="3.8" stroke-linecap="round"/>
<path d="M172.9,453.9 Q178.5,458.6 186.6,460.2 L177.3,473.7" fill="none" stroke="#2ba6c9" stroke-width="3.8" stroke-linecap="round" stroke-linejoin="round"/>
<line x1="238.90" y1="455.60" x2="259.00" y2="467.20" stroke="#111" stroke-width="1.15" stroke-linecap="round"/>
<line x1="259.00" y1="467.20" x2="279.00" y2="455.60" stroke="#111" stroke-width="1.15" stroke-linecap="round"/>
<line x1="279.00" y1="455.60" x2="298.90" y2="467.20" stroke="#111" stroke-width="1.15" stroke-linecap="round"/>
<line x1="298.90" y1="467.20" x2="318.80" y2="455.60" stroke="#111" stroke-width="1.15" stroke-linecap="round"/>
<line x1="237.10" y1="456.40" x2="237.10" y2="439.40" stroke="#111" stroke-width="1.15" stroke-linecap="round"/>
<line x1="240.70" y1="454.80" x2="240.70" y2="439.40" stroke="#111" stroke-width="1.15" stroke-linecap="round"/>
<text x="238.90" y="438.40" font-size="16" fill="#111" stroke="#111" text-anchor="middle" >O</text>
<line x1="317.00" y1="456.40" x2="317.00" y2="439.40" stroke="#111" stroke-width="1.15" stroke-linecap="round"/>
<line x1="320.60" y1="456.40" x2="320.60" y2="439.40" stroke="#111" stroke-width="1.15" stroke-linecap="round"/>
<text x="318.80" y="438.40" font-size="16" fill="#111" stroke="#111" text-anchor="middle" >O</text>
<line x1="238.90" y1="455.60" x2="227.10" y2="462.40" stroke="#111" stroke-width="1.15" stroke-linecap="round"/>
<text x="224.90" y="472.90" font-size="16" fill="#111" stroke="#111" text-anchor="end" textLength="23.8" lengthAdjust="spacingAndGlyphs" >HO</text>
<line x1="318.80" y1="455.60" x2="330.60" y2="462.40" stroke="#111" stroke-width="1.15" stroke-linecap="round"/>
<text x="332.80" y="472.90" font-size="16" fill="#111" stroke="#111" textLength="23.4" lengthAdjust="spacingAndGlyphs" >OH</text>
<line x1="298.90" y1="467.20" x2="298.90" y2="481.00" stroke="#111" stroke-width="1.15" stroke-linecap="round"/>
<text x="294.30" y="495.80" font-size="16" fill="#111" stroke="#111" textLength="21.2" lengthAdjust="spacingAndGlyphs" >NH</text>
<line x1="291.20" y1="494.50" x2="279.50" y2="501.30" stroke="#111" stroke-width="1.15" stroke-linecap="round"/>
<text x="232.60" y="517.10" font-size="9" fill="#2a2a2a" stroke="#2a2a2a" textLength="90.6" lengthAdjust="spacingAndGlyphs" ><tspan font-style="italic">N</tspan>-methylglutamic acid</text>
<path d="M377.5,451 Q391.5,442.6 408.8,452.2" fill="none" stroke="#2ba6c9" stroke-width="3.8" stroke-linecap="round"/>
<path d="M406.9,440.9 L409.1,452.7 L393.9,456.3" fill="none" stroke="#2ba6c9" stroke-width="3.8" stroke-linecap="round" stroke-linejoin="round"/>
<line x1="460.20" y1="456.20" x2="480.30" y2="467.80" stroke="#111" stroke-width="1.15" stroke-linecap="round"/>
<line x1="480.30" y1="467.80" x2="500.30" y2="456.20" stroke="#111" stroke-width="1.15" stroke-linecap="round"/>
<line x1="500.30" y1="456.20" x2="520.20" y2="467.80" stroke="#111" stroke-width="1.15" stroke-linecap="round"/>
<line x1="520.20" y1="467.80" x2="540.10" y2="456.20" stroke="#111" stroke-width="1.15" stroke-linecap="round"/>
<line x1="458.40" y1="457.00" x2="458.40" y2="440.00" stroke="#111" stroke-width="1.15" stroke-linecap="round"/>
<line x1="462.00" y1="455.40" x2="462.00" y2="440.00" stroke="#111" stroke-width="1.15" stroke-linecap="round"/>
<text x="460.20" y="439.00" font-size="16" fill="#111" stroke="#111" text-anchor="middle" >O</text>
<line x1="538.30" y1="457.00" x2="538.30" y2="440.00" stroke="#111" stroke-width="1.15" stroke-linecap="round"/>
<line x1="541.90" y1="457.00" x2="541.90" y2="440.00" stroke="#111" stroke-width="1.15" stroke-linecap="round"/>
<text x="540.10" y="439.00" font-size="16" fill="#111" stroke="#111" text-anchor="middle" >O</text>
<line x1="460.20" y1="456.20" x2="448.40" y2="463.00" stroke="#111" stroke-width="1.15" stroke-linecap="round"/>
<text x="446.20" y="473.50" font-size="16" fill="#111" stroke="#111" text-anchor="end" textLength="23.8" lengthAdjust="spacingAndGlyphs" >HO</text>
<line x1="540.10" y1="456.20" x2="551.90" y2="463.00" stroke="#111" stroke-width="1.15" stroke-linecap="round"/>
<text x="554.10" y="473.50" font-size="16" fill="#111" stroke="#111" textLength="23.4" lengthAdjust="spacingAndGlyphs" >OH</text>
<line x1="520.20" y1="467.80" x2="520.20" y2="481.60" stroke="#111" stroke-width="1.15" stroke-linecap="round"/>
<text x="515.4" y="496.8" font-size="16" fill="#111" stroke="#111">NH<tspan font-size="11" dy="3.4">2</tspan></text>
<text x="477.90" y="517.10" font-size="9" fill="#2a2a2a" stroke="#2a2a2a" textLength="55.5" lengthAdjust="spacingAndGlyphs" >Glutamic acid</text>
</svg>
</body></html>
